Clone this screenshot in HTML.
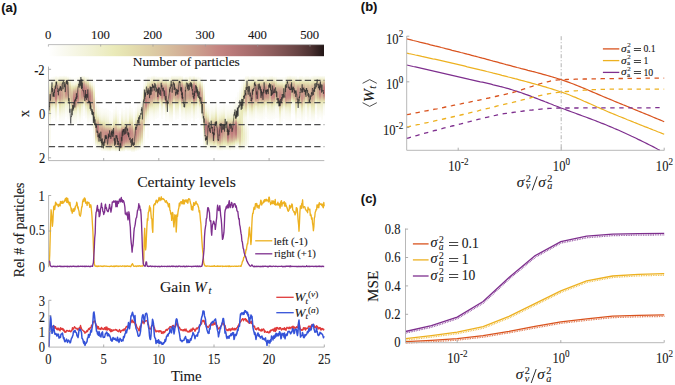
<!DOCTYPE html>
<html><head><meta charset="utf-8"><style>
html,body{margin:0;padding:0;background:#fff;width:675px;height:385px;overflow:hidden}
svg{display:block}
text{stroke:#161616;stroke-width:0.1px;paint-order:stroke}
</style></head><body>
<svg width="675" height="385" viewBox="0 0 675 385">
<defs><linearGradient id="h0" x1="0" y1="0" x2="0" y2="1"><stop offset="0" stop-color="#fdfdf9"/><stop offset="0.071" stop-color="#f7f7e7"/><stop offset="0.143" stop-color="#eeeec8"/><stop offset="0.214" stop-color="#e1d8ab"/><stop offset="0.286" stop-color="#d7bd9d"/><stop offset="0.357" stop-color="#d5b89a"/><stop offset="0.429" stop-color="#ddcea5"/><stop offset="0.5" stop-color="#eaeab9"/><stop offset="0.571" stop-color="#f4f4de"/><stop offset="0.643" stop-color="#fafaf1"/><stop offset="0.714" stop-color="#fbfbf3"/><stop offset="0.786" stop-color="#fafaf0"/><stop offset="0.857" stop-color="#fafaf1"/><stop offset="0.929" stop-color="#fbfbf3"/><stop offset="1" stop-color="#fdfdfa"/></linearGradient><linearGradient id="h1" x1="0" y1="0" x2="0" y2="1"><stop offset="0" stop-color="#fdfdfa"/><stop offset="0.071" stop-color="#f9f9ec"/><stop offset="0.143" stop-color="#f4f4de"/><stop offset="0.214" stop-color="#e9e9b8"/><stop offset="0.286" stop-color="#dac6a1"/><stop offset="0.357" stop-color="#d1ae95"/><stop offset="0.429" stop-color="#cfa992"/><stop offset="0.5" stop-color="#d0ac94"/><stop offset="0.571" stop-color="#d6ba9b"/><stop offset="0.643" stop-color="#e2daac"/><stop offset="0.714" stop-color="#f1f1d3"/><stop offset="0.786" stop-color="#f9f9ec"/><stop offset="0.857" stop-color="#fbfbf4"/><stop offset="0.929" stop-color="#fcfcf8"/><stop offset="1" stop-color="#fdfdfb"/></linearGradient><linearGradient id="h2" x1="0" y1="0" x2="0" y2="1"><stop offset="0" stop-color="#fdfdfa"/><stop offset="0.071" stop-color="#f7f7e9"/><stop offset="0.143" stop-color="#f0f0d1"/><stop offset="0.214" stop-color="#e3dcad"/><stop offset="0.286" stop-color="#d5b99b"/><stop offset="0.357" stop-color="#cfa792"/><stop offset="0.429" stop-color="#cea490"/><stop offset="0.5" stop-color="#d0a992"/><stop offset="0.571" stop-color="#d7bd9d"/><stop offset="0.643" stop-color="#e5e0af"/><stop offset="0.714" stop-color="#f2f2d6"/><stop offset="0.786" stop-color="#f8f8ea"/><stop offset="0.857" stop-color="#fafaf2"/><stop offset="0.929" stop-color="#fcfcf7"/><stop offset="1" stop-color="#fdfdfa"/></linearGradient><linearGradient id="h3" x1="0" y1="0" x2="0" y2="1"><stop offset="0" stop-color="#fdfdfa"/><stop offset="0.071" stop-color="#f4f4dd"/><stop offset="0.143" stop-color="#e2daac"/><stop offset="0.214" stop-color="#cea590"/><stop offset="0.286" stop-color="#c27f7f"/><stop offset="0.357" stop-color="#ba7a7a"/><stop offset="0.429" stop-color="#b67777"/><stop offset="0.5" stop-color="#bf7d7d"/><stop offset="0.571" stop-color="#d1ac94"/><stop offset="0.643" stop-color="#e3ddad"/><stop offset="0.714" stop-color="#eeeec9"/><stop offset="0.786" stop-color="#f4f4dd"/><stop offset="0.857" stop-color="#f8f8eb"/><stop offset="0.929" stop-color="#fbfbf5"/><stop offset="1" stop-color="#fdfdfa"/></linearGradient><linearGradient id="h4" x1="0" y1="0" x2="0" y2="1"><stop offset="0" stop-color="#fdfdf9"/><stop offset="0.071" stop-color="#f5f5e1"/><stop offset="0.143" stop-color="#e8e7b3"/><stop offset="0.214" stop-color="#d8bf9e"/><stop offset="0.286" stop-color="#cda18f"/><stop offset="0.357" stop-color="#ca988a"/><stop offset="0.429" stop-color="#ca988a"/><stop offset="0.5" stop-color="#cda18f"/><stop offset="0.571" stop-color="#d7be9d"/><stop offset="0.643" stop-color="#e7e6b3"/><stop offset="0.714" stop-color="#f4f4de"/><stop offset="0.786" stop-color="#f9f9ef"/><stop offset="0.857" stop-color="#fbfbf5"/><stop offset="0.929" stop-color="#fcfcf8"/><stop offset="1" stop-color="#fdfdfb"/></linearGradient><linearGradient id="h5" x1="0" y1="0" x2="0" y2="1"><stop offset="0" stop-color="#fdfdfa"/><stop offset="0.071" stop-color="#f2f2d8"/><stop offset="0.143" stop-color="#e2d9ab"/><stop offset="0.214" stop-color="#d3b398"/><stop offset="0.286" stop-color="#cda08e"/><stop offset="0.357" stop-color="#ca988a"/><stop offset="0.429" stop-color="#c89388"/><stop offset="0.5" stop-color="#cda28f"/><stop offset="0.571" stop-color="#dac6a1"/><stop offset="0.643" stop-color="#e6e2b1"/><stop offset="0.714" stop-color="#ededc4"/><stop offset="0.786" stop-color="#f2f2d8"/><stop offset="0.857" stop-color="#f8f8e9"/><stop offset="0.929" stop-color="#fbfbf5"/><stop offset="1" stop-color="#fdfdfa"/></linearGradient><linearGradient id="h6" x1="0" y1="0" x2="0" y2="1"><stop offset="0" stop-color="#fdfdfa"/><stop offset="0.071" stop-color="#f2f2d8"/><stop offset="0.143" stop-color="#e3dbac"/><stop offset="0.214" stop-color="#d6bb9b"/><stop offset="0.286" stop-color="#d0ac94"/><stop offset="0.357" stop-color="#cea591"/><stop offset="0.429" stop-color="#cda28f"/><stop offset="0.5" stop-color="#d2b096"/><stop offset="0.571" stop-color="#ded0a7"/><stop offset="0.643" stop-color="#e9e9b7"/><stop offset="0.714" stop-color="#efefcd"/><stop offset="0.786" stop-color="#f4f4de"/><stop offset="0.857" stop-color="#f8f8eb"/><stop offset="0.929" stop-color="#fbfbf5"/><stop offset="1" stop-color="#fdfdfa"/></linearGradient><linearGradient id="h7" x1="0" y1="0" x2="0" y2="1"><stop offset="0" stop-color="#fdfdfb"/><stop offset="0.071" stop-color="#f3f3d9"/><stop offset="0.143" stop-color="#e4deae"/><stop offset="0.214" stop-color="#dac6a1"/><stop offset="0.286" stop-color="#d6bc9c"/><stop offset="0.357" stop-color="#d5b89a"/><stop offset="0.429" stop-color="#d4b699"/><stop offset="0.5" stop-color="#d8bf9e"/><stop offset="0.571" stop-color="#e1d7aa"/><stop offset="0.643" stop-color="#ebebbd"/><stop offset="0.714" stop-color="#f1f1d2"/><stop offset="0.786" stop-color="#f5f5e0"/><stop offset="0.857" stop-color="#f9f9ed"/><stop offset="0.929" stop-color="#fbfbf5"/><stop offset="1" stop-color="#fdfdfa"/></linearGradient><linearGradient id="h8" x1="0" y1="0" x2="0" y2="1"><stop offset="0" stop-color="#fdfdfa"/><stop offset="0.071" stop-color="#f2f2d7"/><stop offset="0.143" stop-color="#dfd2a8"/><stop offset="0.214" stop-color="#d0a992"/><stop offset="0.286" stop-color="#c99589"/><stop offset="0.357" stop-color="#c78f86"/><stop offset="0.429" stop-color="#c78f86"/><stop offset="0.5" stop-color="#cea390"/><stop offset="0.571" stop-color="#decea6"/><stop offset="0.643" stop-color="#ececc3"/><stop offset="0.714" stop-color="#f3f3db"/><stop offset="0.786" stop-color="#f7f7e7"/><stop offset="0.857" stop-color="#fafaf0"/><stop offset="0.929" stop-color="#fcfcf6"/><stop offset="1" stop-color="#fdfdfa"/></linearGradient><linearGradient id="h9" x1="0" y1="0" x2="0" y2="1"><stop offset="0" stop-color="#fdfdf9"/><stop offset="0.071" stop-color="#f2f2d7"/><stop offset="0.143" stop-color="#e2d9ab"/><stop offset="0.214" stop-color="#d3b498"/><stop offset="0.286" stop-color="#cea490"/><stop offset="0.357" stop-color="#cca08e"/><stop offset="0.429" stop-color="#cda18f"/><stop offset="0.5" stop-color="#d4b799"/><stop offset="0.571" stop-color="#e3ddad"/><stop offset="0.643" stop-color="#efefcd"/><stop offset="0.714" stop-color="#f4f4de"/><stop offset="0.786" stop-color="#f7f7e7"/><stop offset="0.857" stop-color="#fafaf0"/><stop offset="0.929" stop-color="#fcfcf6"/><stop offset="1" stop-color="#fdfdfb"/></linearGradient><linearGradient id="h10" x1="0" y1="0" x2="0" y2="1"><stop offset="0" stop-color="#fdfdfa"/><stop offset="0.071" stop-color="#f8f8ea"/><stop offset="0.143" stop-color="#eeeeca"/><stop offset="0.214" stop-color="#e1d8ab"/><stop offset="0.286" stop-color="#dac5a1"/><stop offset="0.357" stop-color="#d7bf9d"/><stop offset="0.429" stop-color="#d7bd9d"/><stop offset="0.5" stop-color="#dac6a1"/><stop offset="0.571" stop-color="#e5e0af"/><stop offset="0.643" stop-color="#f1f1d2"/><stop offset="0.714" stop-color="#f7f7e6"/><stop offset="0.786" stop-color="#f9f9ee"/><stop offset="0.857" stop-color="#fbfbf3"/><stop offset="0.929" stop-color="#fcfcf7"/><stop offset="1" stop-color="#fdfdfa"/></linearGradient><linearGradient id="h11" x1="0" y1="0" x2="0" y2="1"><stop offset="0" stop-color="#fdfdfa"/><stop offset="0.071" stop-color="#fafaf0"/><stop offset="0.143" stop-color="#f3f3da"/><stop offset="0.214" stop-color="#e7e5b2"/><stop offset="0.286" stop-color="#ddcca5"/><stop offset="0.357" stop-color="#d7bd9d"/><stop offset="0.429" stop-color="#d2b197"/><stop offset="0.5" stop-color="#d3b297"/><stop offset="0.571" stop-color="#dccba4"/><stop offset="0.643" stop-color="#eaeab9"/><stop offset="0.714" stop-color="#f2f2d6"/><stop offset="0.786" stop-color="#f6f6e6"/><stop offset="0.857" stop-color="#fafaf0"/><stop offset="0.929" stop-color="#fcfcf7"/><stop offset="1" stop-color="#fdfdfa"/></linearGradient><linearGradient id="h12" x1="0" y1="0" x2="0" y2="1"><stop offset="0" stop-color="#fdfdfa"/><stop offset="0.071" stop-color="#fafaf1"/><stop offset="0.143" stop-color="#f4f4de"/><stop offset="0.214" stop-color="#e4dfaf"/><stop offset="0.286" stop-color="#d2b196"/><stop offset="0.357" stop-color="#c89388"/><stop offset="0.429" stop-color="#c38280"/><stop offset="0.5" stop-color="#c27f7f"/><stop offset="0.571" stop-color="#cc9f8e"/><stop offset="0.643" stop-color="#e0d4a9"/><stop offset="0.714" stop-color="#efefcc"/><stop offset="0.786" stop-color="#f6f6e3"/><stop offset="0.857" stop-color="#f9f9ef"/><stop offset="0.929" stop-color="#fcfcf6"/><stop offset="1" stop-color="#fdfdfa"/></linearGradient><linearGradient id="h13" x1="0" y1="0" x2="0" y2="1"><stop offset="0" stop-color="#fdfdfa"/><stop offset="0.071" stop-color="#fafaf0"/><stop offset="0.143" stop-color="#f3f3d9"/><stop offset="0.214" stop-color="#e2d9ab"/><stop offset="0.286" stop-color="#d0ab94"/><stop offset="0.357" stop-color="#c89288"/><stop offset="0.429" stop-color="#c58883"/><stop offset="0.5" stop-color="#c48682"/><stop offset="0.571" stop-color="#cea490"/><stop offset="0.643" stop-color="#e1d6aa"/><stop offset="0.714" stop-color="#efefcd"/><stop offset="0.786" stop-color="#f6f6e3"/><stop offset="0.857" stop-color="#f9f9ef"/><stop offset="0.929" stop-color="#fcfcf6"/><stop offset="1" stop-color="#fdfdfb"/></linearGradient><linearGradient id="h14" x1="0" y1="0" x2="0" y2="1"><stop offset="0" stop-color="#fdfdfa"/><stop offset="0.071" stop-color="#f9f9ee"/><stop offset="0.143" stop-color="#f2f2d8"/><stop offset="0.214" stop-color="#e2d8ab"/><stop offset="0.286" stop-color="#cea691"/><stop offset="0.357" stop-color="#c58983"/><stop offset="0.429" stop-color="#c27f7f"/><stop offset="0.5" stop-color="#c17e7e"/><stop offset="0.571" stop-color="#cc9e8d"/><stop offset="0.643" stop-color="#e0d4a9"/><stop offset="0.714" stop-color="#f0f0ce"/><stop offset="0.786" stop-color="#f6f6e4"/><stop offset="0.857" stop-color="#f9f9ef"/><stop offset="0.929" stop-color="#fcfcf6"/><stop offset="1" stop-color="#fdfdfa"/></linearGradient><linearGradient id="h15" x1="0" y1="0" x2="0" y2="1"><stop offset="0" stop-color="#fdfdfa"/><stop offset="0.071" stop-color="#f5f5e0"/><stop offset="0.143" stop-color="#eaeaba"/><stop offset="0.214" stop-color="#dbc9a3"/><stop offset="0.286" stop-color="#d3b297"/><stop offset="0.357" stop-color="#d1ac94"/><stop offset="0.429" stop-color="#d0a993"/><stop offset="0.5" stop-color="#d2b197"/><stop offset="0.571" stop-color="#ddcca4"/><stop offset="0.643" stop-color="#e7e5b2"/><stop offset="0.714" stop-color="#ededc4"/><stop offset="0.786" stop-color="#f2f2d7"/><stop offset="0.857" stop-color="#f7f7e8"/><stop offset="0.929" stop-color="#fbfbf4"/><stop offset="1" stop-color="#fdfdfa"/></linearGradient><linearGradient id="h16" x1="0" y1="0" x2="0" y2="1"><stop offset="0" stop-color="#fdfdfa"/><stop offset="0.071" stop-color="#f1f1d4"/><stop offset="0.143" stop-color="#ded0a6"/><stop offset="0.214" stop-color="#cea591"/><stop offset="0.286" stop-color="#c78f86"/><stop offset="0.357" stop-color="#c68b84"/><stop offset="0.429" stop-color="#c78e86"/><stop offset="0.5" stop-color="#cc9f8d"/><stop offset="0.571" stop-color="#d9c4a0"/><stop offset="0.643" stop-color="#e9e9b8"/><stop offset="0.714" stop-color="#f3f3d9"/><stop offset="0.786" stop-color="#f7f7e7"/><stop offset="0.857" stop-color="#fafaf0"/><stop offset="0.929" stop-color="#fcfcf7"/><stop offset="1" stop-color="#fdfdfb"/></linearGradient><linearGradient id="h17" x1="0" y1="0" x2="0" y2="1"><stop offset="0" stop-color="#fdfdf9"/><stop offset="0.071" stop-color="#f0f0d1"/><stop offset="0.143" stop-color="#dcc9a3"/><stop offset="0.214" stop-color="#ca988a"/><stop offset="0.286" stop-color="#bf7d7d"/><stop offset="0.357" stop-color="#bb7a7a"/><stop offset="0.429" stop-color="#bd7b7b"/><stop offset="0.5" stop-color="#c58782"/><stop offset="0.571" stop-color="#d2af95"/><stop offset="0.643" stop-color="#e5e0af"/><stop offset="0.714" stop-color="#f4f4dc"/><stop offset="0.786" stop-color="#fafaf0"/><stop offset="0.857" stop-color="#fbfbf5"/><stop offset="0.929" stop-color="#fcfcf8"/><stop offset="1" stop-color="#fdfdfa"/></linearGradient><linearGradient id="h18" x1="0" y1="0" x2="0" y2="1"><stop offset="0" stop-color="#fdfdfa"/><stop offset="0.071" stop-color="#f4f4dc"/><stop offset="0.143" stop-color="#e3dbad"/><stop offset="0.214" stop-color="#d0ac94"/><stop offset="0.286" stop-color="#c68b84"/><stop offset="0.357" stop-color="#bd7c7c"/><stop offset="0.429" stop-color="#b37575"/><stop offset="0.5" stop-color="#bb7a7a"/><stop offset="0.571" stop-color="#cfa792"/><stop offset="0.643" stop-color="#e2d9ac"/><stop offset="0.714" stop-color="#ededc7"/><stop offset="0.786" stop-color="#f4f4dd"/><stop offset="0.857" stop-color="#f8f8ec"/><stop offset="0.929" stop-color="#fbfbf5"/><stop offset="1" stop-color="#fdfdfa"/></linearGradient><linearGradient id="h19" x1="0" y1="0" x2="0" y2="1"><stop offset="0" stop-color="#fdfdfa"/><stop offset="0.071" stop-color="#f6f6e3"/><stop offset="0.143" stop-color="#e6e4b1"/><stop offset="0.214" stop-color="#d4b498"/><stop offset="0.286" stop-color="#c9978a"/><stop offset="0.357" stop-color="#c68b84"/><stop offset="0.429" stop-color="#c38381"/><stop offset="0.5" stop-color="#c99489"/><stop offset="0.571" stop-color="#d8c19f"/><stop offset="0.643" stop-color="#e6e3b1"/><stop offset="0.714" stop-color="#ededc6"/><stop offset="0.786" stop-color="#f3f3d9"/><stop offset="0.857" stop-color="#f8f8e9"/><stop offset="0.929" stop-color="#fbfbf4"/><stop offset="1" stop-color="#fdfdfa"/></linearGradient><linearGradient id="h20" x1="0" y1="0" x2="0" y2="1"><stop offset="0" stop-color="#fdfdfa"/><stop offset="0.071" stop-color="#f9f9ef"/><stop offset="0.143" stop-color="#f1f1d2"/><stop offset="0.214" stop-color="#ded0a7"/><stop offset="0.286" stop-color="#cea590"/><stop offset="0.357" stop-color="#c68b84"/><stop offset="0.429" stop-color="#bd7c7c"/><stop offset="0.5" stop-color="#bb7a7a"/><stop offset="0.571" stop-color="#cda08e"/><stop offset="0.643" stop-color="#e0d5a9"/><stop offset="0.714" stop-color="#ececc3"/><stop offset="0.786" stop-color="#f3f3db"/><stop offset="0.857" stop-color="#f8f8eb"/><stop offset="0.929" stop-color="#fbfbf5"/><stop offset="1" stop-color="#fdfdfa"/></linearGradient><linearGradient id="h21" x1="0" y1="0" x2="0" y2="1"><stop offset="0" stop-color="#fdfdfa"/><stop offset="0.071" stop-color="#fbfbf3"/><stop offset="0.143" stop-color="#f4f4dd"/><stop offset="0.214" stop-color="#e3dbac"/><stop offset="0.286" stop-color="#d3b397"/><stop offset="0.357" stop-color="#cda28f"/><stop offset="0.429" stop-color="#cb9c8c"/><stop offset="0.5" stop-color="#cea591"/><stop offset="0.571" stop-color="#ddcda5"/><stop offset="0.643" stop-color="#eeeec8"/><stop offset="0.714" stop-color="#f5f5e0"/><stop offset="0.786" stop-color="#f8f8ea"/><stop offset="0.857" stop-color="#fafaf2"/><stop offset="0.929" stop-color="#fcfcf7"/><stop offset="1" stop-color="#fdfdfa"/></linearGradient><linearGradient id="h22" x1="0" y1="0" x2="0" y2="1"><stop offset="0" stop-color="#fdfdfb"/><stop offset="0.071" stop-color="#fbfbf5"/><stop offset="0.143" stop-color="#f4f4dc"/><stop offset="0.214" stop-color="#e9e9b8"/><stop offset="0.286" stop-color="#e1d6aa"/><stop offset="0.357" stop-color="#d6ba9b"/><stop offset="0.429" stop-color="#d1ac94"/><stop offset="0.5" stop-color="#d7bd9d"/><stop offset="0.571" stop-color="#dfd3a8"/><stop offset="0.643" stop-color="#e8e8b4"/><stop offset="0.714" stop-color="#f0f0d1"/><stop offset="0.786" stop-color="#f6f6e5"/><stop offset="0.857" stop-color="#fafaf1"/><stop offset="0.929" stop-color="#fcfcf7"/><stop offset="1" stop-color="#fdfdfa"/></linearGradient><linearGradient id="h23" x1="0" y1="0" x2="0" y2="1"><stop offset="0" stop-color="#fdfdfb"/><stop offset="0.071" stop-color="#fcfcf6"/><stop offset="0.143" stop-color="#f9f9ef"/><stop offset="0.214" stop-color="#f5f5e2"/><stop offset="0.286" stop-color="#f0f0d0"/><stop offset="0.357" stop-color="#eaeabb"/><stop offset="0.429" stop-color="#e2daac"/><stop offset="0.5" stop-color="#d6bc9c"/><stop offset="0.571" stop-color="#d0a993"/><stop offset="0.643" stop-color="#d3b297"/><stop offset="0.714" stop-color="#d9c29f"/><stop offset="0.786" stop-color="#e1d8ab"/><stop offset="0.857" stop-color="#efefcc"/><stop offset="0.929" stop-color="#f9f9ee"/><stop offset="1" stop-color="#fdfdfa"/></linearGradient><linearGradient id="h24" x1="0" y1="0" x2="0" y2="1"><stop offset="0" stop-color="#fdfdfb"/><stop offset="0.071" stop-color="#fcfcf7"/><stop offset="0.143" stop-color="#fafaf1"/><stop offset="0.214" stop-color="#f7f7e7"/><stop offset="0.286" stop-color="#f1f1d3"/><stop offset="0.357" stop-color="#e4deae"/><stop offset="0.429" stop-color="#d1ac94"/><stop offset="0.5" stop-color="#c48582"/><stop offset="0.571" stop-color="#c38280"/><stop offset="0.643" stop-color="#c78f86"/><stop offset="0.714" stop-color="#cea590"/><stop offset="0.786" stop-color="#dccba4"/><stop offset="0.857" stop-color="#ededc7"/><stop offset="0.929" stop-color="#f8f8ea"/><stop offset="1" stop-color="#fdfdf9"/></linearGradient><linearGradient id="h25" x1="0" y1="0" x2="0" y2="1"><stop offset="0" stop-color="#fdfdfa"/><stop offset="0.071" stop-color="#fcfcf6"/><stop offset="0.143" stop-color="#f9f9ef"/><stop offset="0.214" stop-color="#f6f6e3"/><stop offset="0.286" stop-color="#f0f0d1"/><stop offset="0.357" stop-color="#e6e4b1"/><stop offset="0.429" stop-color="#d8c09e"/><stop offset="0.5" stop-color="#cfa691"/><stop offset="0.571" stop-color="#cda390"/><stop offset="0.643" stop-color="#d0ab93"/><stop offset="0.714" stop-color="#d6ba9b"/><stop offset="0.786" stop-color="#e1d6aa"/><stop offset="0.857" stop-color="#efefcb"/><stop offset="0.929" stop-color="#f7f7e8"/><stop offset="1" stop-color="#fdfdf9"/></linearGradient><linearGradient id="h26" x1="0" y1="0" x2="0" y2="1"><stop offset="0" stop-color="#fdfdfa"/><stop offset="0.071" stop-color="#fcfcf6"/><stop offset="0.143" stop-color="#fafaf0"/><stop offset="0.214" stop-color="#f6f6e5"/><stop offset="0.286" stop-color="#f1f1d5"/><stop offset="0.357" stop-color="#e7e5b2"/><stop offset="0.429" stop-color="#d7be9d"/><stop offset="0.5" stop-color="#cb9c8c"/><stop offset="0.571" stop-color="#c89287"/><stop offset="0.643" stop-color="#c99689"/><stop offset="0.714" stop-color="#cca08e"/><stop offset="0.786" stop-color="#d5b89a"/><stop offset="0.857" stop-color="#e5e0af"/><stop offset="0.929" stop-color="#f4f4de"/><stop offset="1" stop-color="#fdfdfa"/></linearGradient><linearGradient id="h27" x1="0" y1="0" x2="0" y2="1"><stop offset="0" stop-color="#fdfdfa"/><stop offset="0.071" stop-color="#fbfbf5"/><stop offset="0.143" stop-color="#f8f8ec"/><stop offset="0.214" stop-color="#f4f4de"/><stop offset="0.286" stop-color="#efefcd"/><stop offset="0.357" stop-color="#e7e6b2"/><stop offset="0.429" stop-color="#dac4a0"/><stop offset="0.5" stop-color="#cca08e"/><stop offset="0.571" stop-color="#c89187"/><stop offset="0.643" stop-color="#c99689"/><stop offset="0.714" stop-color="#cc9f8d"/><stop offset="0.786" stop-color="#d3b398"/><stop offset="0.857" stop-color="#e1d8ab"/><stop offset="0.929" stop-color="#f2f2d6"/><stop offset="1" stop-color="#fdfdf9"/></linearGradient><linearGradient id="h28" x1="0" y1="0" x2="0" y2="1"><stop offset="0" stop-color="#fdfdfa"/><stop offset="0.071" stop-color="#fcfcf6"/><stop offset="0.143" stop-color="#f9f9ef"/><stop offset="0.214" stop-color="#f6f6e4"/><stop offset="0.286" stop-color="#f2f2d8"/><stop offset="0.357" stop-color="#ededc4"/><stop offset="0.429" stop-color="#e0d5a9"/><stop offset="0.5" stop-color="#d0a993"/><stop offset="0.571" stop-color="#c68c85"/><stop offset="0.643" stop-color="#c58883"/><stop offset="0.714" stop-color="#c78e86"/><stop offset="0.786" stop-color="#cc9f8e"/><stop offset="0.857" stop-color="#dac6a2"/><stop offset="0.929" stop-color="#efefcc"/><stop offset="1" stop-color="#fdfdf9"/></linearGradient><linearGradient id="h29" x1="0" y1="0" x2="0" y2="1"><stop offset="0" stop-color="#fdfdfa"/><stop offset="0.071" stop-color="#fcfcf6"/><stop offset="0.143" stop-color="#fafaef"/><stop offset="0.214" stop-color="#f6f6e6"/><stop offset="0.286" stop-color="#f3f3d9"/><stop offset="0.357" stop-color="#ebebbf"/><stop offset="0.429" stop-color="#dccca4"/><stop offset="0.5" stop-color="#cc9f8e"/><stop offset="0.571" stop-color="#c48782"/><stop offset="0.643" stop-color="#c48582"/><stop offset="0.714" stop-color="#c68a84"/><stop offset="0.786" stop-color="#cb9d8d"/><stop offset="0.857" stop-color="#dac5a1"/><stop offset="0.929" stop-color="#f0f0d0"/><stop offset="1" stop-color="#fdfdfa"/></linearGradient><linearGradient id="h30" x1="0" y1="0" x2="0" y2="1"><stop offset="0" stop-color="#fdfdfb"/><stop offset="0.071" stop-color="#fcfcf8"/><stop offset="0.143" stop-color="#fbfbf5"/><stop offset="0.214" stop-color="#fafaf0"/><stop offset="0.286" stop-color="#f5f5e2"/><stop offset="0.357" stop-color="#eaeabc"/><stop offset="0.429" stop-color="#dac4a0"/><stop offset="0.5" stop-color="#cc9d8d"/><stop offset="0.571" stop-color="#c58983"/><stop offset="0.643" stop-color="#c48582"/><stop offset="0.714" stop-color="#c58783"/><stop offset="0.786" stop-color="#ca988a"/><stop offset="0.857" stop-color="#d6bc9c"/><stop offset="0.929" stop-color="#ededc7"/><stop offset="1" stop-color="#fdfdf9"/></linearGradient><linearGradient id="h31" x1="0" y1="0" x2="0" y2="1"><stop offset="0" stop-color="#fdfdfa"/><stop offset="0.071" stop-color="#fcfcf8"/><stop offset="0.143" stop-color="#fbfbf4"/><stop offset="0.214" stop-color="#f9f9ee"/><stop offset="0.286" stop-color="#f6f6e3"/><stop offset="0.357" stop-color="#ececc2"/><stop offset="0.429" stop-color="#dbc7a2"/><stop offset="0.5" stop-color="#cb9b8c"/><stop offset="0.571" stop-color="#c48581"/><stop offset="0.643" stop-color="#c38280"/><stop offset="0.714" stop-color="#c58883"/><stop offset="0.786" stop-color="#cca08e"/><stop offset="0.857" stop-color="#dccba4"/><stop offset="0.929" stop-color="#f1f1d3"/><stop offset="1" stop-color="#fdfdf9"/></linearGradient><linearGradient id="h32" x1="0" y1="0" x2="0" y2="1"><stop offset="0" stop-color="#fdfdfb"/><stop offset="0.071" stop-color="#fcfcf6"/><stop offset="0.143" stop-color="#f9f9ed"/><stop offset="0.214" stop-color="#f5f5df"/><stop offset="0.286" stop-color="#efefce"/><stop offset="0.357" stop-color="#e9e9b6"/><stop offset="0.429" stop-color="#ddcca5"/><stop offset="0.5" stop-color="#cda38f"/><stop offset="0.571" stop-color="#c68b84"/><stop offset="0.643" stop-color="#c78e86"/><stop offset="0.714" stop-color="#ca998b"/><stop offset="0.786" stop-color="#d0a993"/><stop offset="0.857" stop-color="#ddcca5"/><stop offset="0.929" stop-color="#f0f0d0"/><stop offset="1" stop-color="#fdfdf9"/></linearGradient><linearGradient id="h33" x1="0" y1="0" x2="0" y2="1"><stop offset="0" stop-color="#fdfdfb"/><stop offset="0.071" stop-color="#fcfcf6"/><stop offset="0.143" stop-color="#f9f9ec"/><stop offset="0.214" stop-color="#f4f4de"/><stop offset="0.286" stop-color="#efefcc"/><stop offset="0.357" stop-color="#e9e9b8"/><stop offset="0.429" stop-color="#dfd3a8"/><stop offset="0.5" stop-color="#d0aa93"/><stop offset="0.571" stop-color="#c68b84"/><stop offset="0.643" stop-color="#c58783"/><stop offset="0.714" stop-color="#c78e85"/><stop offset="0.786" stop-color="#ca988a"/><stop offset="0.857" stop-color="#d5b79a"/><stop offset="0.929" stop-color="#ebebbe"/><stop offset="1" stop-color="#fdfdf9"/></linearGradient><linearGradient id="h34" x1="0" y1="0" x2="0" y2="1"><stop offset="0" stop-color="#fdfdfb"/><stop offset="0.071" stop-color="#fcfcf6"/><stop offset="0.143" stop-color="#f9f9ef"/><stop offset="0.214" stop-color="#f6f6e5"/><stop offset="0.286" stop-color="#f3f3d9"/><stop offset="0.357" stop-color="#ededc6"/><stop offset="0.429" stop-color="#e1d6aa"/><stop offset="0.5" stop-color="#cfa791"/><stop offset="0.571" stop-color="#c48481"/><stop offset="0.643" stop-color="#c2807f"/><stop offset="0.714" stop-color="#c48582"/><stop offset="0.786" stop-color="#c99589"/><stop offset="0.857" stop-color="#d7bd9d"/><stop offset="0.929" stop-color="#efefcd"/><stop offset="1" stop-color="#fdfdfa"/></linearGradient><linearGradient id="h35" x1="0" y1="0" x2="0" y2="1"><stop offset="0" stop-color="#fdfdfa"/><stop offset="0.071" stop-color="#fdfdf9"/><stop offset="0.143" stop-color="#fcfcf6"/><stop offset="0.214" stop-color="#fafaf1"/><stop offset="0.286" stop-color="#f5f5e0"/><stop offset="0.357" stop-color="#e6e3b1"/><stop offset="0.429" stop-color="#d1ac94"/><stop offset="0.5" stop-color="#bb7a7a"/><stop offset="0.571" stop-color="#a96e6e"/><stop offset="0.643" stop-color="#a56c6c"/><stop offset="0.714" stop-color="#a66d6d"/><stop offset="0.786" stop-color="#b67777"/><stop offset="0.857" stop-color="#cea490"/><stop offset="0.929" stop-color="#efefcb"/><stop offset="1" stop-color="#fdfdfa"/></linearGradient><linearGradient id="h36" x1="0" y1="0" x2="0" y2="1"><stop offset="0" stop-color="#fdfdfa"/><stop offset="0.071" stop-color="#fbfbf5"/><stop offset="0.143" stop-color="#f8f8ec"/><stop offset="0.214" stop-color="#f4f4dd"/><stop offset="0.286" stop-color="#efefcc"/><stop offset="0.357" stop-color="#eaeab9"/><stop offset="0.429" stop-color="#ddcda5"/><stop offset="0.5" stop-color="#c68b84"/><stop offset="0.571" stop-color="#9e6767"/><stop offset="0.643" stop-color="#936060"/><stop offset="0.714" stop-color="#9a6565"/><stop offset="0.786" stop-color="#a76d6d"/><stop offset="0.857" stop-color="#c78f86"/><stop offset="0.929" stop-color="#e8e7b3"/><stop offset="1" stop-color="#fdfdf9"/></linearGradient><linearGradient id="h37" x1="0" y1="0" x2="0" y2="1"><stop offset="0" stop-color="#fdfdfa"/><stop offset="0.071" stop-color="#fcfcf7"/><stop offset="0.143" stop-color="#fafaf0"/><stop offset="0.214" stop-color="#f7f7e6"/><stop offset="0.286" stop-color="#f2f2d7"/><stop offset="0.357" stop-color="#e8e8b4"/><stop offset="0.429" stop-color="#d6bb9b"/><stop offset="0.5" stop-color="#c48481"/><stop offset="0.571" stop-color="#b47676"/><stop offset="0.643" stop-color="#b77878"/><stop offset="0.714" stop-color="#bf7d7d"/><stop offset="0.786" stop-color="#c89187"/><stop offset="0.857" stop-color="#d7be9d"/><stop offset="0.929" stop-color="#efefce"/><stop offset="1" stop-color="#fdfdfa"/></linearGradient><linearGradient id="h38" x1="0" y1="0" x2="0" y2="1"><stop offset="0" stop-color="#fdfdfa"/><stop offset="0.071" stop-color="#fcfcf6"/><stop offset="0.143" stop-color="#f9f9ee"/><stop offset="0.214" stop-color="#f6f6e4"/><stop offset="0.286" stop-color="#f2f2d8"/><stop offset="0.357" stop-color="#eeeec8"/><stop offset="0.429" stop-color="#e2d8ab"/><stop offset="0.5" stop-color="#cda28f"/><stop offset="0.571" stop-color="#bc7b7b"/><stop offset="0.643" stop-color="#b87878"/><stop offset="0.714" stop-color="#be7c7c"/><stop offset="0.786" stop-color="#c79087"/><stop offset="0.857" stop-color="#d9c4a0"/><stop offset="0.929" stop-color="#f0f0ce"/><stop offset="1" stop-color="#fdfdf9"/></linearGradient><linearGradient id="h39" x1="0" y1="0" x2="0" y2="1"><stop offset="0" stop-color="#fdfdfb"/><stop offset="0.071" stop-color="#fcfcf8"/><stop offset="0.143" stop-color="#fbfbf4"/><stop offset="0.214" stop-color="#f9f9ee"/><stop offset="0.286" stop-color="#f5f5e1"/><stop offset="0.357" stop-color="#ebebbd"/><stop offset="0.429" stop-color="#d9c3a0"/><stop offset="0.5" stop-color="#ca988a"/><stop offset="0.571" stop-color="#c48481"/><stop offset="0.643" stop-color="#c48381"/><stop offset="0.714" stop-color="#c68b84"/><stop offset="0.786" stop-color="#cda38f"/><stop offset="0.857" stop-color="#ddcda5"/><stop offset="0.929" stop-color="#f0f0d1"/><stop offset="1" stop-color="#fdfdfa"/></linearGradient><linearGradient id="h40" x1="0" y1="0" x2="0" y2="1"><stop offset="0" stop-color="#fdfdfa"/><stop offset="0.071" stop-color="#fcfcf6"/><stop offset="0.143" stop-color="#f9f9ed"/><stop offset="0.214" stop-color="#f4f4de"/><stop offset="0.286" stop-color="#eeeecb"/><stop offset="0.357" stop-color="#e6e3b1"/><stop offset="0.429" stop-color="#d8c19f"/><stop offset="0.5" stop-color="#c9978a"/><stop offset="0.571" stop-color="#c38280"/><stop offset="0.643" stop-color="#c48682"/><stop offset="0.714" stop-color="#c79087"/><stop offset="0.786" stop-color="#cda38f"/><stop offset="0.857" stop-color="#dbc7a2"/><stop offset="0.929" stop-color="#eeeec8"/><stop offset="1" stop-color="#fdfdf9"/></linearGradient><linearGradient id="h41" x1="0" y1="0" x2="0" y2="1"><stop offset="0" stop-color="#fdfdfa"/><stop offset="0.071" stop-color="#fbfbf5"/><stop offset="0.143" stop-color="#f8f8ea"/><stop offset="0.214" stop-color="#f2f2d7"/><stop offset="0.286" stop-color="#eaeabc"/><stop offset="0.357" stop-color="#e0d5a9"/><stop offset="0.429" stop-color="#d4b598"/><stop offset="0.5" stop-color="#ca988a"/><stop offset="0.571" stop-color="#c68d85"/><stop offset="0.643" stop-color="#c89287"/><stop offset="0.714" stop-color="#cb9d8d"/><stop offset="0.786" stop-color="#d3b297"/><stop offset="0.857" stop-color="#ded0a7"/><stop offset="0.929" stop-color="#f1f1d3"/><stop offset="1" stop-color="#fdfdfa"/></linearGradient><linearGradient id="h42" x1="0" y1="0" x2="0" y2="1"><stop offset="0" stop-color="#fdfdfb"/><stop offset="0.071" stop-color="#fcfcf7"/><stop offset="0.143" stop-color="#fafaf2"/><stop offset="0.214" stop-color="#f8f8e9"/><stop offset="0.286" stop-color="#f2f2d8"/><stop offset="0.357" stop-color="#e9e9b6"/><stop offset="0.429" stop-color="#ddcda5"/><stop offset="0.5" stop-color="#d3b397"/><stop offset="0.571" stop-color="#cea390"/><stop offset="0.643" stop-color="#cc9e8d"/><stop offset="0.714" stop-color="#cda38f"/><stop offset="0.786" stop-color="#d4b498"/><stop offset="0.857" stop-color="#dfd1a7"/><stop offset="0.929" stop-color="#f2f2d6"/><stop offset="1" stop-color="#fdfdfa"/></linearGradient><linearGradient id="h43" x1="0" y1="0" x2="0" y2="1"><stop offset="0" stop-color="#fdfdfa"/><stop offset="0.071" stop-color="#fcfcf6"/><stop offset="0.143" stop-color="#f9f9ed"/><stop offset="0.214" stop-color="#f4f4dd"/><stop offset="0.286" stop-color="#ededc6"/><stop offset="0.357" stop-color="#e4deae"/><stop offset="0.429" stop-color="#d6bc9c"/><stop offset="0.5" stop-color="#c89388"/><stop offset="0.571" stop-color="#c38280"/><stop offset="0.643" stop-color="#c68d85"/><stop offset="0.714" stop-color="#cc9f8e"/><stop offset="0.786" stop-color="#d4b699"/><stop offset="0.857" stop-color="#e1d8ab"/><stop offset="0.929" stop-color="#f2f2d5"/><stop offset="1" stop-color="#fdfdfa"/></linearGradient><linearGradient id="h44" x1="0" y1="0" x2="0" y2="1"><stop offset="0" stop-color="#fdfdfa"/><stop offset="0.071" stop-color="#fbfbf5"/><stop offset="0.143" stop-color="#f8f8ea"/><stop offset="0.214" stop-color="#f2f2d7"/><stop offset="0.286" stop-color="#eaeabc"/><stop offset="0.357" stop-color="#e3dbad"/><stop offset="0.429" stop-color="#d9c29f"/><stop offset="0.5" stop-color="#cda28f"/><stop offset="0.571" stop-color="#c99589"/><stop offset="0.643" stop-color="#cda08e"/><stop offset="0.714" stop-color="#d2af96"/><stop offset="0.786" stop-color="#d8c19f"/><stop offset="0.857" stop-color="#e5e0af"/><stop offset="0.929" stop-color="#f3f3da"/><stop offset="1" stop-color="#fdfdfa"/></linearGradient><linearGradient id="h45" x1="0" y1="0" x2="0" y2="1"><stop offset="0" stop-color="#fdfdfb"/><stop offset="0.071" stop-color="#fcfcf7"/><stop offset="0.143" stop-color="#fafaf0"/><stop offset="0.214" stop-color="#f6f6e4"/><stop offset="0.286" stop-color="#f0f0d1"/><stop offset="0.357" stop-color="#e9e9b6"/><stop offset="0.429" stop-color="#ddcda5"/><stop offset="0.5" stop-color="#d0ab93"/><stop offset="0.571" stop-color="#cda18f"/><stop offset="0.643" stop-color="#d1ae95"/><stop offset="0.714" stop-color="#d7bc9c"/><stop offset="0.786" stop-color="#decfa6"/><stop offset="0.857" stop-color="#ebebbc"/><stop offset="0.929" stop-color="#f6f6e5"/><stop offset="1" stop-color="#fdfdfa"/></linearGradient><linearGradient id="h46" x1="0" y1="0" x2="0" y2="1"><stop offset="0" stop-color="#fdfdfb"/><stop offset="0.071" stop-color="#fcfcf7"/><stop offset="0.143" stop-color="#fafaef"/><stop offset="0.214" stop-color="#f6f6e4"/><stop offset="0.286" stop-color="#f1f1d5"/><stop offset="0.357" stop-color="#ebebc0"/><stop offset="0.429" stop-color="#e5e1b0"/><stop offset="0.5" stop-color="#dcc9a3"/><stop offset="0.571" stop-color="#d2af95"/><stop offset="0.643" stop-color="#d3b498"/><stop offset="0.714" stop-color="#dac5a1"/><stop offset="0.786" stop-color="#e1d7aa"/><stop offset="0.857" stop-color="#eeeecb"/><stop offset="0.929" stop-color="#f9f9ef"/><stop offset="1" stop-color="#fdfdfa"/></linearGradient><linearGradient id="h47" x1="0" y1="0" x2="0" y2="1"><stop offset="0" stop-color="#fdfdfa"/><stop offset="0.071" stop-color="#fafaf2"/><stop offset="0.143" stop-color="#f4f4de"/><stop offset="0.214" stop-color="#eaeaba"/><stop offset="0.286" stop-color="#decfa6"/><stop offset="0.357" stop-color="#d4b799"/><stop offset="0.429" stop-color="#d2b096"/><stop offset="0.5" stop-color="#d5b99b"/><stop offset="0.571" stop-color="#dbc9a3"/><stop offset="0.643" stop-color="#e4ddae"/><stop offset="0.714" stop-color="#ececc3"/><stop offset="0.786" stop-color="#f4f4df"/><stop offset="0.857" stop-color="#f9f9ee"/><stop offset="0.929" stop-color="#fbfbf4"/><stop offset="1" stop-color="#fdfdfa"/></linearGradient><linearGradient id="h48" x1="0" y1="0" x2="0" y2="1"><stop offset="0" stop-color="#fdfdfb"/><stop offset="0.071" stop-color="#f9f9ef"/><stop offset="0.143" stop-color="#f5f5e1"/><stop offset="0.214" stop-color="#ececc0"/><stop offset="0.286" stop-color="#dbc9a3"/><stop offset="0.357" stop-color="#cea390"/><stop offset="0.429" stop-color="#c58983"/><stop offset="0.5" stop-color="#be7c7c"/><stop offset="0.571" stop-color="#c58a84"/><stop offset="0.643" stop-color="#d5b89a"/><stop offset="0.714" stop-color="#e4deae"/><stop offset="0.786" stop-color="#efefcc"/><stop offset="0.857" stop-color="#f7f7e6"/><stop offset="0.929" stop-color="#fbfbf4"/><stop offset="1" stop-color="#fdfdfa"/></linearGradient><linearGradient id="h49" x1="0" y1="0" x2="0" y2="1"><stop offset="0" stop-color="#fdfdfa"/><stop offset="0.071" stop-color="#f4f4df"/><stop offset="0.143" stop-color="#e7e5b2"/><stop offset="0.214" stop-color="#d4b699"/><stop offset="0.286" stop-color="#cb9c8c"/><stop offset="0.357" stop-color="#c99589"/><stop offset="0.429" stop-color="#cda18e"/><stop offset="0.5" stop-color="#ddcea5"/><stop offset="0.571" stop-color="#eeeeca"/><stop offset="0.643" stop-color="#f7f7e7"/><stop offset="0.714" stop-color="#fbfbf5"/><stop offset="0.786" stop-color="#fdfdf9"/><stop offset="0.857" stop-color="#fdfdfa"/><stop offset="0.929" stop-color="#fdfdfa"/><stop offset="1" stop-color="#fdfdfb"/></linearGradient><linearGradient id="h50" x1="0" y1="0" x2="0" y2="1"><stop offset="0" stop-color="#fdfdfa"/><stop offset="0.071" stop-color="#f6f6e5"/><stop offset="0.143" stop-color="#ececc3"/><stop offset="0.214" stop-color="#ddcea5"/><stop offset="0.286" stop-color="#d2af95"/><stop offset="0.357" stop-color="#cca08e"/><stop offset="0.429" stop-color="#ca998b"/><stop offset="0.5" stop-color="#ca998b"/><stop offset="0.571" stop-color="#d2b096"/><stop offset="0.643" stop-color="#e2d8ab"/><stop offset="0.714" stop-color="#efefcd"/><stop offset="0.786" stop-color="#f6f6e4"/><stop offset="0.857" stop-color="#fafaf0"/><stop offset="0.929" stop-color="#fcfcf7"/><stop offset="1" stop-color="#fdfdfa"/></linearGradient><linearGradient id="h51" x1="0" y1="0" x2="0" y2="1"><stop offset="0" stop-color="#fdfdfa"/><stop offset="0.071" stop-color="#f4f4dd"/><stop offset="0.143" stop-color="#e8e7b3"/><stop offset="0.214" stop-color="#dbc7a2"/><stop offset="0.286" stop-color="#d2af95"/><stop offset="0.357" stop-color="#cda18f"/><stop offset="0.429" stop-color="#ca988a"/><stop offset="0.5" stop-color="#ca998b"/><stop offset="0.571" stop-color="#d3b297"/><stop offset="0.643" stop-color="#e1d7aa"/><stop offset="0.714" stop-color="#ededc6"/><stop offset="0.786" stop-color="#f5f5df"/><stop offset="0.857" stop-color="#f9f9ee"/><stop offset="0.929" stop-color="#fcfcf6"/><stop offset="1" stop-color="#fdfdfa"/></linearGradient><linearGradient id="h52" x1="0" y1="0" x2="0" y2="1"><stop offset="0" stop-color="#fdfdfa"/><stop offset="0.071" stop-color="#f3f3da"/><stop offset="0.143" stop-color="#e4ddae"/><stop offset="0.214" stop-color="#d3b398"/><stop offset="0.286" stop-color="#ca9a8b"/><stop offset="0.357" stop-color="#c99589"/><stop offset="0.429" stop-color="#ca978a"/><stop offset="0.5" stop-color="#d0aa93"/><stop offset="0.571" stop-color="#ddcea6"/><stop offset="0.643" stop-color="#e9e9b6"/><stop offset="0.714" stop-color="#efefcb"/><stop offset="0.786" stop-color="#f3f3db"/><stop offset="0.857" stop-color="#f8f8ea"/><stop offset="0.929" stop-color="#fbfbf4"/><stop offset="1" stop-color="#fdfdfa"/></linearGradient><linearGradient id="h53" x1="0" y1="0" x2="0" y2="1"><stop offset="0" stop-color="#fdfdfb"/><stop offset="0.071" stop-color="#f6f6e4"/><stop offset="0.143" stop-color="#ebebbd"/><stop offset="0.214" stop-color="#dfd2a8"/><stop offset="0.286" stop-color="#d8c19f"/><stop offset="0.357" stop-color="#d5b99a"/><stop offset="0.429" stop-color="#d3b297"/><stop offset="0.5" stop-color="#d5b79a"/><stop offset="0.571" stop-color="#decfa6"/><stop offset="0.643" stop-color="#e8e8b4"/><stop offset="0.714" stop-color="#efefcb"/><stop offset="0.786" stop-color="#f4f4dd"/><stop offset="0.857" stop-color="#f8f8eb"/><stop offset="0.929" stop-color="#fbfbf5"/><stop offset="1" stop-color="#fdfdfa"/></linearGradient><linearGradient id="h54" x1="0" y1="0" x2="0" y2="1"><stop offset="0" stop-color="#fdfdf9"/><stop offset="0.071" stop-color="#f4f4dc"/><stop offset="0.143" stop-color="#e2daac"/><stop offset="0.214" stop-color="#d0a993"/><stop offset="0.286" stop-color="#c58983"/><stop offset="0.357" stop-color="#bd7c7c"/><stop offset="0.429" stop-color="#b57676"/><stop offset="0.5" stop-color="#c07d7d"/><stop offset="0.571" stop-color="#d2b196"/><stop offset="0.643" stop-color="#e4dfaf"/><stop offset="0.714" stop-color="#eeeeca"/><stop offset="0.786" stop-color="#f4f4de"/><stop offset="0.857" stop-color="#f9f9ec"/><stop offset="0.929" stop-color="#fbfbf5"/><stop offset="1" stop-color="#fdfdfa"/></linearGradient><linearGradient id="h55" x1="0" y1="0" x2="0" y2="1"><stop offset="0" stop-color="#fdfdf9"/><stop offset="0.071" stop-color="#f4f4dd"/><stop offset="0.143" stop-color="#e5e1b0"/><stop offset="0.214" stop-color="#d7be9d"/><stop offset="0.286" stop-color="#d0aa93"/><stop offset="0.357" stop-color="#cea590"/><stop offset="0.429" stop-color="#cea591"/><stop offset="0.5" stop-color="#d2af95"/><stop offset="0.571" stop-color="#dcc9a3"/><stop offset="0.643" stop-color="#eaeabc"/><stop offset="0.714" stop-color="#f6f6e3"/><stop offset="0.786" stop-color="#fafaf1"/><stop offset="0.857" stop-color="#fcfcf6"/><stop offset="0.929" stop-color="#fdfdf9"/><stop offset="1" stop-color="#fdfdfb"/></linearGradient><linearGradient id="h56" x1="0" y1="0" x2="0" y2="1"><stop offset="0" stop-color="#fdfdf9"/><stop offset="0.071" stop-color="#f2f2d6"/><stop offset="0.143" stop-color="#dfd2a8"/><stop offset="0.214" stop-color="#cda28f"/><stop offset="0.286" stop-color="#c48782"/><stop offset="0.357" stop-color="#c17e7e"/><stop offset="0.429" stop-color="#bf7d7d"/><stop offset="0.5" stop-color="#c68d85"/><stop offset="0.571" stop-color="#d7be9d"/><stop offset="0.643" stop-color="#e9e9b7"/><stop offset="0.714" stop-color="#f2f2d8"/><stop offset="0.786" stop-color="#f7f7e6"/><stop offset="0.857" stop-color="#fafaf0"/><stop offset="0.929" stop-color="#fcfcf6"/><stop offset="1" stop-color="#fdfdfa"/></linearGradient><linearGradient id="h57" x1="0" y1="0" x2="0" y2="1"><stop offset="0" stop-color="#fdfdfa"/><stop offset="0.071" stop-color="#f7f7e7"/><stop offset="0.143" stop-color="#eaeab9"/><stop offset="0.214" stop-color="#d8bf9e"/><stop offset="0.286" stop-color="#cb9c8c"/><stop offset="0.357" stop-color="#c78f86"/><stop offset="0.429" stop-color="#c78f86"/><stop offset="0.5" stop-color="#c99689"/><stop offset="0.571" stop-color="#d3b398"/><stop offset="0.643" stop-color="#e5e0af"/><stop offset="0.714" stop-color="#f4f4dc"/><stop offset="0.786" stop-color="#fafaf0"/><stop offset="0.857" stop-color="#fbfbf5"/><stop offset="0.929" stop-color="#fcfcf8"/><stop offset="1" stop-color="#fdfdfa"/></linearGradient><linearGradient id="h58" x1="0" y1="0" x2="0" y2="1"><stop offset="0" stop-color="#fdfdfa"/><stop offset="0.071" stop-color="#f3f3da"/><stop offset="0.143" stop-color="#e2d9ab"/><stop offset="0.214" stop-color="#d0a993"/><stop offset="0.286" stop-color="#c58782"/><stop offset="0.357" stop-color="#ba7979"/><stop offset="0.429" stop-color="#ae7171"/><stop offset="0.5" stop-color="#b17474"/><stop offset="0.571" stop-color="#ca998b"/><stop offset="0.643" stop-color="#dfd3a8"/><stop offset="0.714" stop-color="#eeeec8"/><stop offset="0.786" stop-color="#f5f5e1"/><stop offset="0.857" stop-color="#f9f9ef"/><stop offset="0.929" stop-color="#fcfcf6"/><stop offset="1" stop-color="#fdfdfb"/></linearGradient><linearGradient id="h59" x1="0" y1="0" x2="0" y2="1"><stop offset="0" stop-color="#fdfdfa"/><stop offset="0.071" stop-color="#f6f6e4"/><stop offset="0.143" stop-color="#eaeabc"/><stop offset="0.214" stop-color="#ddcca4"/><stop offset="0.286" stop-color="#d4b699"/><stop offset="0.357" stop-color="#d1ae95"/><stop offset="0.429" stop-color="#d1ad95"/><stop offset="0.5" stop-color="#d3b498"/><stop offset="0.571" stop-color="#dccba4"/><stop offset="0.643" stop-color="#eaeabb"/><stop offset="0.714" stop-color="#f5f5e1"/><stop offset="0.786" stop-color="#fafaef"/><stop offset="0.857" stop-color="#fbfbf5"/><stop offset="0.929" stop-color="#fcfcf8"/><stop offset="1" stop-color="#fdfdfa"/></linearGradient><linearGradient id="h60" x1="0" y1="0" x2="0" y2="1"><stop offset="0" stop-color="#fdfdfa"/><stop offset="0.071" stop-color="#f6f6e3"/><stop offset="0.143" stop-color="#e8e8b4"/><stop offset="0.214" stop-color="#d6bb9c"/><stop offset="0.286" stop-color="#cb9b8c"/><stop offset="0.357" stop-color="#c68d85"/><stop offset="0.429" stop-color="#c48581"/><stop offset="0.5" stop-color="#c68d85"/><stop offset="0.571" stop-color="#d4b598"/><stop offset="0.643" stop-color="#e4dfae"/><stop offset="0.714" stop-color="#eeeec8"/><stop offset="0.786" stop-color="#f3f3dc"/><stop offset="0.857" stop-color="#f8f8eb"/><stop offset="0.929" stop-color="#fbfbf5"/><stop offset="1" stop-color="#fdfdfa"/></linearGradient><linearGradient id="h61" x1="0" y1="0" x2="0" y2="1"><stop offset="0" stop-color="#fdfdfa"/><stop offset="0.071" stop-color="#f2f2d5"/><stop offset="0.143" stop-color="#e2d8ab"/><stop offset="0.214" stop-color="#d4b498"/><stop offset="0.286" stop-color="#cda28f"/><stop offset="0.357" stop-color="#cc9e8d"/><stop offset="0.429" stop-color="#cb9c8c"/><stop offset="0.5" stop-color="#cea691"/><stop offset="0.571" stop-color="#d9c3a0"/><stop offset="0.643" stop-color="#e5e1b0"/><stop offset="0.714" stop-color="#ececc3"/><stop offset="0.786" stop-color="#f2f2d8"/><stop offset="0.857" stop-color="#f8f8ea"/><stop offset="0.929" stop-color="#fbfbf5"/><stop offset="1" stop-color="#fdfdfa"/></linearGradient><linearGradient id="h62" x1="0" y1="0" x2="0" y2="1"><stop offset="0" stop-color="#fdfdfa"/><stop offset="0.071" stop-color="#f4f4dc"/><stop offset="0.143" stop-color="#e3dbad"/><stop offset="0.214" stop-color="#d5b79a"/><stop offset="0.286" stop-color="#cc9f8e"/><stop offset="0.357" stop-color="#ca9a8b"/><stop offset="0.429" stop-color="#cc9d8d"/><stop offset="0.5" stop-color="#cfa892"/><stop offset="0.571" stop-color="#d8c09e"/><stop offset="0.643" stop-color="#e6e2b0"/><stop offset="0.714" stop-color="#f2f2d8"/><stop offset="0.786" stop-color="#f9f9ed"/><stop offset="0.857" stop-color="#fbfbf4"/><stop offset="0.929" stop-color="#fcfcf8"/><stop offset="1" stop-color="#fdfdfa"/></linearGradient><linearGradient id="h63" x1="0" y1="0" x2="0" y2="1"><stop offset="0" stop-color="#fdfdfa"/><stop offset="0.071" stop-color="#f3f3d9"/><stop offset="0.143" stop-color="#e3dbad"/><stop offset="0.214" stop-color="#d6bc9c"/><stop offset="0.286" stop-color="#d0ab94"/><stop offset="0.357" stop-color="#cea590"/><stop offset="0.429" stop-color="#cda38f"/><stop offset="0.5" stop-color="#d1ae95"/><stop offset="0.571" stop-color="#dccca4"/><stop offset="0.643" stop-color="#e8e7b3"/><stop offset="0.714" stop-color="#efefcb"/><stop offset="0.786" stop-color="#f4f4dd"/><stop offset="0.857" stop-color="#f8f8ec"/><stop offset="0.929" stop-color="#fbfbf5"/><stop offset="1" stop-color="#fdfdfa"/></linearGradient><linearGradient id="h64" x1="0" y1="0" x2="0" y2="1"><stop offset="0" stop-color="#fdfdfa"/><stop offset="0.071" stop-color="#f3f3dc"/><stop offset="0.143" stop-color="#e3dbac"/><stop offset="0.214" stop-color="#d3b397"/><stop offset="0.286" stop-color="#cb9a8b"/><stop offset="0.357" stop-color="#c79187"/><stop offset="0.429" stop-color="#c68d85"/><stop offset="0.5" stop-color="#cb9d8d"/><stop offset="0.571" stop-color="#d9c39f"/><stop offset="0.643" stop-color="#e6e3b1"/><stop offset="0.714" stop-color="#eeeec8"/><stop offset="0.786" stop-color="#f3f3dc"/><stop offset="0.857" stop-color="#f8f8eb"/><stop offset="0.929" stop-color="#fbfbf5"/><stop offset="1" stop-color="#fdfdfa"/></linearGradient><linearGradient id="h65" x1="0" y1="0" x2="0" y2="1"><stop offset="0" stop-color="#fdfdfa"/><stop offset="0.071" stop-color="#f3f3d9"/><stop offset="0.143" stop-color="#e0d5a9"/><stop offset="0.214" stop-color="#d2b096"/><stop offset="0.286" stop-color="#cb9b8c"/><stop offset="0.357" stop-color="#ca978a"/><stop offset="0.429" stop-color="#cb9a8b"/><stop offset="0.5" stop-color="#cea691"/><stop offset="0.571" stop-color="#d9c19f"/><stop offset="0.643" stop-color="#e8e7b3"/><stop offset="0.714" stop-color="#f4f4de"/><stop offset="0.786" stop-color="#fafaf0"/><stop offset="0.857" stop-color="#fcfcf6"/><stop offset="0.929" stop-color="#fdfdf9"/><stop offset="1" stop-color="#fdfdfb"/></linearGradient><linearGradient id="h66" x1="0" y1="0" x2="0" y2="1"><stop offset="0" stop-color="#fdfdfa"/><stop offset="0.071" stop-color="#f1f1d4"/><stop offset="0.143" stop-color="#ddcda5"/><stop offset="0.214" stop-color="#ca9a8b"/><stop offset="0.286" stop-color="#c07e7e"/><stop offset="0.357" stop-color="#b87979"/><stop offset="0.429" stop-color="#b47676"/><stop offset="0.5" stop-color="#c17e7e"/><stop offset="0.571" stop-color="#d3b297"/><stop offset="0.643" stop-color="#e5e2b0"/><stop offset="0.714" stop-color="#f0f0cf"/><stop offset="0.786" stop-color="#f5f5e1"/><stop offset="0.857" stop-color="#f9f9ee"/><stop offset="0.929" stop-color="#fcfcf6"/><stop offset="1" stop-color="#fdfdfa"/></linearGradient><linearGradient id="h67" x1="0" y1="0" x2="0" y2="1"><stop offset="0" stop-color="#fdfdfa"/><stop offset="0.071" stop-color="#f6f6e4"/><stop offset="0.143" stop-color="#e8e8b4"/><stop offset="0.214" stop-color="#d7bc9c"/><stop offset="0.286" stop-color="#cc9f8e"/><stop offset="0.357" stop-color="#c99489"/><stop offset="0.429" stop-color="#c79086"/><stop offset="0.5" stop-color="#cc9d8d"/><stop offset="0.571" stop-color="#dbc7a2"/><stop offset="0.643" stop-color="#ebebbd"/><stop offset="0.714" stop-color="#f2f2d8"/><stop offset="0.786" stop-color="#f6f6e5"/><stop offset="0.857" stop-color="#f9f9ef"/><stop offset="0.929" stop-color="#fcfcf6"/><stop offset="1" stop-color="#fdfdfa"/></linearGradient><linearGradient id="h68" x1="0" y1="0" x2="0" y2="1"><stop offset="0" stop-color="#fdfdf9"/><stop offset="0.071" stop-color="#f3f3d9"/><stop offset="0.143" stop-color="#e4deae"/><stop offset="0.214" stop-color="#d6bb9c"/><stop offset="0.286" stop-color="#d0a992"/><stop offset="0.357" stop-color="#cda28f"/><stop offset="0.429" stop-color="#cb9d8d"/><stop offset="0.5" stop-color="#cfa791"/><stop offset="0.571" stop-color="#dbc7a2"/><stop offset="0.643" stop-color="#e8e6b3"/><stop offset="0.714" stop-color="#efefcc"/><stop offset="0.786" stop-color="#f4f4dd"/><stop offset="0.857" stop-color="#f8f8ec"/><stop offset="0.929" stop-color="#fbfbf5"/><stop offset="1" stop-color="#fdfdfa"/></linearGradient><linearGradient id="h69" x1="0" y1="0" x2="0" y2="1"><stop offset="0" stop-color="#fdfdfa"/><stop offset="0.071" stop-color="#f6f6e3"/><stop offset="0.143" stop-color="#e9e9b7"/><stop offset="0.214" stop-color="#dbc8a2"/><stop offset="0.286" stop-color="#d3b498"/><stop offset="0.357" stop-color="#d0ab94"/><stop offset="0.429" stop-color="#cea490"/><stop offset="0.5" stop-color="#d1ae95"/><stop offset="0.571" stop-color="#ddcea5"/><stop offset="0.643" stop-color="#e8e8b3"/><stop offset="0.714" stop-color="#eeeec9"/><stop offset="0.786" stop-color="#f3f3db"/><stop offset="0.857" stop-color="#f8f8eb"/><stop offset="0.929" stop-color="#fbfbf5"/><stop offset="1" stop-color="#fdfdfa"/></linearGradient><linearGradient id="h70" x1="0" y1="0" x2="0" y2="1"><stop offset="0" stop-color="#fdfdfa"/><stop offset="0.071" stop-color="#f0f0d1"/><stop offset="0.143" stop-color="#dfd2a8"/><stop offset="0.214" stop-color="#d3b197"/><stop offset="0.286" stop-color="#cea490"/><stop offset="0.357" stop-color="#cc9e8d"/><stop offset="0.429" stop-color="#cb9b8c"/><stop offset="0.5" stop-color="#d0ab93"/><stop offset="0.571" stop-color="#ddcea5"/><stop offset="0.643" stop-color="#e9e9b8"/><stop offset="0.714" stop-color="#f0f0cf"/><stop offset="0.786" stop-color="#f4f4df"/><stop offset="0.857" stop-color="#f9f9ed"/><stop offset="0.929" stop-color="#fcfcf6"/><stop offset="1" stop-color="#fdfdfa"/></linearGradient><linearGradient id="h71" x1="0" y1="0" x2="0" y2="1"><stop offset="0" stop-color="#fdfdfa"/><stop offset="0.071" stop-color="#f5f5e1"/><stop offset="0.143" stop-color="#e6e4b1"/><stop offset="0.214" stop-color="#d6bb9c"/><stop offset="0.286" stop-color="#cda28f"/><stop offset="0.357" stop-color="#ca998b"/><stop offset="0.429" stop-color="#c99489"/><stop offset="0.5" stop-color="#cda18e"/><stop offset="0.571" stop-color="#dac6a1"/><stop offset="0.643" stop-color="#e9e9b5"/><stop offset="0.714" stop-color="#f0f0d2"/><stop offset="0.786" stop-color="#f5f5e1"/><stop offset="0.857" stop-color="#f9f9ed"/><stop offset="0.929" stop-color="#fbfbf5"/><stop offset="1" stop-color="#fdfdfa"/></linearGradient><linearGradient id="h72" x1="0" y1="0" x2="0" y2="1"><stop offset="0" stop-color="#fdfdfa"/><stop offset="0.071" stop-color="#efefcc"/><stop offset="0.143" stop-color="#d6bc9c"/><stop offset="0.214" stop-color="#c17e7e"/><stop offset="0.286" stop-color="#aa6f6f"/><stop offset="0.357" stop-color="#a26a6a"/><stop offset="0.429" stop-color="#a06868"/><stop offset="0.5" stop-color="#b87878"/><stop offset="0.571" stop-color="#d3b498"/><stop offset="0.643" stop-color="#e6e2b0"/><stop offset="0.714" stop-color="#eeeec9"/><stop offset="0.786" stop-color="#f3f3dc"/><stop offset="0.857" stop-color="#f8f8eb"/><stop offset="0.929" stop-color="#fbfbf5"/><stop offset="1" stop-color="#fdfdfa"/></linearGradient><linearGradient id="h73" x1="0" y1="0" x2="0" y2="1"><stop offset="0" stop-color="#fdfdf9"/><stop offset="0.071" stop-color="#f4f4dd"/><stop offset="0.143" stop-color="#e4deae"/><stop offset="0.214" stop-color="#d2af95"/><stop offset="0.286" stop-color="#c79087"/><stop offset="0.357" stop-color="#c48682"/><stop offset="0.429" stop-color="#c38381"/><stop offset="0.5" stop-color="#c78f86"/><stop offset="0.571" stop-color="#d5b89a"/><stop offset="0.643" stop-color="#e7e6b2"/><stop offset="0.714" stop-color="#f2f2d7"/><stop offset="0.786" stop-color="#f7f7e6"/><stop offset="0.857" stop-color="#fafaef"/><stop offset="0.929" stop-color="#fcfcf6"/><stop offset="1" stop-color="#fdfdfa"/></linearGradient><linearGradient id="h74" x1="0" y1="0" x2="0" y2="1"><stop offset="0" stop-color="#fdfdfa"/><stop offset="0.071" stop-color="#f7f7e7"/><stop offset="0.143" stop-color="#efefcd"/><stop offset="0.214" stop-color="#e7e4b2"/><stop offset="0.286" stop-color="#e1d7aa"/><stop offset="0.357" stop-color="#dfd3a8"/><stop offset="0.429" stop-color="#dfd2a8"/><stop offset="0.5" stop-color="#e1d7aa"/><stop offset="0.571" stop-color="#e6e3b1"/><stop offset="0.643" stop-color="#efefcb"/><stop offset="0.714" stop-color="#f6f6e4"/><stop offset="0.786" stop-color="#fafaef"/><stop offset="0.857" stop-color="#fbfbf4"/><stop offset="0.929" stop-color="#fcfcf8"/><stop offset="1" stop-color="#fdfdfa"/></linearGradient><linearGradient id="h75" x1="0" y1="0" x2="0" y2="1"><stop offset="0" stop-color="#fdfdfa"/><stop offset="0.071" stop-color="#f7f7e7"/><stop offset="0.143" stop-color="#ececc0"/><stop offset="0.214" stop-color="#dbc7a2"/><stop offset="0.286" stop-color="#cfa691"/><stop offset="0.357" stop-color="#ca998b"/><stop offset="0.429" stop-color="#c99689"/><stop offset="0.5" stop-color="#cc9f8d"/><stop offset="0.571" stop-color="#d7be9d"/><stop offset="0.643" stop-color="#e8e7b3"/><stop offset="0.714" stop-color="#f4f4dd"/><stop offset="0.786" stop-color="#f8f8ec"/><stop offset="0.857" stop-color="#fbfbf3"/><stop offset="0.929" stop-color="#fcfcf7"/><stop offset="1" stop-color="#fdfdfa"/></linearGradient><linearGradient id="h76" x1="0" y1="0" x2="0" y2="1"><stop offset="0" stop-color="#fdfdfa"/><stop offset="0.071" stop-color="#f9f9ee"/><stop offset="0.143" stop-color="#f0f0cf"/><stop offset="0.214" stop-color="#e0d6aa"/><stop offset="0.286" stop-color="#d6ba9b"/><stop offset="0.357" stop-color="#d0aa93"/><stop offset="0.429" stop-color="#cca08e"/><stop offset="0.5" stop-color="#d0a993"/><stop offset="0.571" stop-color="#ddcda5"/><stop offset="0.643" stop-color="#eaeabb"/><stop offset="0.714" stop-color="#f1f1d5"/><stop offset="0.786" stop-color="#f6f6e4"/><stop offset="0.857" stop-color="#fafaef"/><stop offset="0.929" stop-color="#fcfcf7"/><stop offset="1" stop-color="#fdfdfb"/></linearGradient><linearGradient id="h77" x1="0" y1="0" x2="0" y2="1"><stop offset="0" stop-color="#fdfdfa"/><stop offset="0.071" stop-color="#f9f9ee"/><stop offset="0.143" stop-color="#f3f3db"/><stop offset="0.214" stop-color="#ececc3"/><stop offset="0.286" stop-color="#e2d9ab"/><stop offset="0.357" stop-color="#d9c29f"/><stop offset="0.429" stop-color="#d7bd9c"/><stop offset="0.5" stop-color="#dac4a0"/><stop offset="0.571" stop-color="#e0d5a9"/><stop offset="0.643" stop-color="#e8e7b3"/><stop offset="0.714" stop-color="#efefcb"/><stop offset="0.786" stop-color="#f4f4de"/><stop offset="0.857" stop-color="#f7f7e8"/><stop offset="0.929" stop-color="#fafaf1"/><stop offset="1" stop-color="#fdfdfa"/></linearGradient><linearGradient id="h78" x1="0" y1="0" x2="0" y2="1"><stop offset="0" stop-color="#fdfdfa"/><stop offset="0.071" stop-color="#fbfbf5"/><stop offset="0.143" stop-color="#f8f8ea"/><stop offset="0.214" stop-color="#f1f1d5"/><stop offset="0.286" stop-color="#e8e8b4"/><stop offset="0.357" stop-color="#dccaa4"/><stop offset="0.429" stop-color="#cb9b8c"/><stop offset="0.5" stop-color="#b87878"/><stop offset="0.571" stop-color="#b87878"/><stop offset="0.643" stop-color="#c58883"/><stop offset="0.714" stop-color="#cea490"/><stop offset="0.786" stop-color="#dcc9a3"/><stop offset="0.857" stop-color="#ededc5"/><stop offset="0.929" stop-color="#f8f8e9"/><stop offset="1" stop-color="#fdfdf9"/></linearGradient><linearGradient id="h79" x1="0" y1="0" x2="0" y2="1"><stop offset="0" stop-color="#fdfdfb"/><stop offset="0.071" stop-color="#fcfcf6"/><stop offset="0.143" stop-color="#f9f9ee"/><stop offset="0.214" stop-color="#f4f4de"/><stop offset="0.286" stop-color="#ececc3"/><stop offset="0.357" stop-color="#dfd1a7"/><stop offset="0.429" stop-color="#cda08e"/><stop offset="0.5" stop-color="#c27f7f"/><stop offset="0.571" stop-color="#c38381"/><stop offset="0.643" stop-color="#c99689"/><stop offset="0.714" stop-color="#d1ae95"/><stop offset="0.786" stop-color="#dfd2a8"/><stop offset="0.857" stop-color="#efefcc"/><stop offset="0.929" stop-color="#f8f8eb"/><stop offset="1" stop-color="#fdfdfa"/></linearGradient><linearGradient id="h80" x1="0" y1="0" x2="0" y2="1"><stop offset="0" stop-color="#fdfdfa"/><stop offset="0.071" stop-color="#fcfcf7"/><stop offset="0.143" stop-color="#fafaf2"/><stop offset="0.214" stop-color="#f8f8eb"/><stop offset="0.286" stop-color="#f5f5e0"/><stop offset="0.357" stop-color="#ededc6"/><stop offset="0.429" stop-color="#decfa6"/><stop offset="0.5" stop-color="#d0aa93"/><stop offset="0.571" stop-color="#cc9e8d"/><stop offset="0.643" stop-color="#cda28f"/><stop offset="0.714" stop-color="#d1ae95"/><stop offset="0.786" stop-color="#dccba4"/><stop offset="0.857" stop-color="#ededc5"/><stop offset="0.929" stop-color="#f8f8ea"/><stop offset="1" stop-color="#fdfdfb"/></linearGradient><linearGradient id="h81" x1="0" y1="0" x2="0" y2="1"><stop offset="0" stop-color="#fdfdfb"/><stop offset="0.071" stop-color="#fcfcf7"/><stop offset="0.143" stop-color="#f9f9ef"/><stop offset="0.214" stop-color="#f5f5e1"/><stop offset="0.286" stop-color="#efefcd"/><stop offset="0.357" stop-color="#e7e5b2"/><stop offset="0.429" stop-color="#d8c19f"/><stop offset="0.5" stop-color="#c99689"/><stop offset="0.571" stop-color="#c48782"/><stop offset="0.643" stop-color="#c99488"/><stop offset="0.714" stop-color="#cfa992"/><stop offset="0.786" stop-color="#dbc8a2"/><stop offset="0.857" stop-color="#ebebbf"/><stop offset="0.929" stop-color="#f7f7e7"/><stop offset="1" stop-color="#fdfdfa"/></linearGradient><linearGradient id="h82" x1="0" y1="0" x2="0" y2="1"><stop offset="0" stop-color="#fdfdfa"/><stop offset="0.071" stop-color="#fcfcf6"/><stop offset="0.143" stop-color="#f9f9ed"/><stop offset="0.214" stop-color="#f4f4de"/><stop offset="0.286" stop-color="#eeeec9"/><stop offset="0.357" stop-color="#e4dfaf"/><stop offset="0.429" stop-color="#d2af95"/><stop offset="0.5" stop-color="#b87979"/><stop offset="0.571" stop-color="#ab6f6f"/><stop offset="0.643" stop-color="#b47676"/><stop offset="0.714" stop-color="#c38381"/><stop offset="0.786" stop-color="#d2b096"/><stop offset="0.857" stop-color="#e8e7b3"/><stop offset="0.929" stop-color="#f6f6e5"/><stop offset="1" stop-color="#fdfdfa"/></linearGradient><linearGradient id="h83" x1="0" y1="0" x2="0" y2="1"><stop offset="0" stop-color="#fdfdfa"/><stop offset="0.071" stop-color="#fcfcf5"/><stop offset="0.143" stop-color="#f8f8eb"/><stop offset="0.214" stop-color="#f2f2d8"/><stop offset="0.286" stop-color="#ebebbd"/><stop offset="0.357" stop-color="#e3dbad"/><stop offset="0.429" stop-color="#d9c4a0"/><stop offset="0.5" stop-color="#cda28f"/><stop offset="0.571" stop-color="#c89388"/><stop offset="0.643" stop-color="#cca08e"/><stop offset="0.714" stop-color="#d3b397"/><stop offset="0.786" stop-color="#dccba4"/><stop offset="0.857" stop-color="#eaeabb"/><stop offset="0.929" stop-color="#f7f7e6"/><stop offset="1" stop-color="#fdfdfa"/></linearGradient><linearGradient id="h84" x1="0" y1="0" x2="0" y2="1"><stop offset="0" stop-color="#fdfdfb"/><stop offset="0.071" stop-color="#fcfcf6"/><stop offset="0.143" stop-color="#f9f9ee"/><stop offset="0.214" stop-color="#f5f5e2"/><stop offset="0.286" stop-color="#f0f0cf"/><stop offset="0.357" stop-color="#e5e1b0"/><stop offset="0.429" stop-color="#d3b397"/><stop offset="0.5" stop-color="#c48582"/><stop offset="0.571" stop-color="#bd7c7c"/><stop offset="0.643" stop-color="#c2807f"/><stop offset="0.714" stop-color="#c79087"/><stop offset="0.786" stop-color="#d4b498"/><stop offset="0.857" stop-color="#e6e4b1"/><stop offset="0.929" stop-color="#f5f5e0"/><stop offset="1" stop-color="#fdfdf9"/></linearGradient><linearGradient id="h85" x1="0" y1="0" x2="0" y2="1"><stop offset="0" stop-color="#fdfdfa"/><stop offset="0.071" stop-color="#fcfcf6"/><stop offset="0.143" stop-color="#f9f9ee"/><stop offset="0.214" stop-color="#f5f5e0"/><stop offset="0.286" stop-color="#eeeec9"/><stop offset="0.357" stop-color="#e2daac"/><stop offset="0.429" stop-color="#cfa892"/><stop offset="0.5" stop-color="#ba7a7a"/><stop offset="0.571" stop-color="#b17474"/><stop offset="0.643" stop-color="#bd7b7b"/><stop offset="0.714" stop-color="#c68b84"/><stop offset="0.786" stop-color="#d0a993"/><stop offset="0.857" stop-color="#e0d5a9"/><stop offset="0.929" stop-color="#f2f2d5"/><stop offset="1" stop-color="#fdfdf9"/></linearGradient><linearGradient id="h86" x1="0" y1="0" x2="0" y2="1"><stop offset="0" stop-color="#fdfdfa"/><stop offset="0.071" stop-color="#fcfcf6"/><stop offset="0.143" stop-color="#f9f9ec"/><stop offset="0.214" stop-color="#f3f3db"/><stop offset="0.286" stop-color="#ececc2"/><stop offset="0.357" stop-color="#e2d8ab"/><stop offset="0.429" stop-color="#d3b197"/><stop offset="0.5" stop-color="#c58a84"/><stop offset="0.571" stop-color="#c38280"/><stop offset="0.643" stop-color="#c89488"/><stop offset="0.714" stop-color="#cfa892"/><stop offset="0.786" stop-color="#d9c29f"/><stop offset="0.857" stop-color="#e7e5b2"/><stop offset="0.929" stop-color="#f4f4df"/><stop offset="1" stop-color="#fdfdfa"/></linearGradient><linearGradient id="h87" x1="0" y1="0" x2="0" y2="1"><stop offset="0" stop-color="#fdfdfa"/><stop offset="0.071" stop-color="#fcfcf6"/><stop offset="0.143" stop-color="#f9f9ee"/><stop offset="0.214" stop-color="#f4f4df"/><stop offset="0.286" stop-color="#eeeec7"/><stop offset="0.357" stop-color="#e4deae"/><stop offset="0.429" stop-color="#d7bd9d"/><stop offset="0.5" stop-color="#cb9c8c"/><stop offset="0.571" stop-color="#c89388"/><stop offset="0.643" stop-color="#cda28f"/><stop offset="0.714" stop-color="#d5b79a"/><stop offset="0.786" stop-color="#decfa6"/><stop offset="0.857" stop-color="#e9e9b8"/><stop offset="0.929" stop-color="#f4f4de"/><stop offset="1" stop-color="#fdfdf9"/></linearGradient><linearGradient id="h88" x1="0" y1="0" x2="0" y2="1"><stop offset="0" stop-color="#fdfdfa"/><stop offset="0.071" stop-color="#fcfcf7"/><stop offset="0.143" stop-color="#fbfbf2"/><stop offset="0.214" stop-color="#f8f8ec"/><stop offset="0.286" stop-color="#f5f5e2"/><stop offset="0.357" stop-color="#efefcc"/><stop offset="0.429" stop-color="#e3dbad"/><stop offset="0.5" stop-color="#d7be9d"/><stop offset="0.571" stop-color="#d3b397"/><stop offset="0.643" stop-color="#d4b598"/><stop offset="0.714" stop-color="#d7bc9c"/><stop offset="0.786" stop-color="#ddcea5"/><stop offset="0.857" stop-color="#eaeab9"/><stop offset="0.929" stop-color="#f5f5e2"/><stop offset="1" stop-color="#fdfdf9"/></linearGradient><linearGradient id="h89" x1="0" y1="0" x2="0" y2="1"><stop offset="0" stop-color="#fdfdfb"/><stop offset="0.071" stop-color="#fcfcf7"/><stop offset="0.143" stop-color="#f9f9ef"/><stop offset="0.214" stop-color="#f5f5e2"/><stop offset="0.286" stop-color="#efefce"/><stop offset="0.357" stop-color="#e4ddae"/><stop offset="0.429" stop-color="#cda28f"/><stop offset="0.5" stop-color="#a96f6f"/><stop offset="0.571" stop-color="#9b6666"/><stop offset="0.643" stop-color="#a66d6d"/><stop offset="0.714" stop-color="#b67777"/><stop offset="0.786" stop-color="#cc9e8d"/><stop offset="0.857" stop-color="#e3dcad"/><stop offset="0.929" stop-color="#f5f5e1"/><stop offset="1" stop-color="#fdfdfa"/></linearGradient><linearGradient id="h90" x1="0" y1="0" x2="0" y2="1"><stop offset="0" stop-color="#fdfdfa"/><stop offset="0.071" stop-color="#fcfcf7"/><stop offset="0.143" stop-color="#fafaf1"/><stop offset="0.214" stop-color="#f7f7e6"/><stop offset="0.286" stop-color="#f1f1d4"/><stop offset="0.357" stop-color="#e6e2b1"/><stop offset="0.429" stop-color="#d4b598"/><stop offset="0.5" stop-color="#c68b84"/><stop offset="0.571" stop-color="#c38381"/><stop offset="0.643" stop-color="#c79087"/><stop offset="0.714" stop-color="#cda08e"/><stop offset="0.786" stop-color="#d6bc9c"/><stop offset="0.857" stop-color="#e7e5b2"/><stop offset="0.929" stop-color="#f5f5e1"/><stop offset="1" stop-color="#fdfdfa"/></linearGradient><linearGradient id="h91" x1="0" y1="0" x2="0" y2="1"><stop offset="0" stop-color="#fdfdfb"/><stop offset="0.071" stop-color="#fcfcf7"/><stop offset="0.143" stop-color="#f9f9ef"/><stop offset="0.214" stop-color="#f5f5e2"/><stop offset="0.286" stop-color="#f0f0cf"/><stop offset="0.357" stop-color="#e6e3b1"/><stop offset="0.429" stop-color="#d3b398"/><stop offset="0.5" stop-color="#c17e7e"/><stop offset="0.571" stop-color="#b87878"/><stop offset="0.643" stop-color="#c17e7e"/><stop offset="0.714" stop-color="#c78f86"/><stop offset="0.786" stop-color="#d4b598"/><stop offset="0.857" stop-color="#e8e8b4"/><stop offset="0.929" stop-color="#f7f7e6"/><stop offset="1" stop-color="#fdfdfa"/></linearGradient><linearGradient id="h92" x1="0" y1="0" x2="0" y2="1"><stop offset="0" stop-color="#fdfdfb"/><stop offset="0.071" stop-color="#fcfcf7"/><stop offset="0.143" stop-color="#fafaf1"/><stop offset="0.214" stop-color="#f6f6e4"/><stop offset="0.286" stop-color="#f0f0d1"/><stop offset="0.357" stop-color="#e7e5b2"/><stop offset="0.429" stop-color="#d5b79a"/><stop offset="0.5" stop-color="#c38280"/><stop offset="0.571" stop-color="#bc7b7b"/><stop offset="0.643" stop-color="#c58783"/><stop offset="0.714" stop-color="#cb9b8c"/><stop offset="0.786" stop-color="#d6bb9c"/><stop offset="0.857" stop-color="#e9e9b6"/><stop offset="0.929" stop-color="#f7f7e7"/><stop offset="1" stop-color="#fdfdfa"/></linearGradient><linearGradient id="h93" x1="0" y1="0" x2="0" y2="1"><stop offset="0" stop-color="#fdfdfb"/><stop offset="0.071" stop-color="#fcfcf7"/><stop offset="0.143" stop-color="#fafaf0"/><stop offset="0.214" stop-color="#f6f6e3"/><stop offset="0.286" stop-color="#efefce"/><stop offset="0.357" stop-color="#e8e8b3"/><stop offset="0.429" stop-color="#dccba4"/><stop offset="0.5" stop-color="#c48582"/><stop offset="0.571" stop-color="#a36a6a"/><stop offset="0.643" stop-color="#ad7171"/><stop offset="0.714" stop-color="#be7c7c"/><stop offset="0.786" stop-color="#d0aa93"/><stop offset="0.857" stop-color="#eaeabc"/><stop offset="0.929" stop-color="#f9f9ef"/><stop offset="1" stop-color="#fdfdfa"/></linearGradient><linearGradient id="h94" x1="0" y1="0" x2="0" y2="1"><stop offset="0" stop-color="#fdfdfb"/><stop offset="0.071" stop-color="#fcfcf7"/><stop offset="0.143" stop-color="#fafaf1"/><stop offset="0.214" stop-color="#f8f8ea"/><stop offset="0.286" stop-color="#f6f6e3"/><stop offset="0.357" stop-color="#f4f4de"/><stop offset="0.429" stop-color="#f3f3d9"/><stop offset="0.5" stop-color="#e9e9b6"/><stop offset="0.571" stop-color="#d9c29f"/><stop offset="0.643" stop-color="#d3b498"/><stop offset="0.714" stop-color="#d4b699"/><stop offset="0.786" stop-color="#d9c3a0"/><stop offset="0.857" stop-color="#e9e9b8"/><stop offset="0.929" stop-color="#f8f8eb"/><stop offset="1" stop-color="#fdfdfa"/></linearGradient><linearGradient id="h95" x1="0" y1="0" x2="0" y2="1"><stop offset="0" stop-color="#fdfdfb"/><stop offset="0.071" stop-color="#fbfbf4"/><stop offset="0.143" stop-color="#f8f8ea"/><stop offset="0.214" stop-color="#f4f4dc"/><stop offset="0.286" stop-color="#f0f0ce"/><stop offset="0.357" stop-color="#ededc5"/><stop offset="0.429" stop-color="#ebebbf"/><stop offset="0.5" stop-color="#eaeab9"/><stop offset="0.571" stop-color="#e6e2b0"/><stop offset="0.643" stop-color="#d9c4a0"/><stop offset="0.714" stop-color="#d5b99a"/><stop offset="0.786" stop-color="#d9c29f"/><stop offset="0.857" stop-color="#ded0a7"/><stop offset="0.929" stop-color="#eeeec8"/><stop offset="1" stop-color="#fdfdf9"/></linearGradient><linearGradient id="h96" x1="0" y1="0" x2="0" y2="1"><stop offset="0" stop-color="#fdfdfb"/><stop offset="0.071" stop-color="#fbfbf3"/><stop offset="0.143" stop-color="#f6f6e4"/><stop offset="0.214" stop-color="#efefcd"/><stop offset="0.286" stop-color="#e9e9b7"/><stop offset="0.357" stop-color="#e7e4b2"/><stop offset="0.429" stop-color="#e8e8b4"/><stop offset="0.5" stop-color="#ebebbe"/><stop offset="0.571" stop-color="#ececc2"/><stop offset="0.643" stop-color="#e8e8b4"/><stop offset="0.714" stop-color="#e5e2b0"/><stop offset="0.786" stop-color="#e8e8b4"/><stop offset="0.857" stop-color="#ebebbd"/><stop offset="0.929" stop-color="#f3f3d9"/><stop offset="1" stop-color="#fdfdfa"/></linearGradient><linearGradient id="h97" x1="0" y1="0" x2="0" y2="1"><stop offset="0" stop-color="#fdfdfa"/><stop offset="0.071" stop-color="#f7f7e9"/><stop offset="0.143" stop-color="#eeeeca"/><stop offset="0.214" stop-color="#e4ddae"/><stop offset="0.286" stop-color="#decfa6"/><stop offset="0.357" stop-color="#e0d4a9"/><stop offset="0.429" stop-color="#e9e9b8"/><stop offset="0.5" stop-color="#f3f3db"/><stop offset="0.571" stop-color="#f9f9ed"/><stop offset="0.643" stop-color="#f7f7e7"/><stop offset="0.714" stop-color="#f0f0d1"/><stop offset="0.786" stop-color="#eeeeca"/><stop offset="0.857" stop-color="#efefcc"/><stop offset="0.929" stop-color="#f4f4de"/><stop offset="1" stop-color="#fdfdfa"/></linearGradient><linearGradient id="h98" x1="0" y1="0" x2="0" y2="1"><stop offset="0" stop-color="#fdfdfb"/><stop offset="0.071" stop-color="#f2f2d6"/><stop offset="0.143" stop-color="#e4ddae"/><stop offset="0.214" stop-color="#d4b599"/><stop offset="0.286" stop-color="#cc9e8d"/><stop offset="0.357" stop-color="#cda38f"/><stop offset="0.429" stop-color="#ded0a6"/><stop offset="0.5" stop-color="#f0f0cf"/><stop offset="0.571" stop-color="#f9f9ee"/><stop offset="0.643" stop-color="#fbfbf5"/><stop offset="0.714" stop-color="#f7f7e6"/><stop offset="0.786" stop-color="#f4f4de"/><stop offset="0.857" stop-color="#f4f4de"/><stop offset="0.929" stop-color="#f7f7e8"/><stop offset="1" stop-color="#fdfdfa"/></linearGradient><linearGradient id="h99" x1="0" y1="0" x2="0" y2="1"><stop offset="0" stop-color="#fdfdf9"/><stop offset="0.071" stop-color="#eeeecb"/><stop offset="0.143" stop-color="#ddcda5"/><stop offset="0.214" stop-color="#d1ad94"/><stop offset="0.286" stop-color="#d2af96"/><stop offset="0.357" stop-color="#ddcca4"/><stop offset="0.429" stop-color="#efefcb"/><stop offset="0.5" stop-color="#f9f9ed"/><stop offset="0.571" stop-color="#fcfcf8"/><stop offset="0.643" stop-color="#fdfdfb"/><stop offset="0.714" stop-color="#fcfcf6"/><stop offset="0.786" stop-color="#fafaf1"/><stop offset="0.857" stop-color="#fafaf1"/><stop offset="0.929" stop-color="#fbfbf3"/><stop offset="1" stop-color="#fdfdfa"/></linearGradient><linearGradient id="h100" x1="0" y1="0" x2="0" y2="1"><stop offset="0" stop-color="#fdfdfa"/><stop offset="0.071" stop-color="#f6f6e4"/><stop offset="0.143" stop-color="#ededc5"/><stop offset="0.214" stop-color="#e0d4a9"/><stop offset="0.286" stop-color="#d5b89a"/><stop offset="0.357" stop-color="#cfa892"/><stop offset="0.429" stop-color="#cca08e"/><stop offset="0.5" stop-color="#cea490"/><stop offset="0.571" stop-color="#d7be9d"/><stop offset="0.643" stop-color="#e4dfaf"/><stop offset="0.714" stop-color="#efefcb"/><stop offset="0.786" stop-color="#f5f5e0"/><stop offset="0.857" stop-color="#f9f9ee"/><stop offset="0.929" stop-color="#fcfcf6"/><stop offset="1" stop-color="#fdfdfa"/></linearGradient><linearGradient id="h101" x1="0" y1="0" x2="0" y2="1"><stop offset="0" stop-color="#fdfdfa"/><stop offset="0.071" stop-color="#f5f5e2"/><stop offset="0.143" stop-color="#ececc2"/><stop offset="0.214" stop-color="#e0d5a9"/><stop offset="0.286" stop-color="#d4b699"/><stop offset="0.357" stop-color="#cb9b8c"/><stop offset="0.429" stop-color="#c48682"/><stop offset="0.5" stop-color="#c48481"/><stop offset="0.571" stop-color="#cc9f8d"/><stop offset="0.643" stop-color="#dac6a1"/><stop offset="0.714" stop-color="#e7e6b3"/><stop offset="0.786" stop-color="#f1f1d4"/><stop offset="0.857" stop-color="#f8f8e9"/><stop offset="0.929" stop-color="#fbfbf5"/><stop offset="1" stop-color="#fdfdfb"/></linearGradient><linearGradient id="h102" x1="0" y1="0" x2="0" y2="1"><stop offset="0" stop-color="#fdfdfa"/><stop offset="0.071" stop-color="#f4f4de"/><stop offset="0.143" stop-color="#e8e8b4"/><stop offset="0.214" stop-color="#dbc7a2"/><stop offset="0.286" stop-color="#d3b297"/><stop offset="0.357" stop-color="#d0aa93"/><stop offset="0.429" stop-color="#cfa892"/><stop offset="0.5" stop-color="#d2af95"/><stop offset="0.571" stop-color="#dac6a2"/><stop offset="0.643" stop-color="#e7e6b2"/><stop offset="0.714" stop-color="#f0f0d2"/><stop offset="0.786" stop-color="#f6f6e3"/><stop offset="0.857" stop-color="#f9f9ee"/><stop offset="0.929" stop-color="#fcfcf6"/><stop offset="1" stop-color="#fdfdfa"/></linearGradient><linearGradient id="h103" x1="0" y1="0" x2="0" y2="1"><stop offset="0" stop-color="#fdfdf9"/><stop offset="0.071" stop-color="#f4f4de"/><stop offset="0.143" stop-color="#e5e0af"/><stop offset="0.214" stop-color="#d0aa93"/><stop offset="0.286" stop-color="#c2807f"/><stop offset="0.357" stop-color="#b87878"/><stop offset="0.429" stop-color="#b47676"/><stop offset="0.5" stop-color="#bc7b7b"/><stop offset="0.571" stop-color="#cea390"/><stop offset="0.643" stop-color="#e3dbac"/><stop offset="0.714" stop-color="#f1f1d4"/><stop offset="0.786" stop-color="#f7f7e7"/><stop offset="0.857" stop-color="#fafaf1"/><stop offset="0.929" stop-color="#fcfcf7"/><stop offset="1" stop-color="#fdfdfa"/></linearGradient><linearGradient id="h104" x1="0" y1="0" x2="0" y2="1"><stop offset="0" stop-color="#fdfdf9"/><stop offset="0.071" stop-color="#f4f4de"/><stop offset="0.143" stop-color="#e6e2b0"/><stop offset="0.214" stop-color="#d5b99a"/><stop offset="0.286" stop-color="#cb9c8c"/><stop offset="0.357" stop-color="#c68d85"/><stop offset="0.429" stop-color="#c38280"/><stop offset="0.5" stop-color="#c58983"/><stop offset="0.571" stop-color="#d2b096"/><stop offset="0.643" stop-color="#e3dcad"/><stop offset="0.714" stop-color="#eeeec9"/><stop offset="0.786" stop-color="#f4f4de"/><stop offset="0.857" stop-color="#f9f9ec"/><stop offset="0.929" stop-color="#fcfcf5"/><stop offset="1" stop-color="#fdfdfa"/></linearGradient><linearGradient id="h105" x1="0" y1="0" x2="0" y2="1"><stop offset="0" stop-color="#fdfdfa"/><stop offset="0.071" stop-color="#f5f5e0"/><stop offset="0.143" stop-color="#e6e4b1"/><stop offset="0.214" stop-color="#d7bc9c"/><stop offset="0.286" stop-color="#cea591"/><stop offset="0.357" stop-color="#cc9f8e"/><stop offset="0.429" stop-color="#cb9d8d"/><stop offset="0.5" stop-color="#d0aa93"/><stop offset="0.571" stop-color="#ddcda5"/><stop offset="0.643" stop-color="#ebebbd"/><stop offset="0.714" stop-color="#f1f1d5"/><stop offset="0.786" stop-color="#f5f5e2"/><stop offset="0.857" stop-color="#f9f9ee"/><stop offset="0.929" stop-color="#fcfcf6"/><stop offset="1" stop-color="#fdfdfb"/></linearGradient><linearGradient id="h106" x1="0" y1="0" x2="0" y2="1"><stop offset="0" stop-color="#fdfdfa"/><stop offset="0.071" stop-color="#f4f4df"/><stop offset="0.143" stop-color="#e4deae"/><stop offset="0.214" stop-color="#d2af96"/><stop offset="0.286" stop-color="#c89288"/><stop offset="0.357" stop-color="#c58883"/><stop offset="0.429" stop-color="#c38381"/><stop offset="0.5" stop-color="#c89488"/><stop offset="0.571" stop-color="#d8c19f"/><stop offset="0.643" stop-color="#e9e9b5"/><stop offset="0.714" stop-color="#f0f0d2"/><stop offset="0.786" stop-color="#f5f5e1"/><stop offset="0.857" stop-color="#f9f9ed"/><stop offset="0.929" stop-color="#fbfbf5"/><stop offset="1" stop-color="#fdfdfa"/></linearGradient><linearGradient id="h107" x1="0" y1="0" x2="0" y2="1"><stop offset="0" stop-color="#fdfdfa"/><stop offset="0.071" stop-color="#f4f4dd"/><stop offset="0.143" stop-color="#e4deae"/><stop offset="0.214" stop-color="#d4b599"/><stop offset="0.286" stop-color="#cb9b8c"/><stop offset="0.357" stop-color="#c89187"/><stop offset="0.429" stop-color="#c68c85"/><stop offset="0.5" stop-color="#c99488"/><stop offset="0.571" stop-color="#d4b799"/><stop offset="0.643" stop-color="#e6e2b0"/><stop offset="0.714" stop-color="#f2f2d6"/><stop offset="0.786" stop-color="#f7f7e8"/><stop offset="0.857" stop-color="#fafaf1"/><stop offset="0.929" stop-color="#fcfcf7"/><stop offset="1" stop-color="#fdfdfb"/></linearGradient><linearGradient id="h108" x1="0" y1="0" x2="0" y2="1"><stop offset="0" stop-color="#fdfdf9"/><stop offset="0.071" stop-color="#f3f3d9"/><stop offset="0.143" stop-color="#e2d9ac"/><stop offset="0.214" stop-color="#d1ac94"/><stop offset="0.286" stop-color="#c78f86"/><stop offset="0.357" stop-color="#c58783"/><stop offset="0.429" stop-color="#c58883"/><stop offset="0.5" stop-color="#c89488"/><stop offset="0.571" stop-color="#d4b699"/><stop offset="0.643" stop-color="#e6e3b1"/><stop offset="0.714" stop-color="#f4f4de"/><stop offset="0.786" stop-color="#fafaf0"/><stop offset="0.857" stop-color="#fcfcf6"/><stop offset="0.929" stop-color="#fcfcf8"/><stop offset="1" stop-color="#fdfdfa"/></linearGradient><linearGradient id="h109" x1="0" y1="0" x2="0" y2="1"><stop offset="0" stop-color="#fdfdfa"/><stop offset="0.071" stop-color="#f5f5df"/><stop offset="0.143" stop-color="#e6e3b1"/><stop offset="0.214" stop-color="#d7bc9c"/><stop offset="0.286" stop-color="#cea591"/><stop offset="0.357" stop-color="#cb9b8c"/><stop offset="0.429" stop-color="#c99488"/><stop offset="0.5" stop-color="#cc9e8d"/><stop offset="0.571" stop-color="#d9c3a0"/><stop offset="0.643" stop-color="#e8e7b3"/><stop offset="0.714" stop-color="#f0f0d1"/><stop offset="0.786" stop-color="#f5f5e1"/><stop offset="0.857" stop-color="#f9f9ed"/><stop offset="0.929" stop-color="#fcfcf6"/><stop offset="1" stop-color="#fdfdfa"/></linearGradient><linearGradient id="h110" x1="0" y1="0" x2="0" y2="1"><stop offset="0" stop-color="#fdfdfa"/><stop offset="0.071" stop-color="#f3f3db"/><stop offset="0.143" stop-color="#e5e1b0"/><stop offset="0.214" stop-color="#dac5a1"/><stop offset="0.286" stop-color="#d5b89a"/><stop offset="0.357" stop-color="#d3b498"/><stop offset="0.429" stop-color="#d3b297"/><stop offset="0.5" stop-color="#d6bc9c"/><stop offset="0.571" stop-color="#e1d7aa"/><stop offset="0.643" stop-color="#ededc5"/><stop offset="0.714" stop-color="#f3f3dc"/><stop offset="0.786" stop-color="#f7f7e7"/><stop offset="0.857" stop-color="#fafaf0"/><stop offset="0.929" stop-color="#fcfcf7"/><stop offset="1" stop-color="#fdfdfb"/></linearGradient><linearGradient id="h111" x1="0" y1="0" x2="0" y2="1"><stop offset="0" stop-color="#fdfdfa"/><stop offset="0.071" stop-color="#f1f1d4"/><stop offset="0.143" stop-color="#e0d5aa"/><stop offset="0.214" stop-color="#d3b397"/><stop offset="0.286" stop-color="#cc9e8d"/><stop offset="0.357" stop-color="#c79087"/><stop offset="0.429" stop-color="#c48481"/><stop offset="0.5" stop-color="#c68c85"/><stop offset="0.571" stop-color="#d3b297"/><stop offset="0.643" stop-color="#e3ddad"/><stop offset="0.714" stop-color="#efefcd"/><stop offset="0.786" stop-color="#f5f5e2"/><stop offset="0.857" stop-color="#f9f9ef"/><stop offset="0.929" stop-color="#fcfcf7"/><stop offset="1" stop-color="#fdfdfa"/></linearGradient><linearGradient id="h112" x1="0" y1="0" x2="0" y2="1"><stop offset="0" stop-color="#fdfdf9"/><stop offset="0.071" stop-color="#f2f2d7"/><stop offset="0.143" stop-color="#e0d5a9"/><stop offset="0.214" stop-color="#cda38f"/><stop offset="0.286" stop-color="#c48582"/><stop offset="0.357" stop-color="#c07e7e"/><stop offset="0.429" stop-color="#be7c7c"/><stop offset="0.5" stop-color="#c68c85"/><stop offset="0.571" stop-color="#d6bc9c"/><stop offset="0.643" stop-color="#e9e9b5"/><stop offset="0.714" stop-color="#f2f2d7"/><stop offset="0.786" stop-color="#f6f6e5"/><stop offset="0.857" stop-color="#f9f9ef"/><stop offset="0.929" stop-color="#fcfcf6"/><stop offset="1" stop-color="#fdfdfa"/></linearGradient><linearGradient id="h113" x1="0" y1="0" x2="0" y2="1"><stop offset="0" stop-color="#fdfdfa"/><stop offset="0.071" stop-color="#f5f5e2"/><stop offset="0.143" stop-color="#eaeab9"/><stop offset="0.214" stop-color="#ddcea5"/><stop offset="0.286" stop-color="#d6bb9b"/><stop offset="0.357" stop-color="#d4b598"/><stop offset="0.429" stop-color="#d4b598"/><stop offset="0.5" stop-color="#d7bc9c"/><stop offset="0.571" stop-color="#dfd2a8"/><stop offset="0.643" stop-color="#ececc2"/><stop offset="0.714" stop-color="#f6f6e3"/><stop offset="0.786" stop-color="#fafaf0"/><stop offset="0.857" stop-color="#fbfbf5"/><stop offset="0.929" stop-color="#fcfcf8"/><stop offset="1" stop-color="#fdfdfb"/></linearGradient><linearGradient id="h114" x1="0" y1="0" x2="0" y2="1"><stop offset="0" stop-color="#fdfdfa"/><stop offset="0.071" stop-color="#f9f9ec"/><stop offset="0.143" stop-color="#efefce"/><stop offset="0.214" stop-color="#ded1a7"/><stop offset="0.286" stop-color="#d1ac94"/><stop offset="0.357" stop-color="#cc9d8d"/><stop offset="0.429" stop-color="#cb9b8c"/><stop offset="0.5" stop-color="#cda28f"/><stop offset="0.571" stop-color="#d8bf9e"/><stop offset="0.643" stop-color="#e9e9b6"/><stop offset="0.714" stop-color="#f5f5e1"/><stop offset="0.786" stop-color="#f9f9ee"/><stop offset="0.857" stop-color="#fbfbf4"/><stop offset="0.929" stop-color="#fcfcf8"/><stop offset="1" stop-color="#fdfdfb"/></linearGradient><linearGradient id="h115" x1="0" y1="0" x2="0" y2="1"><stop offset="0" stop-color="#fdfdfb"/><stop offset="0.071" stop-color="#f8f8ea"/><stop offset="0.143" stop-color="#ececc0"/><stop offset="0.214" stop-color="#d8c19e"/><stop offset="0.286" stop-color="#cb9b8c"/><stop offset="0.357" stop-color="#c58883"/><stop offset="0.429" stop-color="#bc7b7b"/><stop offset="0.5" stop-color="#be7c7c"/><stop offset="0.571" stop-color="#cfa791"/><stop offset="0.643" stop-color="#e1d7aa"/><stop offset="0.714" stop-color="#ececc1"/><stop offset="0.786" stop-color="#f3f3da"/><stop offset="0.857" stop-color="#f8f8eb"/><stop offset="0.929" stop-color="#fcfcf5"/><stop offset="1" stop-color="#fdfdfb"/></linearGradient><linearGradient id="h116" x1="0" y1="0" x2="0" y2="1"><stop offset="0" stop-color="#fdfdfa"/><stop offset="0.071" stop-color="#f8f8e9"/><stop offset="0.143" stop-color="#eeeec7"/><stop offset="0.214" stop-color="#ddcca5"/><stop offset="0.286" stop-color="#cfa892"/><stop offset="0.357" stop-color="#ca998b"/><stop offset="0.429" stop-color="#c9978a"/><stop offset="0.5" stop-color="#cb9c8c"/><stop offset="0.571" stop-color="#d4b699"/><stop offset="0.643" stop-color="#e4dfaf"/><stop offset="0.714" stop-color="#f3f3da"/><stop offset="0.786" stop-color="#f9f9ee"/><stop offset="0.857" stop-color="#fbfbf4"/><stop offset="0.929" stop-color="#fcfcf8"/><stop offset="1" stop-color="#fdfdfa"/></linearGradient><linearGradient id="h117" x1="0" y1="0" x2="0" y2="1"><stop offset="0" stop-color="#fdfdfa"/><stop offset="0.071" stop-color="#f9f9ed"/><stop offset="0.143" stop-color="#f2f2d8"/><stop offset="0.214" stop-color="#e6e3b1"/><stop offset="0.286" stop-color="#dbc8a2"/><stop offset="0.357" stop-color="#d6bb9b"/><stop offset="0.429" stop-color="#d5b99a"/><stop offset="0.5" stop-color="#d6bc9c"/><stop offset="0.571" stop-color="#dccba4"/><stop offset="0.643" stop-color="#e8e8b4"/><stop offset="0.714" stop-color="#f4f4dd"/><stop offset="0.786" stop-color="#f9f9ee"/><stop offset="0.857" stop-color="#fbfbf4"/><stop offset="0.929" stop-color="#fcfcf8"/><stop offset="1" stop-color="#fdfdfb"/></linearGradient><linearGradient id="h118" x1="0" y1="0" x2="0" y2="1"><stop offset="0" stop-color="#fdfdf9"/><stop offset="0.071" stop-color="#f5f5e2"/><stop offset="0.143" stop-color="#e9e9b7"/><stop offset="0.214" stop-color="#d9c3a0"/><stop offset="0.286" stop-color="#cea390"/><stop offset="0.357" stop-color="#c89388"/><stop offset="0.429" stop-color="#c58883"/><stop offset="0.5" stop-color="#c68a84"/><stop offset="0.571" stop-color="#d0aa93"/><stop offset="0.643" stop-color="#e1d8ab"/><stop offset="0.714" stop-color="#efefcc"/><stop offset="0.786" stop-color="#f6f6e3"/><stop offset="0.857" stop-color="#f9f9ef"/><stop offset="0.929" stop-color="#fcfcf7"/><stop offset="1" stop-color="#fdfdfb"/></linearGradient><linearGradient id="h119" x1="0" y1="0" x2="0" y2="1"><stop offset="0" stop-color="#fdfdf9"/><stop offset="0.071" stop-color="#f2f2d5"/><stop offset="0.143" stop-color="#e0d5a9"/><stop offset="0.214" stop-color="#cfa992"/><stop offset="0.286" stop-color="#c78f86"/><stop offset="0.357" stop-color="#c48782"/><stop offset="0.429" stop-color="#c38381"/><stop offset="0.5" stop-color="#c79086"/><stop offset="0.571" stop-color="#d5b89a"/><stop offset="0.643" stop-color="#e6e2b0"/><stop offset="0.714" stop-color="#f0f0cf"/><stop offset="0.786" stop-color="#f5f5e1"/><stop offset="0.857" stop-color="#f9f9ee"/><stop offset="0.929" stop-color="#fcfcf6"/><stop offset="1" stop-color="#fdfdfa"/></linearGradient><linearGradient id="h120" x1="0" y1="0" x2="0" y2="1"><stop offset="0" stop-color="#fdfdfa"/><stop offset="0.071" stop-color="#f1f1d4"/><stop offset="0.143" stop-color="#dccca4"/><stop offset="0.214" stop-color="#cc9d8d"/><stop offset="0.286" stop-color="#c48782"/><stop offset="0.357" stop-color="#c2807f"/><stop offset="0.429" stop-color="#c17e7e"/><stop offset="0.5" stop-color="#c99489"/><stop offset="0.571" stop-color="#d9c29f"/><stop offset="0.643" stop-color="#e6e4b1"/><stop offset="0.714" stop-color="#ededc7"/><stop offset="0.786" stop-color="#f3f3da"/><stop offset="0.857" stop-color="#f8f8ea"/><stop offset="0.929" stop-color="#fbfbf5"/><stop offset="1" stop-color="#fdfdfa"/></linearGradient><linearGradient id="h121" x1="0" y1="0" x2="0" y2="1"><stop offset="0" stop-color="#fdfdf9"/><stop offset="0.071" stop-color="#f4f4df"/><stop offset="0.143" stop-color="#e7e5b2"/><stop offset="0.214" stop-color="#dbc8a2"/><stop offset="0.286" stop-color="#d4b699"/><stop offset="0.357" stop-color="#d3b397"/><stop offset="0.429" stop-color="#d4b598"/><stop offset="0.5" stop-color="#d7bd9d"/><stop offset="0.571" stop-color="#dfd2a8"/><stop offset="0.643" stop-color="#ececc0"/><stop offset="0.714" stop-color="#f6f6e2"/><stop offset="0.786" stop-color="#fafaf0"/><stop offset="0.857" stop-color="#fbfbf5"/><stop offset="0.929" stop-color="#fcfcf8"/><stop offset="1" stop-color="#fdfdfb"/></linearGradient><linearGradient id="h122" x1="0" y1="0" x2="0" y2="1"><stop offset="0" stop-color="#fdfdfa"/><stop offset="0.071" stop-color="#f4f4dd"/><stop offset="0.143" stop-color="#e5dfaf"/><stop offset="0.214" stop-color="#d6ba9b"/><stop offset="0.286" stop-color="#cda28f"/><stop offset="0.357" stop-color="#cb9b8c"/><stop offset="0.429" stop-color="#cb9d8d"/><stop offset="0.5" stop-color="#cfa892"/><stop offset="0.571" stop-color="#dac5a1"/><stop offset="0.643" stop-color="#e9e9b7"/><stop offset="0.714" stop-color="#f5f5e0"/><stop offset="0.786" stop-color="#f9f9ef"/><stop offset="0.857" stop-color="#fbfbf5"/><stop offset="0.929" stop-color="#fcfcf8"/><stop offset="1" stop-color="#fdfdfb"/></linearGradient><linearGradient id="h123" x1="0" y1="0" x2="0" y2="1"><stop offset="0" stop-color="#fdfdfb"/><stop offset="0.071" stop-color="#f5f5e1"/><stop offset="0.143" stop-color="#e9e9b5"/><stop offset="0.214" stop-color="#dccba4"/><stop offset="0.286" stop-color="#d5b89a"/><stop offset="0.357" stop-color="#d1ae95"/><stop offset="0.429" stop-color="#cfa791"/><stop offset="0.5" stop-color="#d1ae95"/><stop offset="0.571" stop-color="#dbc8a2"/><stop offset="0.643" stop-color="#e5e0af"/><stop offset="0.714" stop-color="#ececc0"/><stop offset="0.786" stop-color="#f2f2d7"/><stop offset="0.857" stop-color="#f8f8e9"/><stop offset="0.929" stop-color="#fbfbf5"/><stop offset="1" stop-color="#fdfdfb"/></linearGradient><linearGradient id="h124" x1="0" y1="0" x2="0" y2="1"><stop offset="0" stop-color="#fdfdf9"/><stop offset="0.071" stop-color="#f6f6e4"/><stop offset="0.143" stop-color="#e9e9b6"/><stop offset="0.214" stop-color="#d7be9d"/><stop offset="0.286" stop-color="#cb9c8c"/><stop offset="0.357" stop-color="#c79087"/><stop offset="0.429" stop-color="#c78e86"/><stop offset="0.5" stop-color="#cb9a8b"/><stop offset="0.571" stop-color="#d8bf9e"/><stop offset="0.643" stop-color="#e9e9b8"/><stop offset="0.714" stop-color="#f5f5df"/><stop offset="0.786" stop-color="#f9f9ec"/><stop offset="0.857" stop-color="#fbfbf3"/><stop offset="0.929" stop-color="#fcfcf7"/><stop offset="1" stop-color="#fdfdfa"/></linearGradient><linearGradient id="h125" x1="0" y1="0" x2="0" y2="1"><stop offset="0" stop-color="#fdfdfa"/><stop offset="0.071" stop-color="#f4f4dd"/><stop offset="0.143" stop-color="#e8e8b4"/><stop offset="0.214" stop-color="#dccaa3"/><stop offset="0.286" stop-color="#d3b297"/><stop offset="0.357" stop-color="#cfa791"/><stop offset="0.429" stop-color="#cfa691"/><stop offset="0.5" stop-color="#d2b096"/><stop offset="0.571" stop-color="#dac6a1"/><stop offset="0.643" stop-color="#e7e4b2"/><stop offset="0.714" stop-color="#f1f1d5"/><stop offset="0.786" stop-color="#f7f7e9"/><stop offset="0.857" stop-color="#fafaf2"/><stop offset="0.929" stop-color="#fcfcf7"/><stop offset="1" stop-color="#fdfdfb"/></linearGradient><linearGradient id="h126" x1="0" y1="0" x2="0" y2="1"><stop offset="0" stop-color="#fdfdfa"/><stop offset="0.071" stop-color="#f4f4de"/><stop offset="0.143" stop-color="#e6e3b1"/><stop offset="0.214" stop-color="#d8bf9e"/><stop offset="0.286" stop-color="#cfa792"/><stop offset="0.357" stop-color="#cb9c8c"/><stop offset="0.429" stop-color="#c89287"/><stop offset="0.5" stop-color="#c89488"/><stop offset="0.571" stop-color="#d2b196"/><stop offset="0.643" stop-color="#e1d7aa"/><stop offset="0.714" stop-color="#ececc3"/><stop offset="0.786" stop-color="#f3f3db"/><stop offset="0.857" stop-color="#f8f8eb"/><stop offset="0.929" stop-color="#fbfbf5"/><stop offset="1" stop-color="#fdfdfa"/></linearGradient><linearGradient id="h127" x1="0" y1="0" x2="0" y2="1"><stop offset="0" stop-color="#fdfdf9"/><stop offset="0.071" stop-color="#f4f4df"/><stop offset="0.143" stop-color="#e7e4b2"/><stop offset="0.214" stop-color="#d6bc9c"/><stop offset="0.286" stop-color="#cea490"/><stop offset="0.357" stop-color="#cb9d8c"/><stop offset="0.429" stop-color="#cb9b8c"/><stop offset="0.5" stop-color="#cfa892"/><stop offset="0.571" stop-color="#dccba4"/><stop offset="0.643" stop-color="#ebebbe"/><stop offset="0.714" stop-color="#f3f3d9"/><stop offset="0.786" stop-color="#f6f6e6"/><stop offset="0.857" stop-color="#f9f9ef"/><stop offset="0.929" stop-color="#fcfcf6"/><stop offset="1" stop-color="#fdfdfa"/></linearGradient><linearGradient id="h128" x1="0" y1="0" x2="0" y2="1"><stop offset="0" stop-color="#fdfdfa"/><stop offset="0.071" stop-color="#f6f6e3"/><stop offset="0.143" stop-color="#ebebbd"/><stop offset="0.214" stop-color="#e0d4a9"/><stop offset="0.286" stop-color="#d9c3a0"/><stop offset="0.357" stop-color="#d7be9d"/><stop offset="0.429" stop-color="#d8bf9e"/><stop offset="0.5" stop-color="#dac5a1"/><stop offset="0.571" stop-color="#e0d6aa"/><stop offset="0.643" stop-color="#ebebbe"/><stop offset="0.714" stop-color="#f5f5df"/><stop offset="0.786" stop-color="#f9f9ef"/><stop offset="0.857" stop-color="#fbfbf5"/><stop offset="0.929" stop-color="#fcfcf8"/><stop offset="1" stop-color="#fdfdfa"/></linearGradient><linearGradient id="h129" x1="0" y1="0" x2="0" y2="1"><stop offset="0" stop-color="#fdfdfb"/><stop offset="0.071" stop-color="#f5f5e0"/><stop offset="0.143" stop-color="#e8e8b4"/><stop offset="0.214" stop-color="#dbc8a2"/><stop offset="0.286" stop-color="#d4b599"/><stop offset="0.357" stop-color="#d1af95"/><stop offset="0.429" stop-color="#d1ad94"/><stop offset="0.5" stop-color="#d4b799"/><stop offset="0.571" stop-color="#dfd2a8"/><stop offset="0.643" stop-color="#ebebbd"/><stop offset="0.714" stop-color="#f1f1d5"/><stop offset="0.786" stop-color="#f6f6e3"/><stop offset="0.857" stop-color="#f9f9ee"/><stop offset="0.929" stop-color="#fcfcf6"/><stop offset="1" stop-color="#fdfdfa"/></linearGradient><linearGradient id="h130" x1="0" y1="0" x2="0" y2="1"><stop offset="0" stop-color="#fdfdfa"/><stop offset="0.071" stop-color="#f5f5e1"/><stop offset="0.143" stop-color="#eaeaba"/><stop offset="0.214" stop-color="#decfa6"/><stop offset="0.286" stop-color="#d7bc9c"/><stop offset="0.357" stop-color="#d4b599"/><stop offset="0.429" stop-color="#d4b498"/><stop offset="0.5" stop-color="#d6bc9c"/><stop offset="0.571" stop-color="#dfd2a8"/><stop offset="0.643" stop-color="#ececc0"/><stop offset="0.714" stop-color="#f5f5e0"/><stop offset="0.786" stop-color="#f9f9ed"/><stop offset="0.857" stop-color="#fbfbf3"/><stop offset="0.929" stop-color="#fcfcf8"/><stop offset="1" stop-color="#fdfdfa"/></linearGradient><linearGradient id="h131" x1="0" y1="0" x2="0" y2="1"><stop offset="0" stop-color="#fdfdfa"/><stop offset="0.071" stop-color="#f4f4df"/><stop offset="0.143" stop-color="#e7e6b3"/><stop offset="0.214" stop-color="#d8c19f"/><stop offset="0.286" stop-color="#cfa892"/><stop offset="0.357" stop-color="#cca08e"/><stop offset="0.429" stop-color="#cb9d8d"/><stop offset="0.5" stop-color="#cfa892"/><stop offset="0.571" stop-color="#dac6a1"/><stop offset="0.643" stop-color="#e7e5b2"/><stop offset="0.714" stop-color="#eeeecb"/><stop offset="0.786" stop-color="#f4f4dc"/><stop offset="0.857" stop-color="#f8f8eb"/><stop offset="0.929" stop-color="#fbfbf5"/><stop offset="1" stop-color="#fdfdfa"/></linearGradient><linearGradient id="h132" x1="0" y1="0" x2="0" y2="1"><stop offset="0" stop-color="#fdfdfa"/><stop offset="0.071" stop-color="#f3f3d9"/><stop offset="0.143" stop-color="#e6e2b0"/><stop offset="0.214" stop-color="#d9c4a0"/><stop offset="0.286" stop-color="#d2b196"/><stop offset="0.357" stop-color="#d1ac94"/><stop offset="0.429" stop-color="#d1ac94"/><stop offset="0.5" stop-color="#d4b699"/><stop offset="0.571" stop-color="#ddcea5"/><stop offset="0.643" stop-color="#e7e4b2"/><stop offset="0.714" stop-color="#ededc5"/><stop offset="0.786" stop-color="#f3f3d9"/><stop offset="0.857" stop-color="#f8f8e9"/><stop offset="0.929" stop-color="#fbfbf4"/><stop offset="1" stop-color="#fdfdfa"/></linearGradient><linearGradient id="h133" x1="0" y1="0" x2="0" y2="1"><stop offset="0" stop-color="#fdfdfa"/><stop offset="0.071" stop-color="#f5f5e1"/><stop offset="0.143" stop-color="#e9e9b6"/><stop offset="0.214" stop-color="#e0d4a9"/><stop offset="0.286" stop-color="#dbc7a2"/><stop offset="0.357" stop-color="#dac4a0"/><stop offset="0.429" stop-color="#dbc7a2"/><stop offset="0.5" stop-color="#ddcea6"/><stop offset="0.571" stop-color="#e3ddae"/><stop offset="0.643" stop-color="#ededc4"/><stop offset="0.714" stop-color="#f5f5e1"/><stop offset="0.786" stop-color="#fafaef"/><stop offset="0.857" stop-color="#fbfbf5"/><stop offset="0.929" stop-color="#fcfcf8"/><stop offset="1" stop-color="#fdfdfb"/></linearGradient><linearGradient id="h134" x1="0" y1="0" x2="0" y2="1"><stop offset="0" stop-color="#fdfdfb"/><stop offset="0.071" stop-color="#f3f3db"/><stop offset="0.143" stop-color="#e3dcad"/><stop offset="0.214" stop-color="#d7bc9c"/><stop offset="0.286" stop-color="#d2b096"/><stop offset="0.357" stop-color="#d1ae95"/><stop offset="0.429" stop-color="#d3b297"/><stop offset="0.5" stop-color="#dac5a1"/><stop offset="0.571" stop-color="#e6e4b1"/><stop offset="0.643" stop-color="#efefcd"/><stop offset="0.714" stop-color="#f3f3d9"/><stop offset="0.786" stop-color="#f6f6e4"/><stop offset="0.857" stop-color="#f9f9ee"/><stop offset="0.929" stop-color="#fcfcf6"/><stop offset="1" stop-color="#fdfdfb"/></linearGradient><linearGradient id="h135" x1="0" y1="0" x2="0" y2="1"><stop offset="0" stop-color="#fdfdf9"/><stop offset="0.071" stop-color="#f1f1d2"/><stop offset="0.143" stop-color="#ddcda5"/><stop offset="0.214" stop-color="#cea490"/><stop offset="0.286" stop-color="#c89187"/><stop offset="0.357" stop-color="#c58984"/><stop offset="0.429" stop-color="#c58883"/><stop offset="0.5" stop-color="#cc9f8e"/><stop offset="0.571" stop-color="#dccba4"/><stop offset="0.643" stop-color="#eaeabb"/><stop offset="0.714" stop-color="#f1f1d3"/><stop offset="0.786" stop-color="#f5f5e1"/><stop offset="0.857" stop-color="#f9f9ed"/><stop offset="0.929" stop-color="#fbfbf5"/><stop offset="1" stop-color="#fdfdfa"/></linearGradient><linearGradient id="h136" x1="0" y1="0" x2="0" y2="1"><stop offset="0" stop-color="#fdfdf9"/><stop offset="0.071" stop-color="#f0f0d1"/><stop offset="0.143" stop-color="#e0d4a9"/><stop offset="0.214" stop-color="#d4b699"/><stop offset="0.286" stop-color="#d0ab93"/><stop offset="0.357" stop-color="#cfa892"/><stop offset="0.429" stop-color="#d0ab93"/><stop offset="0.5" stop-color="#d8bf9e"/><stop offset="0.571" stop-color="#e5e0af"/><stop offset="0.643" stop-color="#eeeec9"/><stop offset="0.714" stop-color="#f2f2d7"/><stop offset="0.786" stop-color="#f6f6e3"/><stop offset="0.857" stop-color="#f9f9ee"/><stop offset="0.929" stop-color="#fcfcf6"/><stop offset="1" stop-color="#fdfdfb"/></linearGradient><linearGradient id="h137" x1="0" y1="0" x2="0" y2="1"><stop offset="0" stop-color="#fdfdfa"/><stop offset="0.071" stop-color="#f2f2d6"/><stop offset="0.143" stop-color="#decfa6"/><stop offset="0.214" stop-color="#cc9f8e"/><stop offset="0.286" stop-color="#c38280"/><stop offset="0.357" stop-color="#c07d7d"/><stop offset="0.429" stop-color="#c17e7e"/><stop offset="0.5" stop-color="#c68d85"/><stop offset="0.571" stop-color="#d4b599"/><stop offset="0.643" stop-color="#e7e5b2"/><stop offset="0.714" stop-color="#f4f4de"/><stop offset="0.786" stop-color="#f9f9ef"/><stop offset="0.857" stop-color="#fbfbf5"/><stop offset="0.929" stop-color="#fcfcf8"/><stop offset="1" stop-color="#fdfdfa"/></linearGradient>
<linearGradient id="cb" x1="0" y1="0" x2="1" y2="0"><stop offset="0.000" stop-color="#ffffff"/><stop offset="0.048" stop-color="#fafaf2"/><stop offset="0.095" stop-color="#f6f6e5"/><stop offset="0.143" stop-color="#f2f2d8"/><stop offset="0.190" stop-color="#eeeec9"/><stop offset="0.238" stop-color="#eaeab9"/><stop offset="0.286" stop-color="#e5e1b0"/><stop offset="0.333" stop-color="#e1d6aa"/><stop offset="0.381" stop-color="#dccba4"/><stop offset="0.429" stop-color="#d8bf9e"/><stop offset="0.476" stop-color="#d3b297"/><stop offset="0.524" stop-color="#cea490"/><stop offset="0.571" stop-color="#c99589"/><stop offset="0.619" stop-color="#c48481"/><stop offset="0.667" stop-color="#b97979"/><stop offset="0.714" stop-color="#ac7070"/><stop offset="0.762" stop-color="#9e6767"/><stop offset="0.810" stop-color="#8e5d5d"/><stop offset="0.857" stop-color="#7c5151"/><stop offset="0.905" stop-color="#674343"/><stop offset="0.952" stop-color="#4d3232"/><stop offset="1.000" stop-color="#221616"/></linearGradient>
</defs>
<rect width="675" height="385" fill="#fff"/>
<g font-family="Liberation Sans, sans-serif" font-weight="bold" font-size="13" fill="#111">
<text x="1.2" y="12.4">(a)</text><text x="360.8" y="11.1">(b)</text><text x="360.8" y="203.1">(c)</text>
</g>
<rect x="48.4" y="44.6" width="275.6" height="11.6" fill="url(#cb)"/>
<path d="M48.4 44.6H324" stroke="#b8b8b8" stroke-width="0.9" fill="none"/>
<path d="M48.4 44.6v2M100.7 44.6v2M153 44.6v2M205.4 44.6v2M257.7 44.6v2M310 44.6v2" stroke="#999" stroke-width="0.7" fill="none"/>
<g font-family="Liberation Serif, serif" font-size="12.7" fill="#161616" text-anchor="middle">
<text x="48.1" y="38.5">0</text>
<text x="100.4" y="38.5">100</text>
<text x="152.7" y="38.5">200</text>
<text x="205.1" y="38.5">300</text>
<text x="257.4" y="38.5">400</text>
<text x="309.7" y="38.5">500</text>
</g>
<text font-family="Liberation Serif, serif" font-size="13.4" fill="#111" x="186.3" y="65.8" text-anchor="middle">Number of particles</text>
<rect x="49" y="77.8" width="2" height="68.6" fill="url(#h0)"/><rect x="51" y="76.9" width="2" height="42.1" fill="url(#h1)"/><rect x="53" y="76.4" width="2" height="41.6" fill="url(#h2)"/><rect x="55" y="75.9" width="2" height="45.9" fill="url(#h3)"/><rect x="57" y="76.4" width="2" height="39.3" fill="url(#h4)"/><rect x="59" y="75.9" width="2" height="45.9" fill="url(#h5)"/><rect x="61" y="75.9" width="2" height="44.9" fill="url(#h6)"/><rect x="63" y="75.5" width="2" height="44.9" fill="url(#h7)"/><rect x="65" y="75.9" width="2" height="41.2" fill="url(#h8)"/><rect x="67" y="76.4" width="2" height="43.1" fill="url(#h9)"/><rect x="69" y="76.9" width="2" height="44.5" fill="url(#h10)"/><rect x="71" y="77.4" width="2" height="49.2" fill="url(#h11)"/><rect x="73" y="77.8" width="2" height="47.3" fill="url(#h12)"/><rect x="75" y="77.4" width="2" height="47.3" fill="url(#h13)"/><rect x="77" y="76.9" width="2" height="43.5" fill="url(#h14)"/><rect x="79" y="75.9" width="2" height="46.8" fill="url(#h15)"/><rect x="81" y="75.5" width="2" height="44.5" fill="url(#h16)"/><rect x="83" y="75.9" width="2" height="40.2" fill="url(#h17)"/><rect x="85" y="76.4" width="2" height="42.1" fill="url(#h18)"/><rect x="87" y="76.4" width="2" height="46.4" fill="url(#h19)"/><rect x="89" y="77.4" width="2" height="44.9" fill="url(#h20)"/><rect x="91" y="77.8" width="2" height="50.6" fill="url(#h21)"/><rect x="93" y="79.7" width="2" height="64.3" fill="url(#h22)"/><rect x="95" y="96.8" width="2" height="52" fill="url(#h23)"/><rect x="97" y="102.9" width="2" height="46.8" fill="url(#h24)"/><rect x="99" y="106.7" width="2" height="43.5" fill="url(#h25)"/><rect x="101" y="107.6" width="2" height="43.5" fill="url(#h26)"/><rect x="103" y="108.6" width="2" height="42.6" fill="url(#h27)"/><rect x="105" y="108.1" width="2" height="43.1" fill="url(#h28)"/><rect x="107" y="109.5" width="2" height="42.1" fill="url(#h29)"/><rect x="109" y="110.9" width="2" height="40.7" fill="url(#h30)"/><rect x="111" y="112.4" width="2" height="38.8" fill="url(#h31)"/><rect x="113" y="109.1" width="2" height="42.1" fill="url(#h32)"/><rect x="115" y="106.2" width="2" height="45.4" fill="url(#h33)"/><rect x="117" y="110" width="2" height="41.6" fill="url(#h34)"/><rect x="119" y="113.8" width="2" height="38.3" fill="url(#h35)"/><rect x="121" y="108.1" width="2" height="43.5" fill="url(#h36)"/><rect x="123" y="110" width="2" height="41.6" fill="url(#h37)"/><rect x="125" y="107.2" width="2" height="43.5" fill="url(#h38)"/><rect x="127" y="108.6" width="2" height="42.6" fill="url(#h39)"/><rect x="129" y="105.7" width="2" height="45.4" fill="url(#h40)"/><rect x="131" y="108.1" width="2" height="44" fill="url(#h41)"/><rect x="133" y="111.4" width="2" height="40.7" fill="url(#h42)"/><rect x="135" y="107.2" width="2" height="44" fill="url(#h43)"/><rect x="137" y="102.9" width="2" height="47.8" fill="url(#h44)"/><rect x="139" y="100.1" width="2" height="50.1" fill="url(#h45)"/><rect x="141" y="92" width="2" height="57.2" fill="url(#h46)"/><rect x="143" y="81.1" width="2" height="65.3" fill="url(#h47)"/><rect x="145" y="77.4" width="2" height="49.7" fill="url(#h48)"/><rect x="147" y="76.4" width="2" height="62" fill="url(#h49)"/><rect x="149" y="76.4" width="2" height="44.5" fill="url(#h50)"/><rect x="151" y="75.9" width="2" height="44" fill="url(#h51)"/><rect x="153" y="75.5" width="2" height="45.4" fill="url(#h52)"/><rect x="155" y="75.9" width="2" height="43.1" fill="url(#h53)"/><rect x="157" y="76.4" width="2" height="41.6" fill="url(#h54)"/><rect x="159" y="76.4" width="2" height="39.3" fill="url(#h55)"/><rect x="161" y="76.4" width="2" height="42.6" fill="url(#h56)"/><rect x="163" y="76.4" width="2" height="38.8" fill="url(#h57)"/><rect x="165" y="76.4" width="2" height="44.9" fill="url(#h58)"/><rect x="167" y="76.4" width="2" height="44" fill="url(#h59)"/><rect x="169" y="76.4" width="2" height="45.4" fill="url(#h60)"/><rect x="171" y="75.5" width="2" height="46.8" fill="url(#h61)"/><rect x="173" y="75.5" width="2" height="39.3" fill="url(#h62)"/><rect x="175" y="75.5" width="2" height="44.5" fill="url(#h63)"/><rect x="177" y="75.5" width="2" height="43.5" fill="url(#h64)"/><rect x="179" y="75.5" width="2" height="41.2" fill="url(#h65)"/><rect x="181" y="75.9" width="2" height="44.9" fill="url(#h66)"/><rect x="183" y="76.9" width="2" height="42.6" fill="url(#h67)"/><rect x="185" y="76.4" width="2" height="45.9" fill="url(#h68)"/><rect x="187" y="76.4" width="2" height="44" fill="url(#h69)"/><rect x="189" y="75.9" width="2" height="45.4" fill="url(#h70)"/><rect x="191" y="75.9" width="2" height="42.6" fill="url(#h71)"/><rect x="193" y="75.9" width="2" height="46.8" fill="url(#h72)"/><rect x="195" y="76.4" width="2" height="42.6" fill="url(#h73)"/><rect x="197" y="76.4" width="2" height="41.6" fill="url(#h74)"/><rect x="199" y="76.9" width="2" height="43.1" fill="url(#h75)"/><rect x="201" y="77.8" width="2" height="50.1" fill="url(#h76)"/><rect x="203" y="84" width="2" height="64.3" fill="url(#h77)"/><rect x="205" y="100.5" width="2" height="49.2" fill="url(#h78)"/><rect x="207" y="102.9" width="2" height="47.3" fill="url(#h79)"/><rect x="209" y="104.3" width="2" height="45.9" fill="url(#h80)"/><rect x="211" y="103.4" width="2" height="46.8" fill="url(#h81)"/><rect x="213" y="104.8" width="2" height="45.4" fill="url(#h82)"/><rect x="215" y="101.5" width="2" height="48.7" fill="url(#h83)"/><rect x="217" y="107.2" width="2" height="43.5" fill="url(#h84)"/><rect x="219" y="105.3" width="2" height="45.4" fill="url(#h85)"/><rect x="221" y="104.8" width="2" height="45.9" fill="url(#h86)"/><rect x="223" y="102.9" width="2" height="47.3" fill="url(#h87)"/><rect x="225" y="104.8" width="2" height="45.4" fill="url(#h88)"/><rect x="227" y="105.3" width="2" height="44.9" fill="url(#h89)"/><rect x="229" y="104.3" width="2" height="46.4" fill="url(#h90)"/><rect x="231" y="104.3" width="2" height="45.9" fill="url(#h91)"/><rect x="233" y="101" width="2" height="49.2" fill="url(#h92)"/><rect x="235" y="97.2" width="2" height="52" fill="url(#h93)"/><rect x="237" y="92" width="2" height="57.2" fill="url(#h94)"/><rect x="239" y="86.3" width="2" height="63.9" fill="url(#h95)"/><rect x="241" y="81.1" width="2" height="69.1" fill="url(#h96)"/><rect x="243" y="77.8" width="2" height="71.9" fill="url(#h97)"/><rect x="245" y="75.9" width="2" height="72.9" fill="url(#h98)"/><rect x="247" y="75.9" width="2" height="71" fill="url(#h99)"/><rect x="249" y="76.4" width="2" height="45.4" fill="url(#h100)"/><rect x="251" y="75.9" width="2" height="45.9" fill="url(#h101)"/><rect x="253" y="75.9" width="2" height="45.9" fill="url(#h102)"/><rect x="255" y="76.4" width="2" height="42.1" fill="url(#h103)"/><rect x="257" y="76.4" width="2" height="43.1" fill="url(#h104)"/><rect x="259" y="75.9" width="2" height="44.9" fill="url(#h105)"/><rect x="261" y="76.4" width="2" height="44" fill="url(#h106)"/><rect x="263" y="75.9" width="2" height="43.5" fill="url(#h107)"/><rect x="265" y="76.4" width="2" height="40.7" fill="url(#h108)"/><rect x="267" y="76.4" width="2" height="42.6" fill="url(#h109)"/><rect x="269" y="75.9" width="2" height="44.5" fill="url(#h110)"/><rect x="271" y="75.9" width="2" height="44" fill="url(#h111)"/><rect x="273" y="76.4" width="2" height="42.6" fill="url(#h112)"/><rect x="275" y="76.4" width="2" height="41.6" fill="url(#h113)"/><rect x="277" y="76.9" width="2" height="41.6" fill="url(#h114)"/><rect x="279" y="76.9" width="2" height="48.3" fill="url(#h115)"/><rect x="281" y="76.9" width="2" height="44.9" fill="url(#h116)"/><rect x="283" y="76.9" width="2" height="42.1" fill="url(#h117)"/><rect x="285" y="76.4" width="2" height="44" fill="url(#h118)"/><rect x="287" y="75.9" width="2" height="44.5" fill="url(#h119)"/><rect x="289" y="75.5" width="2" height="45.4" fill="url(#h120)"/><rect x="291" y="75.9" width="2" height="37.8" fill="url(#h121)"/><rect x="293" y="75.9" width="2" height="38.8" fill="url(#h122)"/><rect x="295" y="75.9" width="2" height="45.9" fill="url(#h123)"/><rect x="297" y="76.9" width="2" height="41.6" fill="url(#h124)"/><rect x="299" y="75.9" width="2" height="43.5" fill="url(#h125)"/><rect x="301" y="75.9" width="2" height="46.4" fill="url(#h126)"/><rect x="303" y="76.4" width="2" height="43.5" fill="url(#h127)"/><rect x="305" y="75.9" width="2" height="40.7" fill="url(#h128)"/><rect x="307" y="75.9" width="2" height="45.4" fill="url(#h129)"/><rect x="309" y="76.4" width="2" height="43.1" fill="url(#h130)"/><rect x="311" y="75.9" width="2" height="45.9" fill="url(#h131)"/><rect x="313" y="75.5" width="2" height="45.9" fill="url(#h132)"/><rect x="315" y="75.5" width="2" height="39.3" fill="url(#h133)"/><rect x="317" y="75.5" width="2" height="44" fill="url(#h134)"/><rect x="319" y="75.9" width="2" height="41.6" fill="url(#h135)"/><rect x="321" y="75.9" width="2" height="44" fill="url(#h136)"/><rect x="323" y="75.9" width="2" height="39.7" fill="url(#h137)"/>
<path d="M48.8 80.4H324.3M48.8 102.5H324.3M48.8 124.6H324.3M48.8 146.7H324.3" stroke="#4d4d4d" stroke-width="1.25" stroke-dasharray="6.3 3.18" fill="none"/>
<polyline points="48.6,114.4 48.8,102.4 49,110.4 49.2,106.3 49.4,107 49.6,103.4 49.8,102.3 50,97.2 50.2,94.1 50.4,100.6 50.6,99 50.8,95.3 51,93.7 51.2,93.5 51.4,90.8 51.6,86.8 51.8,86.9 52,82.4 52.2,91.9 52.4,88 52.6,91.8 52.8,92.5 53,96.6 53.2,95 53.4,92.4 53.6,96 53.8,93.7 54,97 54.2,89.3 54.4,93.2 54.6,91.9 54.8,88.5 55,87.3 55.2,85.9 55.4,85.6 55.6,88.9 55.8,84.7 56,84.7 56.2,81.9 56.4,84.5 56.6,81.7 56.8,85.7 57,85.4 57.2,87.9 57.4,88 57.6,89.4 57.8,91.9 58,90.8 58.2,92.7 58.4,95.3 58.6,90.8 58.8,90 59,88.6 59.2,91.1 59.4,89.1 59.6,88.3 59.8,88.3 60,88.3 60.2,86.4 60.4,88.3 60.6,86.3 60.8,90.3 61,87.5 61.2,89.9 61.4,91 61.6,90.4 61.8,90 62,84.2 62.2,83.9 62.4,82.7 62.6,82.5 62.8,82.8 63,89.2 63.2,82 63.4,80.9 63.6,81.6 63.8,82.6 64,83.6 64.2,82.3 64.4,82.4 64.6,87.2 64.8,84.2 65,85.8 65.2,92.1 65.4,90.8 65.6,85.8 65.8,82.7 66,82.7 66.2,82.1 66.4,81.1 66.6,84.1 66.8,80.1 67,82.4 67.2,79.9 67.4,82 67.6,84.6 67.8,82.2 68,89.1 68.2,93.2 68.4,96.9 68.6,100.9 68.8,101.3 69,98.1 69.2,103.6 69.4,102.8 69.6,104.8 69.8,112.7 70,108.8 70.2,113.6 70.4,116.8 70.6,123.2 70.8,123.6 71,118.3 71.2,116.2 71.4,116.9 71.6,112.4 71.8,108.7 72,109.3 72.2,115.3 72.4,109 72.6,105.5 72.8,104.9 73,110.6 73.2,105.2 73.4,109.1 73.6,106.4 73.8,105 74,102.1 74.2,103.8 74.4,103.5 74.6,100.3 74.8,107.5 75,102.7 75.2,99.1 75.4,100.1 75.6,98.8 75.8,101.1 76,97.3 76.2,98.9 76.4,93.3 76.6,95.3 76.8,98.6 77,96.2 77.2,96.6 77.4,92.7 77.6,92.1 77.8,89.3 78,87.4 78.2,86.5 78.4,87.3 78.6,86.2 78.8,83.8 79,85.6 79.2,83.2 79.4,80 79.6,82.1 79.8,87.6 80,82.8 80.2,80.5 80.4,85.7 80.6,81.1 80.8,77 81,77.6 81.2,79.7 81.4,84.8 81.6,89 81.8,79.3 82,88 82.2,82.7 82.4,86.5 82.6,88.6 82.8,90.2 83,90.8 83.2,91.1 83.4,90.4 83.6,92.6 83.8,93.5 84,94.4 84.2,96.9 84.4,96.6 84.6,96.7 84.8,101 85,96.9 85.2,92.3 85.4,90 85.6,98.1 85.8,95.4 86,96.5 86.2,94 86.4,97.8 86.6,99.9 86.8,98.1 87,94 87.2,94.3 87.4,97.7 87.6,91.5 87.8,89.5 88,92.4 88.2,95.1 88.4,101.2 88.6,102.5 88.8,101.3 89,100.7 89.2,103.1 89.4,101.3 89.6,102.5 89.8,101.4 90,102.5 90.2,108.9 90.4,102.6 90.6,108.4 90.8,105.5 91,110.6 91.2,108.6 91.4,110.6 91.6,112 91.8,112.1 92,114.4 92.2,109.2 92.4,115.1 92.6,110.8 92.8,113.5 93,115.9 93.2,118.2 93.4,123 93.6,112.1 93.8,116.3 94,121.4 94.2,116.6 94.4,120.7 94.6,125.1 94.8,122.1 95,119.4 95.2,123.6 95.4,125.5 95.6,123.6 95.8,125.4 96,128 96.2,123.6 96.4,127.2 96.6,125.9 96.8,129 97,132.6 97.2,130.6 97.4,132.9 97.6,132 97.8,131.7 98,137.1 98.2,134.6 98.4,134.8 98.6,136.3 98.8,135.9 99,141.6 99.2,132.8 99.4,138 99.6,134.3 99.8,138 100,137.6 100.2,139.7 100.4,141.2 100.6,139.6 100.8,131.7 101,134.4 101.2,141.3 101.4,143.1 101.6,141.1 101.8,139.2 102,147.8 102.2,138.4 102.4,144.5 102.6,144.2 102.8,144.3 103,142.2 103.2,145.3 103.4,148.3 103.6,143.6 103.8,141.6 104,145.9 104.2,144.2 104.4,142.2 104.6,139.4 104.8,142.9 105,137.7 105.2,135.3 105.4,139.2 105.6,136.5 105.8,138.2 106,134.9 106.2,135.9 106.4,139 106.6,137.9 106.8,136.5 107,139.4 107.2,139.5 107.4,143.1 107.6,144.5 107.8,143.2 108,140.9 108.2,139.6 108.4,133.7 108.6,138.4 108.8,135.7 109,135 109.2,137.1 109.4,135.6 109.6,130.4 109.8,132.5 110,133.5 110.2,134.6 110.4,136.8 110.6,135.9 110.8,138.9 111,137.9 111.2,132.4 111.4,134.6 111.6,131.1 111.8,133.1 112,136.6 112.2,129.6 112.4,132.9 112.6,132.1 112.8,136.8 113,135.9 113.2,131.2 113.4,133.7 113.6,128 113.8,135.7 114,137.4 114.2,140.7 114.4,138.2 114.6,145.7 114.8,142.9 115,138.5 115.2,142.2 115.4,141.7 115.6,144.6 115.8,141.3 116,135 116.2,138.5 116.4,136.4 116.6,137.4 116.8,135.3 117,135.9 117.2,139.1 117.4,141.7 117.6,137.9 117.8,145 118,142.8 118.2,144.7 118.4,140.9 118.6,142.5 118.8,142.8 119,146.7 119.2,146.3 119.4,151 119.6,148.3 119.8,147.5 120,146.1 120.2,143.2 120.4,145.1 120.6,143.8 120.8,148.2 121,142.4 121.2,142.2 121.4,137.2 121.6,139.2 121.8,140.8 122,138.7 122.2,133.2 122.4,130.6 122.6,135.1 122.8,135.9 123,135.3 123.2,129 123.4,132.2 123.6,129.4 123.8,129.1 124,132.4 124.2,134.7 124.4,130.5 124.6,128.7 124.8,128.7 125,132.8 125.2,134.2 125.4,126.8 125.6,129.5 125.8,130.2 126,133.5 126.2,130.7 126.4,129.3 126.6,125.1 126.8,129.2 127,128.9 127.2,128.9 127.4,130.7 127.6,128.6 127.8,135.2 128,134.5 128.2,132.3 128.4,133.1 128.6,137 128.8,132.9 129,138 129.2,138.4 129.4,138.5 129.6,139.7 129.8,139.7 130,139.7 130.2,137.7 130.4,142.3 130.6,142.6 130.8,141.8 131,140.4 131.2,140 131.4,147 131.6,143.8 131.8,139 132,141 132.2,143.1 132.4,144.3 132.6,138.2 132.8,145.4 133,143.6 133.2,143.5 133.4,145.9 133.6,145.5 133.8,142.7 134,142.3 134.2,145 134.4,142.7 134.6,141.6 134.8,136.6 135,135.5 135.2,133.6 135.4,129.2 135.6,126.8 135.8,129.8 136,130 136.2,129.8 136.4,127.2 136.6,128.2 136.8,125.2 137,126.2 137.2,123.1 137.4,121.9 137.6,120.5 137.8,121.1 138,120.3 138.2,123.4 138.4,119.5 138.6,117.3 138.8,121.3 139,123.5 139.2,121.6 139.4,115.5 139.6,117.4 139.8,119.1 140,117.7 140.2,117.1 140.4,115.5 140.6,113.9 140.8,113 141,113.3 141.2,114.6 141.4,109.2 141.6,110.7 141.8,107.3 142,109.1 142.2,110.7 142.4,119.4 142.6,111.9 142.8,107.4 143,105.8 143.2,102.8 143.4,101.2 143.6,102.3 143.8,99.7 144,99.4 144.2,101.3 144.4,89.6 144.6,95.7 144.8,99.3 145,94.3 145.2,92.4 145.4,96.6 145.6,93.4 145.8,94.6 146,90.2 146.2,90.4 146.4,87.4 146.6,86.6 146.8,90 147,93 147.2,93 147.4,90.6 147.6,95 147.8,94.2 148,93.4 148.2,88.4 148.4,93.8 148.6,92.3 148.8,91.7 149,90.1 149.2,91 149.4,94 149.6,98.1 149.8,91.5 150,89.5 150.2,86.5 150.4,95.2 150.6,87 150.8,91 151,90.4 151.2,94.7 151.4,88.9 151.6,87 151.8,90.2 152,91.5 152.2,91 152.4,83.9 152.6,86.6 152.8,87.8 153,85.2 153.2,86.9 153.4,87.8 153.6,86.9 153.8,86 154,89.8 154.2,90.7 154.4,90.2 154.6,88.9 154.8,83.1 155,87.2 155.2,87.9 155.4,85.6 155.6,84.5 155.8,85.2 156,92.2 156.2,88.4 156.4,87.6 156.6,90.3 156.8,91.2 157,90.1 157.2,89.5 157.4,89.1 157.6,93.2 157.8,97 158,92.6 158.2,88.6 158.4,93.3 158.6,90 158.8,87.5 159,89.7 159.2,87.7 159.4,92 159.6,94.5 159.8,93.7 160,94.3 160.2,89.7 160.4,90.5 160.6,92.2 160.8,95.9 161,87.4 161.2,82.8 161.4,86.4 161.6,87.3 161.8,85.3 162,87.2 162.2,88.8 162.4,88.2 162.6,90.5 162.8,91.3 163,91 163.2,91 163.4,87.7 163.6,91.4 163.8,94.3 164,94.5 164.2,96.1 164.4,95.2 164.6,90.5 164.8,92.8 165,97.7 165.2,99.6 165.4,100.3 165.6,98.6 165.8,96 166,96.5 166.2,98.1 166.4,99.5 166.6,102.4 166.8,102.7 167,102.6 167.2,106.2 167.4,111.9 167.6,100.7 167.8,104.1 168,101.7 168.2,99.4 168.4,98.4 168.6,98.1 168.8,96.1 169,95.1 169.2,93.7 169.4,93.1 169.6,88.7 169.8,91.8 170,89.6 170.2,87.1 170.4,88.5 170.6,85 170.8,84.2 171,83.6 171.2,80.6 171.4,86.1 171.6,86.5 171.8,84.1 172,87.6 172.2,92.7 172.4,89.1 172.6,87.7 172.8,86.6 173,84 173.2,81.7 173.4,83.2 173.6,83.5 173.8,84.6 174,83.1 174.2,90 174.4,84.3 174.6,86.5 174.8,89.3 175,89.5 175.2,87.7 175.4,91.3 175.6,95.6 175.8,92.1 176,92.5 176.2,93.2 176.4,93.2 176.6,88.9 176.8,94.3 177,94.5 177.2,94.1 177.4,93.2 177.6,89.7 177.8,94.4 178,90.1 178.2,91.9 178.4,89.9 178.6,86.2 178.8,84.9 179,82.3 179.2,81.5 179.4,82.3 179.6,80.9 179.8,83 180,81.8 180.2,86.2 180.4,90.6 180.6,89.6 180.8,89.7 181,87.2 181.2,91.7 181.4,92.2 181.6,87.5 181.8,95 182,93.2 182.2,98.2 182.4,92.4 182.6,98.7 182.8,96.9 183,98.7 183.2,101.1 183.4,101.3 183.6,103.6 183.8,102.6 184,107.1 184.2,104.6 184.4,103.9 184.6,107.3 184.8,105.7 185,100.7 185.2,99 185.4,90.2 185.6,91.4 185.8,87 186,87.1 186.2,86.7 186.4,83.1 186.6,83 186.8,82.6 187,83.8 187.2,84.4 187.4,85.9 187.6,88.9 187.8,83.2 188,86.7 188.2,90.6 188.4,84.6 188.6,86.4 188.8,85.4 189,85.5 189.2,90.1 189.4,89.1 189.6,86.5 189.8,83.3 190,84.3 190.2,86.6 190.4,84.1 190.6,84.1 190.8,82.1 191,86.6 191.2,86.3 191.4,83 191.6,88.5 191.8,84.2 192,85.5 192.2,90.7 192.4,89.1 192.6,93.3 192.8,94.7 193,93 193.2,97.2 193.4,96.2 193.6,98.3 193.8,97.9 194,98.6 194.2,97.8 194.4,92.8 194.6,96 194.8,91.1 195,92 195.2,92.7 195.4,88.2 195.6,85.3 195.8,86.1 196,85.9 196.2,88.5 196.4,86.4 196.6,92.4 196.8,89 197,87.4 197.2,93.6 197.4,93 197.6,89.4 197.8,96.3 198,90.9 198.2,94.4 198.4,97.8 198.6,96 198.8,93.7 199,94.3 199.2,91.7 199.4,95.5 199.6,99 199.8,96.7 200,100.6 200.2,101.4 200.4,100.6 200.6,100.3 200.8,97.4 201,97.4 201.2,103.9 201.4,101.6 201.6,104.4 201.8,111.8 202,113.4 202.2,110.6 202.4,104.1 202.6,112.3 202.8,112 203,114.9 203.2,118.4 203.4,118.4 203.6,116.1 203.8,117.9 204,122.7 204.2,118.5 204.4,128.2 204.6,130.2 204.8,134.5 205,136.2 205.2,135.2 205.4,140.2 205.6,140.6 205.8,137.9 206,139.9 206.2,138.1 206.4,137.4 206.6,139.7 206.8,135.9 207,138.7 207.2,144.7 207.4,140.7 207.6,135.2 207.8,129.2 208,125.4 208.2,125.5 208.4,125.3 208.6,127.5 208.8,127.3 209,126.1 209.2,122.5 209.4,131.4 209.6,128 209.8,128.3 210,128.2 210.2,129.7 210.4,132.9 210.6,129.7 210.8,126.7 211,124.5 211.2,120.7 211.4,125.2 211.6,128 211.8,128.5 212,127.3 212.2,128 212.4,126.9 212.6,133.3 212.8,132.4 213,133.7 213.2,132.2 213.4,141 213.6,133.3 213.8,135.4 214,133.3 214.2,134.6 214.4,129.4 214.6,130.3 214.8,125.2 215,122.9 215.2,122.2 215.4,121.8 215.6,126 215.8,124.5 216,121.7 216.2,122.3 216.4,124.3 216.6,121.4 216.8,127.3 217,127.2 217.2,127.6 217.4,132.6 217.6,132.8 217.8,138.4 218,140.4 218.2,139.5 218.4,140 218.6,140.8 218.8,138.8 219,134.7 219.2,135.5 219.4,130.6 219.6,130.6 219.8,129.2 220,128.9 220.2,124.3 220.4,125.9 220.6,125.6 220.8,125.9 221,123.1 221.2,127.3 221.4,128.4 221.6,132.5 221.8,127 222,124 222.2,126.4 222.4,128.5 222.6,129.6 222.8,128.9 223,126.2 223.2,125 223.4,127.7 223.6,129.5 223.8,128.3 224,124.3 224.2,125.9 224.4,125.1 224.6,131.6 224.8,127.1 225,123.5 225.2,118.9 225.4,123.8 225.6,124.2 225.8,125.5 226,128.2 226.2,123.2 226.4,122.4 226.6,124.5 226.8,121.3 227,128.8 227.2,132 227.4,130.8 227.6,128.6 227.8,131.9 228,135.4 228.2,129.8 228.4,132.1 228.6,133 228.8,134.6 229,130.8 229.2,131.8 229.4,128.7 229.6,124.4 229.8,126 230,125.4 230.2,123.6 230.4,125.2 230.6,127.8 230.8,128.7 231,127 231.2,124.7 231.4,125.8 231.6,128 231.8,128.2 232,131.8 232.2,131.2 232.4,128.5 232.6,129.4 232.8,128 233,126.1 233.2,122 233.4,120.9 233.6,119.1 233.8,117.5 234,114.5 234.2,115.6 234.4,112.1 234.6,112.3 234.8,115.2 235,109.5 235.2,114.8 235.4,115.2 235.6,118.5 235.8,114.9 236,118.5 236.2,114.3 236.4,110.7 236.6,117.2 236.8,111.2 237,116.9 237.2,111.6 237.4,107.6 237.6,115.1 237.8,108.1 238,116.2 238.2,107.7 238.4,106.6 238.6,108.1 238.8,108.2 239,105 239.2,107.3 239.4,106.5 239.6,106.6 239.8,100.4 240,100.8 240.2,104.4 240.4,105.6 240.6,104.2 240.8,102 241,103.7 241.2,109.8 241.4,103.8 241.6,106.3 241.8,98.9 242,108.8 242.2,106.2 242.4,99 242.6,104.7 242.8,105.7 243,103.8 243.2,101.5 243.4,101 243.6,96 243.8,97.2 244,96.1 244.2,94.9 244.4,94.9 244.6,98.7 244.8,93.8 245,90.1 245.2,92.4 245.4,94.3 245.6,93 245.8,95.5 246,89.2 246.2,87.2 246.4,88.7 246.6,90 246.8,85.4 247,80.7 247.2,88.2 247.4,88.3 247.6,87.3 247.8,91.3 248,90.6 248.2,94.7 248.4,86.3 248.6,86.4 248.8,90.7 249,91.6 249.2,91.7 249.4,86.3 249.6,91.4 249.8,94.6 250,96.4 250.2,92.6 250.4,92.9 250.6,96.2 250.8,95.7 251,100.8 251.2,99.9 251.4,101.3 251.6,97.7 251.8,98 252,99.4 252.2,94.2 252.4,89.4 252.6,94.7 252.8,90.5 253,90.8 253.2,89.7 253.4,91.1 253.6,88.2 253.8,89 254,89.3 254.2,89 254.4,83 254.6,85.4 254.8,81.8 255,83.7 255.2,83.9 255.4,85.8 255.6,84.6 255.8,84.9 256,90.2 256.2,92.3 256.4,94.6 256.6,94.4 256.8,91.5 257,95.5 257.2,98.9 257.4,95.9 257.6,94.2 257.8,90.2 258,89.7 258.2,84.2 258.4,88.7 258.6,88.4 258.8,89.5 259,89.3 259.2,83.6 259.4,83.8 259.6,87 259.8,88.2 260,85.8 260.2,90.5 260.4,87.3 260.6,91.9 260.8,94.6 261,97.9 261.2,89.3 261.4,93.1 261.6,91 261.8,95.6 262,93 262.2,93.1 262.4,92.2 262.6,93.9 262.8,97.2 263,99.9 263.2,93.8 263.4,91.9 263.6,89.4 263.8,93.3 264,82.4 264.2,82.4 264.4,85.4 264.6,86.8 264.8,88.8 265,90.3 265.2,91 265.4,91.4 265.6,91.4 265.8,90.4 266,93.7 266.2,89.9 266.4,94.4 266.6,94 266.8,90 267,91.2 267.2,89.3 267.4,92.1 267.6,91.9 267.8,89.5 268,90.9 268.2,94.1 268.4,91.6 268.6,88.2 268.8,84.8 269,85.4 269.2,87.4 269.4,85 269.6,83.2 269.8,87.6 270,84.3 270.2,86.3 270.4,88.1 270.6,90.3 270.8,84.4 271,90.5 271.2,96 271.4,89.9 271.6,95.3 271.8,94.1 272,93 272.2,94.6 272.4,91.3 272.6,85.6 272.8,89.6 273,93.6 273.2,91.7 273.4,91.8 273.6,92.8 273.8,90.8 274,91.2 274.2,88.7 274.4,89.2 274.6,93 274.8,92.4 275,92 275.2,91.1 275.4,89.5 275.6,87.4 275.8,90.1 276,93.2 276.2,90.9 276.4,96.4 276.6,96.9 276.8,91.8 277,99.9 277.2,100 277.4,98.1 277.6,98.6 277.8,100.1 278,103.1 278.2,100.8 278.4,98.2 278.6,101 278.8,102.8 279,106.3 279.2,100.5 279.4,102.4 279.6,105.8 279.8,103.2 280,106.1 280.2,100.5 280.4,99.1 280.6,100.6 280.8,102.8 281,103.1 281.2,101.5 281.4,102.9 281.6,97.3 281.8,100.2 282,100.5 282.2,94 282.4,95.7 282.6,97 282.8,98.5 283,97.4 283.2,94 283.4,97.5 283.6,93.1 283.8,88.3 284,94.3 284.2,95 284.4,95.4 284.6,95.8 284.8,97.6 285,90.7 285.2,87.6 285.4,85.2 285.6,92.1 285.8,86.8 286,85.1 286.2,84 286.4,87.6 286.6,86.7 286.8,87.3 287,82.5 287.2,81.4 287.4,83.2 287.6,81.6 287.8,83.8 288,83.8 288.2,84.1 288.4,87.6 288.6,87.1 288.8,86.8 289,88.7 289.2,87.4 289.4,86.9 289.6,87.4 289.8,89.8 290,88.7 290.2,89.7 290.4,90.1 290.6,89 290.8,89.4 291,87.4 291.2,84.3 291.4,89.9 291.6,82.4 291.8,87 292,92.6 292.2,91.7 292.4,87.8 292.6,92.2 292.8,89.8 293,86.6 293.2,88.1 293.4,87.4 293.6,89.7 293.8,90.1 294,88.2 294.2,91.4 294.4,93.6 294.6,89.9 294.8,90.7 295,91.6 295.2,92.7 295.4,90.9 295.6,93.9 295.8,97 296,90.4 296.2,92.4 296.4,92.3 296.6,94.6 296.8,94.3 297,96.7 297.2,99.5 297.4,98.7 297.6,102.2 297.8,101.6 298,104.4 298.2,107.9 298.4,103.3 298.6,103.6 298.8,98.8 299,101.5 299.2,96.8 299.4,98.2 299.6,95.9 299.8,96.3 300,92.1 300.2,92.8 300.4,88.2 300.6,89 300.8,89.4 301,90.3 301.2,89.8 301.4,89.4 301.6,90.6 301.8,92.6 302,87 302.2,84.3 302.4,90 302.6,92.4 302.8,87.7 303,90 303.2,90.1 303.4,89.5 303.6,88 303.8,87.7 304,90.5 304.2,91.8 304.4,89.4 304.6,89.4 304.8,91.7 305,90.5 305.2,92.7 305.4,94.7 305.6,90 305.8,94.2 306,96.8 306.2,88.3 306.4,90.7 306.6,88 306.8,89.1 307,92.5 307.2,92.7 307.4,90.8 307.6,90 307.8,95.7 308,94.7 308.2,94.7 308.4,93 308.6,93.7 308.8,97.2 309,94.3 309.2,102.5 309.4,99.4 309.6,101.2 309.8,102.1 310,100.2 310.2,96.4 310.4,99.5 310.6,96.1 310.8,95.3 311,96.9 311.2,95 311.4,92.7 311.6,92.5 311.8,94.1 312,92.3 312.2,95.7 312.4,88 312.6,88.7 312.8,88.5 313,89.2 313.2,94.2 313.4,95.1 313.6,91.9 313.8,89.9 314,91.4 314.2,87.3 314.4,87.3 314.6,91.8 314.8,83.6 315,85.3 315.2,86.3 315.4,88 315.6,88.7 315.8,87.2 316,83 316.2,87.2 316.4,85.8 316.6,83 316.8,82.1 317,82 317.2,79.5 317.4,83.3 317.6,84.3 317.8,85.3 318,84.2 318.2,85.8 318.4,88.2 318.6,86.8 318.8,84.8 319,83.6 319.2,86.1 319.4,89.5 319.6,85.6 319.8,90.3 320,88.1 320.2,86.6 320.4,81.5 320.6,85.4 320.8,87.7 321,84.4 321.2,85.4 321.4,88.7 321.6,92.6 321.8,87.6 322,84.7 322.2,88.9 322.4,90.6 322.6,91.5 322.8,90.3 323,90.6 323.2,90 323.4,93.8 323.6,92.1" fill="none" stroke="#2e2e2e" stroke-width="0.6" stroke-linejoin="round"/>
<path d="M48.5 66.6V160.6H324.3" stroke="#b8b8b8" stroke-width="1" fill="none"/>
<path d="M48.5 69.3h2.6M48.5 113.5h2.6M48.5 157.8h2.6M103.7 160.6v-2.6M158.8 160.6v-2.6M214 160.6v-2.6M269.1 160.6v-2.6" stroke="#999" stroke-width="0.8" fill="none"/>
<text transform="translate(44.6 75.1) scale(0.860 1)" font-family="Liberation Serif, serif" font-size="14.6" text-anchor="end" fill="#161616">-2</text><text transform="translate(45.4 119.2) scale(0.860 1)" font-family="Liberation Serif, serif" font-size="14.6" text-anchor="end" fill="#161616">0</text><text transform="translate(45.2 163.1) scale(0.860 1)" font-family="Liberation Serif, serif" font-size="14.6" text-anchor="end" fill="#161616">2</text>
<text font-family="Liberation Serif, serif" font-size="14" fill="#161616" transform="translate(28.6 113.5) rotate(-90)" text-anchor="middle">x</text>
<text transform="translate(186.5 186.9) scale(1.045 1)" font-family="Liberation Serif, serif" font-size="15" text-anchor="middle" fill="#161616">Certainty levels</text>
<polyline points="48.8,266.1 49.2,264.6 49.7,255.3 50.2,237.1 50.6,222.9 51.1,209.8 51.5,213.8 52,218.5 52.4,226.3 52.9,221.2 53.3,212.4 53.8,206.4 54.2,206 54.7,209.5 55.1,206.2 55.6,202.1 56,205 56.5,203.3 56.9,204.5 57.4,204.9 57.8,204.8 58.3,206.6 58.7,205.3 59.2,204.1 59.6,205.5 60.1,205.9 60.5,201.4 61,203.4 61.4,202 61.9,203.2 62.3,201.2 62.8,203.3 63.2,203 63.7,202.4 64.1,201 64.6,201.5 65,199.6 65.5,198.5 65.9,200.6 66.4,197.8 66.8,202.4 67.3,202.3 67.7,198.3 68.2,202.9 68.6,201.3 69.1,204.2 69.5,205.1 70,202.5 70.4,206.4 70.9,207.6 71.3,211 71.8,208.6 72.2,213.2 72.7,211.4 73.1,211.4 73.6,209 74,211.3 74.5,208.2 74.9,210 75.4,206.3 75.8,205.9 76.3,205.2 76.7,202.1 77.2,203.7 77.6,207.9 78.1,206.8 78.5,209.6 79,211.1 79.4,214.7 79.9,215.6 80.3,216.2 80.8,214.2 81.2,211.2 81.7,206.8 82.1,207 82.6,201.7 83,200.5 83.5,199.1 83.9,201.6 84.4,198 84.8,198.1 85.3,199.2 85.7,203.2 86.2,202 86.6,202.6 87.1,205.4 87.5,201.9 88,202.9 88.4,203 88.9,202.5 89.3,204.1 89.8,207.4 90.2,205.1 90.7,204.8 91.1,206.2 91.6,211.6 92,216.3 92.5,225.2 92.9,231.8 93.4,245.2 93.8,258.9 94.3,263.4 94.7,265.2 95.2,266.1 95.6,266.2 96.1,266.5 96.5,266.3 97,265.9 97.4,266.5 97.9,266.3 98.3,266 98.8,266.4 99.2,266.2 99.7,266.1 100.1,266.1 100.6,266 101,266.2 101.5,266.4 101.9,266.1 102.4,266.3 102.8,266.5 103.3,266 103.7,266.2 104.2,266.1 104.6,266 105.1,266 105.5,266.2 106,266.3 106.4,266.1 106.9,266.2 107.3,266.3 107.8,266.3 108.2,266.3 108.7,266.3 109.1,266.3 109.6,266.5 110,266.3 110.5,266.2 110.9,266.3 111.4,266 111.8,266.1 112.3,266.3 112.7,266.3 113.2,266.5 113.6,266.2 114.1,266 114.5,266.5 115,266.4 115.4,266 115.9,266.4 116.3,266.2 116.8,265.9 117.2,266.1 117.7,266.1 118.1,266.5 118.6,266.1 119,266.2 119.5,266.2 119.9,266.1 120.4,266 120.8,266.2 121.3,266.4 121.7,266.3 122.2,266 122.6,266 123.1,266.2 123.5,266.1 124,266.1 124.4,265.9 124.9,266.5 125.3,266.4 125.8,266 126.2,266.4 126.7,266.4 127.1,265.8 127.6,266.1 128,266.1 128.5,266.3 128.9,266.2 129.4,266.2 129.8,266.2 130.3,266.5 130.7,266.6 131.2,265.8 131.6,264.8 132.1,264.4 132.5,263.7 133,264.7 133.4,265.8 133.9,266.3 134.3,266.4 134.8,266.2 135.2,266 135.7,266.2 136.1,266.2 136.6,266.5 137,266.1 137.5,265.9 137.9,265.9 138.4,266.3 138.8,266 139.3,265.7 139.7,266 140.2,266.1 140.6,266.3 141.1,265.9 141.5,266.1 142,266.2 142.4,265.9 142.9,266 143.3,265 143.8,258.2 144.2,238.6 144.7,228.3 145.1,240.8 145.6,249.9 146,246.8 146.5,235.3 146.9,226.6 147.4,218.6 147.8,220.5 148.3,212.4 148.7,211.8 149.2,208.8 149.6,205.8 150.1,210.8 150.5,207.9 151,214.5 151.4,218.5 151.9,219 152.3,228.1 152.8,232.3 153.2,217.6 153.7,205 154.1,205.1 154.6,203.7 155,204.7 155.5,203.1 155.9,201.1 156.4,200.1 156.8,200.9 157.3,202.9 157.7,201 158.2,201.2 158.6,199.5 159.1,197.4 159.5,198.4 160,200.7 160.4,199.8 160.9,198.1 161.3,196.8 161.8,199.8 162.2,199 162.7,198.7 163.1,198.5 163.6,199.4 164,199.2 164.5,200.3 164.9,200.9 165.4,202.2 165.8,202 166.3,200.6 166.7,201.7 167.2,203.3 167.6,202.7 168.1,205 168.5,206.9 169,204.4 169.4,203.6 169.9,210.3 170.3,210.6 170.8,214.1 171.2,212.9 171.7,220.4 172.1,216.6 172.6,212.5 173,214.1 173.5,222.5 173.9,226.9 174.4,221.4 174.8,214.8 175.3,215.5 175.7,215.5 176.2,232 176.6,225.3 177.1,214.4 177.5,216.3 178,212.2 178.4,209.6 178.9,207.6 179.3,203.2 179.8,205.9 180.2,202.8 180.7,202 181.1,201.6 181.6,203 182,203.9 182.5,201.4 182.9,199.7 183.4,203.9 183.8,200.2 184.3,203.9 184.7,201.5 185.2,200.2 185.6,200 186.1,201.5 186.5,202 187,199.8 187.4,201.5 187.9,203.2 188.3,199.7 188.8,198.6 189.2,199.2 189.7,199.1 190.1,201.5 190.6,203.4 191,204.5 191.5,209.7 191.9,206.4 192.4,207.1 192.8,210.2 193.3,206 193.7,202.6 194.2,202.8 194.6,205.4 195.1,203.7 195.5,203.3 196,201.4 196.4,203.8 196.9,203.4 197.3,204.1 197.8,204.8 198.2,206.6 198.7,207.7 199.1,212 199.6,210.6 200,214.9 200.5,220.6 200.9,223.8 201.4,232.5 201.8,239.1 202.3,246.1 202.7,250.9 203.2,254.8 203.6,262 204.1,264.1 204.5,264.9 205,266 205.4,266 205.9,265.9 206.3,266.2 206.8,266.2 207.2,266.1 207.7,266 208.1,266.1 208.6,266.1 209,266.1 209.5,266.2 209.9,266.1 210.4,266.3 210.8,266.3 211.3,266.3 211.7,266.1 212.2,266.1 212.6,266.3 213.1,266.2 213.5,266.2 214,265.8 214.4,265.7 214.9,266.3 215.3,266.3 215.8,266.4 216.2,266.3 216.7,266.2 217.1,266.2 217.6,266 218,266.4 218.5,266.1 218.9,266.3 219.4,266.2 219.8,266.2 220.3,266.4 220.7,266.1 221.2,266.1 221.6,266.1 222.1,266.1 222.5,266.5 223,266.1 223.4,266.4 223.9,266.3 224.3,266.3 224.8,266.3 225.2,266 225.7,266.3 226.1,266.5 226.6,266.1 227,266.2 227.5,266.1 227.9,266.3 228.4,266 228.8,266.5 229.3,266.1 229.7,265.9 230.2,266.5 230.6,266.4 231.1,266.3 231.5,266.3 232,266.1 232.4,266.2 232.9,266.3 233.3,266.4 233.8,266.4 234.2,266.2 234.7,266.1 235.1,266.2 235.6,266.4 236,266.4 236.5,266.1 236.9,266.1 237.4,266.4 237.8,266.3 238.3,266.3 238.7,266 239.2,266.1 239.6,266.1 240.1,266.2 240.5,265.9 241,266.4 241.4,265.1 241.9,263.7 242.3,261.9 242.8,260.9 243.2,260.3 243.7,257.3 244.1,257.2 244.6,256.3 245,253.7 245.5,253.5 245.9,249.8 246.4,249.9 246.8,246.6 247.3,243.8 247.7,243.9 248.2,238.9 248.6,236.6 249.1,229.3 249.5,227.2 250,233.6 250.4,237.5 250.9,244.5 251.3,240.6 251.8,225.4 252.2,217.6 252.7,213.1 253.1,213.4 253.6,209.8 254,207.4 254.5,206.9 254.9,209.2 255.4,203.7 255.8,203.7 256.3,205.8 256.7,203.4 257.2,207.6 257.6,205.4 258.1,205.7 258.5,206.6 259,208.3 259.4,205.7 259.9,204.8 260.3,203.7 260.8,200.1 261.2,201.1 261.7,205 262.1,203.7 262.6,203 263,203.1 263.5,200.9 263.9,202.2 264.4,199.8 264.8,201.7 265.3,199.5 265.7,200.1 266.2,200.9 266.6,199.3 267.1,200.7 267.5,200.4 268,200.2 268.4,201.9 268.9,197.1 269.3,197.1 269.8,201.3 270.2,202.2 270.7,204.5 271.1,202.8 271.6,203.2 272,200.6 272.5,203.6 272.9,203.7 273.4,201 273.8,201.7 274.3,203.5 274.7,204.6 275.2,199.5 275.6,205 276.1,205 276.5,204.1 277,204.6 277.4,204.7 277.9,202.2 278.3,205.1 278.8,204.5 279.2,203.8 279.7,206.2 280.1,208.1 280.6,202.4 281,201.4 281.5,200.7 281.9,206.2 282.4,202.8 282.8,203.6 283.3,202.8 283.7,203 284.2,201.6 284.6,205.8 285.1,206.3 285.5,203 286,205 286.4,205.9 286.9,207.6 287.3,208.5 287.8,210.5 288.2,211.3 288.7,210.4 289.1,210.2 289.6,205.3 290,205.6 290.5,208 290.9,207 291.4,206.9 291.8,204 292.3,204.6 292.7,209.7 293.2,210.6 293.6,211.1 294.1,212.5 294.5,211.9 295,214.9 295.4,213.8 295.9,212.5 296.3,207.6 296.8,208.1 297.2,208.6 297.7,214.4 298.1,220.1 298.6,224.8 299,231.2 299.5,222.1 299.9,212.3 300.4,206 300.8,208.2 301.3,208.5 301.7,203.7 302.2,203.5 302.6,199.8 303.1,208 303.5,207.1 304,206.7 304.4,206.7 304.9,207 305.3,208.9 305.8,209.4 306.2,210.5 306.7,211 307.1,210.8 307.6,212.7 308,207.2 308.5,209.6 308.9,209.3 309.4,209.8 309.8,209 310.3,215.5 310.7,214.1 311.2,215.8 311.6,219.1 312.1,217.8 312.5,222.8 313,225.9 313.4,230.7 313.9,226.3 314.3,218.3 314.8,216.5 315.2,212.3 315.7,211.3 316.1,209.4 316.6,209.7 317,204.9 317.5,206.7 317.9,207.6 318.4,204.4 318.8,207.7 319.3,202.7 319.7,204.7 320.2,204 320.6,204.2 321.1,203.8 321.5,205 322,205.7 322.4,204.2 322.9,206.9 323.3,207.8 323.8,202.5 324.2,206.3" fill="none" stroke="#edb120" stroke-width="1.35" stroke-linejoin="round"/>
<polyline points="48.8,262.4 49.2,261.2 49.7,261.5 50.2,264.7 50.6,265.9 51.1,266.3 51.5,266.5 52,266.7 52.4,266.4 52.9,266.5 53.3,266.4 53.8,266.2 54.2,266.3 54.7,266.5 55.1,266.3 55.6,266.6 56,266.6 56.5,266.7 56.9,266.4 57.4,266.6 57.8,266.2 58.3,266.3 58.7,266.4 59.2,266.4 59.6,266.1 60.1,266.1 60.5,266.5 61,266.3 61.4,266.6 61.9,266.5 62.3,266.5 62.8,266.4 63.2,266.6 63.7,266.4 64.1,266.6 64.6,266.3 65,266.4 65.5,266.3 65.9,266.5 66.4,266.4 66.8,266.3 67.3,266.7 67.7,266.3 68.2,266.4 68.6,266.5 69.1,266.7 69.5,266.4 70,266.5 70.4,266.4 70.9,266.2 71.3,266.5 71.8,266.6 72.2,266.4 72.7,266.4 73.1,266.1 73.6,266.1 74,266.3 74.5,266.5 74.9,266.3 75.4,266.4 75.8,266.6 76.3,266.4 76.7,266.5 77.2,266.6 77.6,266.2 78.1,266.5 78.5,266.1 79,266.5 79.4,266.4 79.9,266.3 80.3,266.2 80.8,266.4 81.2,266.3 81.7,266.4 82.1,266.2 82.6,266.5 83,266.2 83.5,266.3 83.9,266.3 84.4,266.6 84.8,266.1 85.3,266.3 85.7,266.6 86.2,266.3 86.6,266.2 87.1,266.4 87.5,266.4 88,266.5 88.4,266.2 88.9,266.4 89.3,266.5 89.8,266.6 90.2,266.2 90.7,266.6 91.1,266.2 91.6,266.1 92,266.2 92.5,266.4 92.9,264.6 93.4,262.8 93.8,256.5 94.3,247.8 94.7,238 95.2,233.1 95.6,218.6 96.1,212.3 96.5,211.7 97,207.8 97.4,205.5 97.9,209.9 98.3,211.3 98.8,209.7 99.2,216.7 99.7,215.9 100.1,213.6 100.6,208.3 101,207.2 101.5,203.2 101.9,207.3 102.4,207.6 102.8,211.3 103.3,211.8 103.7,214.5 104.2,212.8 104.6,212.2 105.1,205.9 105.5,204.2 106,208.4 106.4,207.6 106.9,210.1 107.3,210.8 107.8,211.5 108.2,211.6 108.7,209.7 109.1,208.1 109.6,204.4 110,208.4 110.5,208 110.9,212.1 111.4,209.5 111.8,206.7 112.3,202 112.7,202.2 113.2,202.2 113.6,200.9 114.1,201.2 114.5,202.1 115,202.2 115.4,200.9 115.9,206.7 116.3,201.1 116.8,202.2 117.2,206.7 117.7,201.2 118.1,203.5 118.6,203.2 119,201.6 119.5,199.3 119.9,199 120.4,201.4 120.8,202 121.3,197.5 121.7,201.2 122.2,199.7 122.6,202.2 123.1,201.4 123.5,200.7 124,202.2 124.4,204 124.9,207.1 125.3,213.9 125.8,213.7 126.2,214.9 126.7,214 127.1,212.2 127.6,216.8 128,219.8 128.5,217 128.9,211.8 129.4,215.1 129.8,222.5 130.3,227.3 130.7,236.7 131.2,242.6 131.6,245.7 132.1,252.1 132.5,247.5 133,245.1 133.4,240.1 133.9,232.2 134.3,228.1 134.8,226.4 135.2,224.3 135.7,220.2 136.1,218.1 136.6,217.5 137,214.6 137.5,210.4 137.9,210.1 138.4,208 138.8,203.7 139.3,207.4 139.7,205.8 140.2,210.5 140.6,209.3 141.1,214.9 141.5,222.6 142,236.3 142.4,248.5 142.9,259.3 143.3,263.6 143.8,264.9 144.2,265.8 144.7,265.7 145.1,266.4 145.6,264.4 146,262 146.5,261.9 146.9,264.7 147.4,266.4 147.8,266.2 148.3,266.5 148.7,266.4 149.2,266.2 149.6,266.4 150.1,266.3 150.5,266 151,266.1 151.4,266.5 151.9,266.5 152.3,266.4 152.8,266.2 153.2,266.3 153.7,266.4 154.1,266.5 154.6,266.3 155,266.2 155.5,266.6 155.9,266.4 156.4,266.3 156.8,266.3 157.3,266.3 157.7,266.7 158.2,266.6 158.6,266.3 159.1,266.2 159.5,266.7 160,266.7 160.4,266.6 160.9,266.5 161.3,266.1 161.8,266.2 162.2,266.5 162.7,266.4 163.1,266.4 163.6,266.3 164,266.3 164.5,266.5 164.9,266.3 165.4,266.4 165.8,266.4 166.3,266.4 166.7,266.6 167.2,266.6 167.6,266.2 168.1,266.4 168.5,266.3 169,266.5 169.4,266.2 169.9,266.5 170.3,266.5 170.8,266.5 171.2,266.2 171.7,266.4 172.1,266.2 172.6,266.5 173,266.6 173.5,266.1 173.9,266.3 174.4,266.4 174.8,266.3 175.3,266.7 175.7,266.4 176.2,266.4 176.6,266.2 177.1,266.7 177.5,266.4 178,266.5 178.4,266.4 178.9,266 179.3,266.1 179.8,266.2 180.2,266.5 180.7,266.3 181.1,266.5 181.6,266.4 182,266.4 182.5,266.6 182.9,266.4 183.4,266.1 183.8,266.3 184.3,266.7 184.7,266.2 185.2,266.6 185.6,266.7 186.1,266.3 186.5,266.5 187,266.2 187.4,266.5 187.9,266.3 188.3,266.2 188.8,266.3 189.2,266.3 189.7,266.3 190.1,266.4 190.6,266.4 191,266.3 191.5,266.6 191.9,266.8 192.4,266.4 192.8,266.3 193.3,266.2 193.7,266.5 194.2,266.4 194.6,266.4 195.1,266.1 195.5,266.2 196,266.2 196.4,266.6 196.9,266.4 197.3,266 197.8,266.5 198.2,266.6 198.7,266.6 199.1,265.9 199.6,266.4 200,266.5 200.5,266.5 200.9,266.4 201.4,266.1 201.8,266.3 202.3,264.5 202.7,261.4 203.2,258.3 203.6,254.3 204.1,248.4 204.5,236.6 205,230.1 205.4,227.3 205.9,224.4 206.3,218.9 206.8,218 207.2,213.4 207.7,207.9 208.1,207.7 208.6,208.6 209,211 209.5,212.8 209.9,220 210.4,221.6 210.8,220.6 211.3,231.6 211.7,235.2 212.2,227.8 212.6,224.1 213.1,223.8 213.5,221.1 214,222 214.4,223.8 214.9,225 215.3,229.4 215.8,225.5 216.2,221.6 216.7,217.7 217.1,210.4 217.6,205.2 218,209.1 218.5,210.1 218.9,210.6 219.4,206.8 219.8,205.7 220.3,210.7 220.7,215.6 221.2,219.1 221.6,223.9 222.1,233.7 222.5,239.4 223,238.3 223.4,235.8 223.9,232.7 224.3,226.3 224.8,213.2 225.2,210.1 225.7,209.1 226.1,207.1 226.6,206.1 227,208.1 227.5,205 227.9,204.9 228.4,207.8 228.8,203 229.3,200.7 229.7,205.1 230.2,207.6 230.6,204.7 231.1,205 231.5,202.5 232,203.2 232.4,207.5 232.9,207.3 233.3,206.3 233.8,204.4 234.2,203.6 234.7,204 235.1,203.9 235.6,207.1 236,205.7 236.5,207.3 236.9,210.4 237.4,211.4 237.8,211.4 238.3,216 238.7,219 239.2,218.7 239.6,224.6 240.1,226.7 240.5,229.6 241,233.4 241.4,235 241.9,241.1 242.3,241.7 242.8,245.3 243.2,248.3 243.7,249.4 244.1,252.3 244.6,254.2 245,255.8 245.5,256.2 245.9,257.5 246.4,259.1 246.8,260.8 247.3,261.5 247.7,262.7 248.2,263.3 248.6,264.1 249.1,264.7 249.5,265.6 250,265.8 250.4,266.2 250.9,266.1 251.3,265.7 251.8,264.9 252.2,265.2 252.7,266 253.1,266.3 253.6,266.5 254,266.8 254.5,266.2 254.9,266.4 255.4,266.6 255.8,266.5 256.3,266.2 256.7,266.7 257.2,266.6 257.6,266.5 258.1,266.2 258.5,266.4 259,266.6 259.4,266.5 259.9,266.5 260.3,266.4 260.8,266.7 261.2,266.4 261.7,266.6 262.1,266.5 262.6,266.2 263,266.7 263.5,266.2 263.9,266.3 264.4,266.4 264.8,266.2 265.3,266.1 265.7,266.4 266.2,266.3 266.6,266.4 267.1,266.5 267.5,266.8 268,266.3 268.4,266.8 268.9,266.4 269.3,266.4 269.8,265.9 270.2,266.1 270.7,266.4 271.1,266.5 271.6,266.3 272,266.4 272.5,266.5 272.9,266.3 273.4,266.1 273.8,266.2 274.3,266.3 274.7,266.4 275.2,266.5 275.6,266.2 276.1,266.4 276.5,266.3 277,266.4 277.4,266.6 277.9,266.6 278.3,266.3 278.8,266.3 279.2,266.3 279.7,266.3 280.1,266.3 280.6,266.4 281,266.3 281.5,266.2 281.9,266.2 282.4,266.4 282.8,266.8 283.3,266.5 283.7,266.5 284.2,266.5 284.6,266.4 285.1,266.7 285.5,266.3 286,266.2 286.4,266.2 286.9,266.4 287.3,266.2 287.8,266.2 288.2,266.2 288.7,266.2 289.1,266.4 289.6,266.1 290,266.8 290.5,265.9 290.9,266.2 291.4,266.4 291.8,266.5 292.3,266.3 292.7,266.4 293.2,266.4 293.6,266.4 294.1,266.5 294.5,266.4 295,266.4 295.4,266.4 295.9,266.5 296.3,266.4 296.8,266.5 297.2,266.7 297.7,266.5 298.1,266.6 298.6,266.3 299,266.4 299.5,266.5 299.9,266.4 300.4,266.5 300.8,266.6 301.3,266.3 301.7,266.3 302.2,266.5 302.6,266.2 303.1,266.4 303.5,266.6 304,266.4 304.4,266.5 304.9,266.5 305.3,266.6 305.8,266.5 306.2,266.4 306.7,265.8 307.1,266.3 307.6,266.5 308,266.4 308.5,266.3 308.9,266.6 309.4,266.2 309.8,266.3 310.3,266.5 310.7,266.3 311.2,266.4 311.6,266.4 312.1,266.2 312.5,266.3 313,266.3 313.4,266.3 313.9,266.6 314.3,266.4 314.8,266.3 315.2,266.2 315.7,266.3 316.1,266.6 316.6,266.3 317,266.5 317.5,266.5 317.9,266.3 318.4,266.2 318.8,266.5 319.3,266.1 319.7,266.5 320.2,266.2 320.6,266.5 321.1,266.3 321.5,266.4 322,266.6 322.4,266.2 322.9,266.4 323.3,266.3 323.8,266.5 324.2,266.5" fill="none" stroke="#7e2f8e" stroke-width="1.35" stroke-linejoin="round"/>
<path d="M48.6 195.3V267.2" stroke="#b8b8b8" stroke-width="1" fill="none"/>
<path d="M48.6 195.5h2.6M48.6 231h2.6" stroke="#999" stroke-width="0.8" fill="none"/>
<text transform="translate(44.8 200.6) scale(0.860 1)" font-family="Liberation Serif, serif" font-size="14.6" text-anchor="end" fill="#161616">1</text><text transform="translate(45 235.4) scale(0.860 1)" font-family="Liberation Serif, serif" font-size="14.6" text-anchor="end" fill="#161616">0.5</text><text transform="translate(45 271.5) scale(0.860 1)" font-family="Liberation Serif, serif" font-size="14.6" text-anchor="end" fill="#161616">0</text>
<text font-family="Liberation Serif, serif" font-size="13.8" fill="#161616" transform="translate(24.2 230) rotate(-90)" text-anchor="middle">Rel # of particles</text>
<path d="M255.2 240.8H272.3" stroke="#edb120" stroke-width="1.3"/><path d="M255.2 253.8H272.3" stroke="#7e2f8e" stroke-width="1.3"/>
<text x="273.7" y="245" font-family="Liberation Serif, serif" font-size="11" fill="#161616">left (-1)</text>
<text x="274.2" y="256.9" font-family="Liberation Serif, serif" font-size="10.8" fill="#161616">right (+1)</text>
<text transform="translate(160 291.8) scale(1.060 1)" font-family="Liberation Serif, serif" font-size="14.8" fill="#161616">Gain</text>
<text x="194.3" y="291.8" font-family="Liberation Serif, serif" font-size="15" font-style="italic" fill="#161616">W</text>
<text x="208.6" y="294.2" font-family="Liberation Serif, serif" font-size="10.5" font-style="italic" fill="#161616">t</text>
<polyline points="49,347.1 49.5,328.2 50,327.7 50.5,324.5 51,324 51.5,326 52,326.2 52.5,326.8 53,327.3 53.5,327.5 54,328.5 54.5,326.2 55,328.1 55.5,326.6 56,328.3 56.5,328.9 57,329.6 57.5,328.1 58,329.7 58.5,328.2 59,329.9 59.5,329.5 60,330.8 60.5,327.6 61,329.2 61.5,329.2 62,328.3 62.5,329.7 63,328.7 63.5,330.7 64,329.8 64.5,331.4 65,332.3 65.5,331.4 66,332.1 66.5,330.5 67,330.9 67.5,330.5 68,330.9 68.5,331.3 69,331.1 69.5,330.4 70,331.4 70.5,331.7 71,331.6 71.5,330.5 72,330.3 72.5,327.6 73,329.4 73.5,328.8 74,327.7 74.5,326.7 75,327.5 75.5,328.2 76,328.5 76.5,328.7 77,328.2 77.5,329.9 78,329.2 78.5,329.3 79,328.1 79.5,327.5 80,328.6 80.5,325.5 81,327.6 81.5,328.7 82,329.8 82.5,330.1 83,330.6 83.5,330.8 84,331.7 84.5,331.5 85,333.2 85.5,332.5 86,332.5 86.5,331.2 87,330.6 87.5,331.6 88,330.1 88.5,329 89,328.4 89.5,329.6 90,327.9 90.5,327.6 91,327.9 91.5,325.3 92,326.6 92.5,324.6 93,322.6 93.5,321.7 94,321.7 94.5,320.8 95,321.8 95.5,323.4 96,324.5 96.5,326.3 97,328.1 97.5,326.1 98,329 98.5,326.8 99,328.8 99.5,328.7 100,329.2 100.5,328.4 101,329.4 101.5,327.4 102,328.3 102.5,328.6 103,329.4 103.5,329 104,329.4 104.5,327.7 105,328 105.5,329.5 106,326.9 106.5,329.9 107,327.1 107.5,330 108,328.9 108.5,328.5 109,329.3 109.5,330.3 110,328.8 110.5,331.5 111,331.7 111.5,329.7 112,331.4 112.5,330.5 113,329.9 113.5,330.4 114,330 114.5,330.1 115,330.1 115.5,329.4 116,329.7 116.5,330.3 117,329.9 117.5,331.2 118,331.4 118.5,331.7 119,330.3 119.5,329.6 120,330.8 120.5,332.4 121,331.2 121.5,330.5 122,330.6 122.5,330.6 123,329.6 123.5,329.3 124,330.7 124.5,328.9 125,329.5 125.5,328.4 126,327.3 126.5,326.4 127,326.6 127.5,326.9 128,326.3 128.5,325.3 129,326.1 129.5,325.1 130,324 130.5,322.9 131,322.7 131.5,321.3 132,319.9 132.5,320.6 133,322.5 133.5,321.5 134,321.8 134.5,322.9 135,323.4 135.5,325.4 136,324.2 136.5,326 137,327.8 137.5,327.9 138,328.5 138.5,329.5 139,330.9 139.5,330.7 140,326.3 140.5,327.8 141,325.8 141.5,323.7 142,323.1 142.5,321 143,322.4 143.5,321.6 144,323.7 144.5,321.6 145,321.4 145.5,321.1 146,320.6 146.5,320.7 147,320.8 147.5,321.8 148,324.7 148.5,324.7 149,327.9 149.5,328.3 150,329.3 150.5,328.5 151,328.3 151.5,326.4 152,325.8 152.5,325.4 153,324 153.5,325.4 154,326.8 154.5,327.9 155,330.7 155.5,330 156,331.9 156.5,331 157,331.5 157.5,331.2 158,330.8 158.5,331.3 159,332.1 159.5,330.7 160,330.7 160.5,331.2 161,331 161.5,333.3 162,332 162.5,332.2 163,333.6 163.5,331.8 164,331.7 164.5,332.6 165,331.7 165.5,330.6 166,329.8 166.5,329.4 167,330.4 167.5,330 168,329.1 168.5,328.3 169,328.2 169.5,327.6 170,326.7 170.5,326.6 171,327 171.5,327.8 172,326.9 172.5,325.8 173,325.5 173.5,325.4 174,327.1 174.5,326.5 175,326.5 175.5,326.9 176,324.6 176.5,324.7 177,322.3 177.5,323.7 178,325.6 178.5,326.3 179,327.3 179.5,327.4 180,329 180.5,329.1 181,330.3 181.5,329.8 182,329.7 182.5,330.1 183,330.7 183.5,329.7 184,330.7 184.5,329.2 185,330.5 185.5,330.8 186,328.9 186.5,330.9 187,330.7 187.5,331.9 188,331.8 188.5,331.7 189,332.1 189.5,330.3 190,331.6 190.5,331.6 191,329.2 191.5,329.1 192,331 192.5,329.3 193,327.9 193.5,329.4 194,329.2 194.5,329.5 195,331.3 195.5,330.3 196,328.9 196.5,328.1 197,329 197.5,328.6 198,327.6 198.5,327.4 199,326.5 199.5,326.9 200,325.5 200.5,324.2 201,323.3 201.5,324 202,321.2 202.5,321 203,320.3 203.5,321.6 204,320.5 204.5,322.5 205,324.2 205.5,323.3 206,324.6 206.5,325.6 207,326.3 207.5,327.2 208,326.8 208.5,327.2 209,326.3 209.5,325.1 210,325.6 210.5,324.7 211,323.3 211.5,325 212,324.4 212.5,323.9 213,325.2 213.5,323.1 214,322.4 214.5,324.3 215,323.9 215.5,322.8 216,323 216.5,326.1 217,325.3 217.5,327 218,329.1 218.5,328.5 219,328.7 219.5,327.9 220,327.3 220.5,326.8 221,326 221.5,325.3 222,324 222.5,322.9 223,322.6 223.5,324.2 224,324.9 224.5,325.8 225,325.4 225.5,327.4 226,329.2 226.5,330 227,330.3 227.5,329.7 228,330.7 228.5,329.9 229,328.8 229.5,329.9 230,329 230.5,330.7 231,329 231.5,328.9 232,329.8 232.5,328 233,329.1 233.5,329.7 234,329.4 234.5,328.4 235,330.1 235.5,328.7 236,329.2 236.5,327.9 237,328 237.5,327.1 238,325.8 238.5,325.6 239,324.3 239.5,323.2 240,322.5 240.5,321.8 241,321.2 241.5,320.2 242,319.5 242.5,318.8 243,318.7 243.5,320.7 244,319.5 244.5,319.3 245,318.6 245.5,318.7 246,320.8 246.5,319.6 247,321.4 247.5,321 248,322.1 248.5,322.7 249,321.5 249.5,323.4 250,323.2 250.5,322.4 251,321.1 251.5,323.4 252,321.6 252.5,324.4 253,325.8 253.5,326.3 254,327 254.5,326.1 255,328 255.5,329.4 256,329.2 256.5,329.7 257,328.3 257.5,328 258,328.9 258.5,327.8 259,330.2 259.5,329.5 260,330.1 260.5,330.1 261,331.1 261.5,329.2 262,330.8 262.5,330.2 263,329.2 263.5,328.9 264,329.4 264.5,332.2 265,331 265.5,331.4 266,332 266.5,332.4 267,332.4 267.5,331.6 268,332.3 268.5,332.9 269,332.8 269.5,331.3 270,332.4 270.5,330.2 271,330.8 271.5,330.5 272,329.7 272.5,330 273,329.2 273.5,330.8 274,331.2 274.5,328.1 275,329.3 275.5,331.2 276,327.7 276.5,330.1 277,327.5 277.5,327.6 278,328.3 278.5,328.7 279,329.2 279.5,327.6 280,328.7 280.5,327.7 281,328.9 281.5,330 282,329.3 282.5,328.6 283,329 283.5,328.6 284,329.6 284.5,327.7 285,329.5 285.5,328.7 286,330.3 286.5,328.1 287,327.3 287.5,327.8 288,328.2 288.5,328.6 289,327.3 289.5,327.3 290,328.8 290.5,327.7 291,327.2 291.5,328 292,326.8 292.5,327.4 293,326.1 293.5,328.3 294,326.9 294.5,327.1 295,328.6 295.5,327.8 296,327.8 296.5,326.7 297,327.8 297.5,327.2 298,326.2 298.5,323.9 299,325.9 299.5,324.8 300,327.3 300.5,329.7 301,329.8 301.5,330.3 302,329.4 302.5,330.2 303,329.7 303.5,327.6 304,329 304.5,328.9 305,327.6 305.5,330.1 306,328.2 306.5,328.8 307,328.2 307.5,328.5 308,327.6 308.5,326.4 309,326.1 309.5,326.7 310,326.1 310.5,327.7 311,328.9 311.5,325.6 312,324.4 312.5,325.2 313,325.9 313.5,325.6 314,325.2 314.5,327.6 315,327.1 315.5,326.8 316,328.1 316.5,325.6 317,326.8 317.5,326.5 318,329.1 318.5,328.5 319,327.6 319.5,328.3 320,327.5 320.5,329.8 321,328.3 321.5,329.9 322,328.9 322.5,328.5 323,328.9 323.5,329.9 324,328.7" fill="none" stroke="#e03a3a" stroke-width="1.4" stroke-linejoin="round"/>
<polyline points="49,347.1 49.5,335.1 50,322.6 50.5,316 51,319 51.5,329.3 52,333.3 52.5,332.9 53,329 53.5,325.5 54,329 54.5,332.1 55,334.3 55.5,334 56,333.6 56.5,335.1 57,336.1 57.5,334.4 58,334 58.5,334.4 59,338.1 59.5,336.9 60,337.6 60.5,337.3 61,334.2 61.5,334.1 62,333.7 62.5,333 63,336 63.5,338.7 64,337.6 64.5,340.9 65,341.8 65.5,341.1 66,340.6 66.5,339.1 67,340.5 67.5,342.4 68,341 68.5,340.1 69,340.8 69.5,341.1 70,342.9 70.5,342.4 71,340.2 71.5,338.1 72,337.8 72.5,336.2 73,335 73.5,331.2 74,332.2 74.5,330.6 75,330.3 75.5,332 76,332.5 76.5,332.8 77,336 77.5,335.3 78,337.6 78.5,334.5 79,330.2 79.5,328.9 80,330.3 80.5,329.6 81,331 81.5,332.5 82,338.2 82.5,338.8 83,340 83.5,342.7 84,343.8 84.5,341.4 85,345.4 85.5,343.6 86,343.3 86.5,342.4 87,341.7 87.5,338.1 88,337.8 88.5,334.5 89,337.3 89.5,334.4 90,335.1 90.5,332.2 91,330 91.5,331.9 92,328.3 92.5,325.7 93,320.4 93.5,312.8 94,312 94.5,315.5 95,320.3 95.5,323.3 96,326.5 96.5,331.1 97,331.2 97.5,334 98,334.2 98.5,335.4 99,331.4 99.5,333.4 100,336.3 100.5,336.5 101,337 101.5,333 102,333 102.5,331.9 103,336.9 103.5,337.4 104,337.1 104.5,337.2 105,335.4 105.5,333.4 106,333.4 106.5,332.1 107,332.4 107.5,335.8 108,334.3 108.5,333.8 109,335.9 109.5,335.2 110,336.5 110.5,337.8 111,340.3 111.5,339.2 112,341.3 112.5,340.1 113,337.5 113.5,338.2 114,339.3 114.5,339.1 115,338.2 115.5,339.8 116,340.3 116.5,339.2 117,340.8 117.5,337.2 118,340.9 118.5,339.4 119,342.4 119.5,340.7 120,338.3 120.5,339.1 121,339.5 121.5,341.3 122,339.9 122.5,339.9 123,340.8 123.5,336.6 124,337.9 124.5,336.3 125,333.9 125.5,333.2 126,330 126.5,332.8 127,330.4 127.5,329.4 128,326 128.5,322.6 129,326 129.5,328.7 130,325.1 130.5,321.2 131,315.7 131.5,315.8 132,313.7 132.5,312.3 133,314.1 133.5,316.7 134,317.8 134.5,321 135,315.5 135.5,325.2 136,328.5 136.5,329.5 137,330.9 137.5,332.7 138,335.4 138.5,336.3 139,335.6 139.5,335.7 140,334.1 140.5,331.7 141,326 141.5,323.2 142,318.2 142.5,315.4 143,314.6 143.5,316.4 144,320.2 144.5,322 145,317 145.5,313.9 146,313.5 146.5,313.2 147,314.6 147.5,318.1 148,323.1 148.5,327.2 149,329.6 149.5,335.9 150,338.9 150.5,339.4 151,335.5 151.5,326.8 152,325 152.5,319.3 153,321 153.5,323.6 154,330.7 154.5,336.6 155,337.9 155.5,338.5 156,343.5 156.5,341 157,340.5 157.5,342.5 158,341.3 158.5,339.7 159,343.3 159.5,341.2 160,343.5 160.5,342.1 161,342.2 161.5,342.6 162,344.4 162.5,343.4 163,344.3 163.5,342.6 164,342.9 164.5,342.7 165,339.5 165.5,341.2 166,339.3 166.5,336.3 167,336.2 167.5,334.6 168,336 168.5,333.6 169,333.5 169.5,333 170,328.6 170.5,331.6 171,331.2 171.5,332.8 172,328.6 172.5,326.2 173,326.8 173.5,329.3 174,333.9 174.5,331.3 175,327.4 175.5,324.5 176,320 176.5,318.9 177,319.3 177.5,322.5 178,326.4 178.5,328.6 179,331.6 179.5,333.8 180,337.7 180.5,340.5 181,340.3 181.5,340.5 182,341.7 182.5,340.5 183,340.5 183.5,340.4 184,340.3 184.5,338.3 185,337.7 185.5,336.5 186,338.8 186.5,339.4 187,342.7 187.5,340.6 188,339.6 188.5,342.6 189,341.3 189.5,342.4 190,340.1 190.5,338.8 191,340.2 191.5,338 192,336.3 192.5,334.9 193,332.5 193.5,333.7 194,334.7 194.5,336.1 195,338.7 195.5,336 196,336.2 196.5,335.2 197,335 197.5,336.1 198,332.6 198.5,332.6 199,331.4 199.5,325.1 200,325.3 200.5,324.9 201,321 201.5,318.1 202,316.6 202.5,314.8 203,310.9 203.5,311.2 204,311.2 204.5,315.9 205,317.4 205.5,319.4 206,326.2 206.5,327.4 207,329.9 207.5,331.5 208,332.9 208.5,332.1 209,333.4 209.5,328.4 210,329.1 210.5,325 211,323.8 211.5,322.7 212,322.3 212.5,321.5 213,322.9 213.5,321.5 214,321.2 214.5,320 215,319.8 215.5,319 216,321.7 216.5,324.9 217,327.6 217.5,330.4 218,332 218.5,336.8 219,333.8 219.5,332.4 220,329.1 220.5,328.9 221,326.2 221.5,325.3 222,323.3 222.5,321.5 223,318.6 223.5,318.5 224,322.2 224.5,326.2 225,333.1 225.5,331.2 226,333.3 226.5,337.1 227,338.6 227.5,336.6 228,336.4 228.5,337.7 229,338.3 229.5,335.7 230,336 230.5,335.3 231,333.7 231.5,335.6 232,334.9 232.5,332.7 233,334.5 233.5,332.8 234,339.5 234.5,338 235,334.7 235.5,334.2 236,335.6 236.5,334.5 237,333 237.5,329.7 238,330.7 238.5,327.1 239,325.9 239.5,326.2 240,319 240.5,314 241,314.9 241.5,312.9 242,313.1 242.5,313 243,314.6 243.5,312.5 244,314.3 244.5,312.1 245,310.6 245.5,310.8 246,312.3 246.5,311.9 247,313.7 247.5,312.2 248,315.9 248.5,314.5 249,320.5 249.5,322.7 250,317.8 250.5,318.6 251,314.9 251.5,317.2 252,316.4 252.5,322.1 253,327.9 253.5,330.2 254,331.8 254.5,334.4 255,332.7 255.5,335.9 256,339.4 256.5,336.4 257,335.2 257.5,333.8 258,333 258.5,335.9 259,334.5 259.5,336.6 260,336.5 260.5,338 261,336.5 261.5,336.8 262,336.1 262.5,339 263,338.8 263.5,338.4 264,339.5 264.5,339.9 265,338.8 265.5,337.9 266,341.4 266.5,341.1 267,345.4 267.5,340.9 268,340.4 268.5,342.7 269,342.9 269.5,340.8 270,342.9 270.5,339.8 271,341.3 271.5,336.1 272,337.2 272.5,337.7 273,339.9 273.5,335.9 274,338.1 274.5,338.2 275,335 275.5,337.1 276,333.3 276.5,333.6 277,336.1 277.5,334.8 278,333.7 278.5,335.7 279,334.6 279.5,331.7 280,332.5 280.5,335.2 281,338.8 281.5,337.3 282,333.3 282.5,335 283,335 283.5,333.6 284,337.1 284.5,332.9 285,338.8 285.5,336.1 286,334.9 286.5,334.1 287,335.6 287.5,333.9 288,331.4 288.5,331.8 289,331.2 289.5,332 290,332.2 290.5,333.8 291,333.4 291.5,331.6 292,331.9 292.5,328.4 293,329.8 293.5,329.7 294,333.6 294.5,332.8 295,329.6 295.5,329.5 296,329.1 296.5,329.7 297,333.7 297.5,335.5 298,332.2 298.5,323 299,320.1 299.5,327.1 300,330.4 300.5,337.1 301,336.1 301.5,335.4 302,335.4 302.5,332.5 303,334.2 303.5,337.3 304,337.7 304.5,336.8 305,334.4 305.5,335.7 306,334.8 306.5,334.5 307,333.3 307.5,331.4 308,332.7 308.5,331.1 309,328 309.5,331 310,329 310.5,329.3 311,329.9 311.5,328.4 312,325.1 312.5,326.1 313,324.4 313.5,324.3 314,329.1 314.5,330.6 315,332.3 315.5,331.4 316,331.6 316.5,328.3 317,331.3 317.5,332.8 318,335.2 318.5,335.5 319,334.6 319.5,334.8 320,332.2 320.5,333.2 321,333.1 321.5,333.4 322,334.2 322.5,334.4 323,336.1 323.5,337.8 324,336.1" fill="none" stroke="#3452d8" stroke-width="1.5" stroke-linejoin="round"/>
<path d="M48.8 300.3V347.1H324.3" stroke="#b8b8b8" stroke-width="1" fill="none"/>
<path d="M48.8 331.5h2.6M48.8 315.9h2.6M48.8 300.3h2.6M103.7 347.1v-2.6M158.8 347.1v-2.6M214 347.1v-2.6M269.1 347.1v-2.6M324.3 347.1v-2.6" stroke="#999" stroke-width="0.8" fill="none"/>
<text transform="translate(45 352.3) scale(0.860 1)" font-family="Liberation Serif, serif" font-size="14.6" text-anchor="end" fill="#161616">0</text>
<text transform="translate(45 336.9) scale(0.860 1)" font-family="Liberation Serif, serif" font-size="14.6" text-anchor="end" fill="#161616">1</text>
<text transform="translate(45 321.6) scale(0.860 1)" font-family="Liberation Serif, serif" font-size="14.6" text-anchor="end" fill="#161616">2</text>
<text transform="translate(45 306.2) scale(0.860 1)" font-family="Liberation Serif, serif" font-size="14.6" text-anchor="end" fill="#161616">3</text>
<text transform="translate(48.5 364) scale(0.860 1)" font-family="Liberation Serif, serif" font-size="14.6" text-anchor="middle" fill="#161616">0</text>
<text transform="translate(103.7 364) scale(0.860 1)" font-family="Liberation Serif, serif" font-size="14.6" text-anchor="middle" fill="#161616">5</text>
<text transform="translate(158.8 364) scale(0.860 1)" font-family="Liberation Serif, serif" font-size="14.6" text-anchor="middle" fill="#161616">10</text>
<text transform="translate(214 364) scale(0.860 1)" font-family="Liberation Serif, serif" font-size="14.6" text-anchor="middle" fill="#161616">15</text>
<text transform="translate(269.1 364) scale(0.860 1)" font-family="Liberation Serif, serif" font-size="14.6" text-anchor="middle" fill="#161616">20</text>
<text transform="translate(324.3 364) scale(0.860 1)" font-family="Liberation Serif, serif" font-size="14.6" text-anchor="middle" fill="#161616">25</text>
<text font-family="Liberation Serif, serif" font-size="14.8" fill="#161616" x="186.3" y="380.6" text-anchor="middle">Time</text>
<path d="M276.3 297.3H293.7" stroke="#e03a3a" stroke-width="1.3"/><path d="M276.3 312.7H293.7" stroke="#3452d8" stroke-width="1.3"/>
<text x="294.6" y="301.1" font-family="Liberation Serif, serif" font-size="13.2" font-style="italic" fill="#161616">W</text>
<text x="305.6" y="303.8" font-family="Liberation Serif, serif" font-size="8.6" font-style="italic" fill="#161616">t</text>
<text x="308" y="297.1" font-family="Liberation Serif, serif" font-size="9.2" fill="#161616">(<tspan font-style="italic">v</tspan>)</text>
<text x="294.6" y="316.6" font-family="Liberation Serif, serif" font-size="13.2" font-style="italic" fill="#161616">W</text>
<text x="305.6" y="319.3" font-family="Liberation Serif, serif" font-size="8.6" font-style="italic" fill="#161616">t</text>
<text x="308" y="312.6" font-family="Liberation Serif, serif" font-size="9.2" fill="#161616">(<tspan font-style="italic">a</tspan>)</text>
<path d="M561.2 36.2V150.3" stroke="#aaa" stroke-width="0.9" stroke-dasharray="4 2 1 2" fill="none"/>
<polyline points="406.7,38.9 408.9,39.4 411,39.9 413.2,40.5 415.4,41 417.5,41.5 419.7,42.1 421.8,42.6 424,43.1 426.2,43.7 428.3,44.2 430.5,44.8 432.7,45.3 434.8,45.9 437,46.4 439.2,46.9 441.3,47.5 443.5,48 445.6,48.6 447.8,49.1 450,49.7 452.1,50.3 454.3,50.8 456.5,51.4 458.6,51.9 460.8,52.5 463,53 465.1,53.6 467.3,54.2 469.5,54.7 471.6,55.3 473.8,55.9 475.9,56.4 478.1,57 480.3,57.6 482.4,58.2 484.6,58.7 486.8,59.3 488.9,59.9 491.1,60.5 493.3,61.1 495.4,61.6 497.6,62.2 499.7,62.8 501.9,63.4 504.1,64 506.2,64.6 508.4,65.1 510.6,65.7 512.7,66.3 514.9,66.9 517.1,67.5 519.2,68 521.4,68.6 523.5,69.1 525.7,69.7 527.9,70.3 530,70.8 532.2,71.4 534.4,71.9 536.5,72.5 538.7,73.1 540.9,73.7 543,74.3 545.2,74.9 547.4,75.5 549.5,76.1 551.7,76.7 553.8,77.4 556,78 558.2,78.7 560.3,79.4 562.5,80.1 564.7,80.9 566.8,81.6 569,82.4 571.2,83.2 573.3,84 575.5,84.9 577.6,85.7 579.8,86.6 582,87.5 584.1,88.4 586.3,89.3 588.5,90.2 590.6,91.1 592.8,92.1 595,93 597.1,93.9 599.3,94.9 601.4,95.8 603.6,96.7 605.8,97.6 607.9,98.5 610.1,99.4 612.3,100.3 614.4,101.2 616.6,102.1 618.8,103 620.9,103.9 623.1,104.8 625.3,105.6 627.4,106.5 629.6,107.4 631.7,108.3 633.9,109.2 636.1,110.1 638.2,111 640.4,111.9 642.6,112.8 644.7,113.6 646.9,114.5 649.1,115.4 651.2,116.3 653.4,117.2 655.5,118.1 657.7,119 659.9,119.9 662,120.8 664.2,121.7" fill="none" stroke="#d9531e" stroke-width="1.2"/>
<polyline points="406.7,53.1 408.9,53.6 411,54 413.2,54.5 415.4,55 417.5,55.4 419.7,55.9 421.8,56.4 424,56.8 426.2,57.3 428.3,57.8 430.5,58.3 432.7,58.8 434.8,59.2 437,59.7 439.2,60.2 441.3,60.7 443.5,61.2 445.6,61.7 447.8,62.2 450,62.7 452.1,63.2 454.3,63.7 456.5,64.2 458.6,64.7 460.8,65.2 463,65.7 465.1,66.2 467.3,66.8 469.5,67.3 471.6,67.8 473.8,68.3 475.9,68.8 478.1,69.3 480.3,69.9 482.4,70.4 484.6,70.9 486.8,71.5 488.9,72 491.1,72.5 493.3,73.1 495.4,73.6 497.6,74.2 499.7,74.7 501.9,75.3 504.1,75.8 506.2,76.4 508.4,77 510.6,77.5 512.7,78.1 514.9,78.7 517.1,79.2 519.2,79.8 521.4,80.4 523.5,80.9 525.7,81.5 527.9,82.1 530,82.7 532.2,83.3 534.4,83.9 536.5,84.5 538.7,85.1 540.9,85.7 543,86.3 545.2,86.9 547.4,87.6 549.5,88.2 551.7,88.9 553.8,89.6 556,90.3 558.2,91 560.3,91.7 562.5,92.4 564.7,93.2 566.8,94 569,94.8 571.2,95.7 573.3,96.6 575.5,97.4 577.6,98.4 579.8,99.3 582,100.2 584.1,101.2 586.3,102.1 588.5,103.1 590.6,104 592.8,105 595,106 597.1,107 599.3,107.9 601.4,108.9 603.6,109.8 605.8,110.8 607.9,111.7 610.1,112.6 612.3,113.5 614.4,114.4 616.6,115.3 618.8,116.2 620.9,117 623.1,117.9 625.3,118.8 627.4,119.7 629.6,120.5 631.7,121.4 633.9,122.3 636.1,123.1 638.2,124 640.4,124.9 642.6,125.7 644.7,126.6 646.9,127.4 649.1,128.3 651.2,129.1 653.4,130 655.5,130.8 657.7,131.7 659.9,132.5 662,133.4 664.2,134.2" fill="none" stroke="#edb120" stroke-width="1.2"/>
<polyline points="406.7,65 408.9,65.5 411,66 413.2,66.5 415.4,66.9 417.5,67.4 419.7,67.9 421.8,68.4 424,68.9 426.2,69.4 428.3,69.9 430.5,70.4 432.7,70.9 434.8,71.4 437,71.9 439.2,72.4 441.3,72.9 443.5,73.4 445.6,73.9 447.8,74.4 450,74.9 452.1,75.4 454.3,75.9 456.5,76.4 458.6,76.9 460.8,77.4 463,77.9 465.1,78.4 467.3,78.9 469.5,79.4 471.6,79.8 473.8,80.3 475.9,80.8 478.1,81.3 480.3,81.8 482.4,82.2 484.6,82.7 486.8,83.2 488.9,83.7 491.1,84.2 493.3,84.8 495.4,85.3 497.6,85.8 499.7,86.4 501.9,86.9 504.1,87.5 506.2,88.1 508.4,88.7 510.6,89.3 512.7,90 514.9,90.7 517.1,91.4 519.2,92.1 521.4,92.8 523.5,93.6 525.7,94.4 527.9,95.1 530,95.9 532.2,96.8 534.4,97.6 536.5,98.4 538.7,99.2 540.9,100.1 543,100.9 545.2,101.8 547.4,102.6 549.5,103.5 551.7,104.3 553.8,105.2 556,106 558.2,106.8 560.3,107.7 562.5,108.5 564.7,109.3 566.8,110.1 569,110.9 571.2,111.7 573.3,112.5 575.5,113.3 577.6,114.1 579.8,114.9 582,115.7 584.1,116.5 586.3,117.3 588.5,118.1 590.6,118.9 592.8,119.7 595,120.5 597.1,121.4 599.3,122.2 601.4,123.1 603.6,123.9 605.8,124.8 607.9,125.7 610.1,126.6 612.3,127.5 614.4,128.5 616.6,129.4 618.8,130.3 620.9,131.3 623.1,132.3 625.3,133.3 627.4,134.2 629.6,135.2 631.7,136.3 633.9,137.3 636.1,138.3 638.2,139.4 640.4,140.4 642.6,141.5 644.7,142.5 646.9,143.6 649.1,144.7 651.2,145.8 653.4,146.9 655.5,148 657.7,149.2 659.9,150.3" fill="none" stroke="#7e2f8e" stroke-width="1.2"/>
<polyline points="406.7,114.7 408.9,114.3 411,113.9 413.2,113.5 415.4,113 417.5,112.6 419.7,112.2 421.8,111.8 424,111.3 426.2,110.9 428.3,110.5 430.5,110.1 432.7,109.6 434.8,109.2 437,108.8 439.2,108.3 441.3,107.9 443.5,107.5 445.6,107 447.8,106.6 450,106.1 452.1,105.7 454.3,105.2 456.5,104.8 458.6,104.3 460.8,103.9 463,103.4 465.1,103 467.3,102.5 469.5,102.1 471.6,101.6 473.8,101.2 475.9,100.7 478.1,100.3 480.3,99.8 482.4,99.4 484.6,98.9 486.8,98.4 488.9,98 491.1,97.5 493.3,97 495.4,96.5 497.6,96 499.7,95.6 501.9,95.1 504.1,94.6 506.2,94.1 508.4,93.6 510.6,93 512.7,92.5 514.9,91.9 517.1,91.2 519.2,90.6 521.4,89.9 523.5,89.2 525.7,88.5 527.9,87.7 530,87 532.2,86.3 534.4,85.5 536.5,84.8 538.7,84.2 540.9,83.5 543,82.9 545.2,82.3 547.4,81.8 549.5,81.3 551.7,80.8 553.8,80.4 556,80.1 558.2,79.9 560.3,79.7 562.5,79.6 564.7,79.6 566.8,79.5 569,79.4 571.2,79.4 573.3,79.3 575.5,79.2 577.6,79.2 579.8,79.1 582,79.1 584.1,79 586.3,79 588.5,79 590.6,78.9 592.8,78.9 595,78.8 597.1,78.8 599.3,78.8 601.4,78.7 603.6,78.7 605.8,78.7 607.9,78.7 610.1,78.6 612.3,78.6 614.4,78.6 616.6,78.5 618.8,78.5 620.9,78.5 623.1,78.5 625.3,78.4 627.4,78.4 629.6,78.4 631.7,78.4 633.9,78.3 636.1,78.3 638.2,78.3 640.4,78.3 642.6,78.2 644.7,78.2 646.9,78.2 649.1,78.2 651.2,78.2 653.4,78.2 655.5,78.1 657.7,78.1 659.9,78.1 662,78.1 664.2,78.1" fill="none" stroke="#d9531e" stroke-width="1.3" stroke-dasharray="4.4 4.6"/>
<polyline points="406.7,127 408.9,126.6 411,126.1 413.2,125.6 415.4,125.2 417.5,124.7 419.7,124.3 421.8,123.8 424,123.3 426.2,122.8 428.3,122.4 430.5,121.9 432.7,121.4 434.8,120.9 437,120.4 439.2,120 441.3,119.5 443.5,119 445.6,118.5 447.8,118 450,117.5 452.1,117 454.3,116.5 456.5,116 458.6,115.5 460.8,115 463,114.5 465.1,114 467.3,113.5 469.5,112.9 471.6,112.4 473.8,111.9 475.9,111.3 478.1,110.8 480.3,110.2 482.4,109.7 484.6,109.2 486.8,108.6 488.9,108.1 491.1,107.5 493.3,107 495.4,106.5 497.6,105.9 499.7,105.4 501.9,104.9 504.1,104.4 506.2,103.9 508.4,103.4 510.6,102.9 512.7,102.4 514.9,101.8 517.1,101.3 519.2,100.7 521.4,100.2 523.5,99.6 525.7,99.1 527.9,98.5 530,98 532.2,97.4 534.4,96.9 536.5,96.4 538.7,95.8 540.9,95.3 543,94.9 545.2,94.4 547.4,94 549.5,93.6 551.7,93.2 553.8,92.9 556,92.6 558.2,92.3 560.3,92.1 562.5,91.9 564.7,91.7 566.8,91.5 569,91.3 571.2,91.2 573.3,91 575.5,90.8 577.6,90.7 579.8,90.5 582,90.4 584.1,90.2 586.3,90.1 588.5,90 590.6,89.8 592.8,89.7 595,89.6 597.1,89.5 599.3,89.5 601.4,89.4 603.6,89.3 605.8,89.3 607.9,89.2 610.1,89.2 612.3,89.2 614.4,89.2 616.6,89.2 618.8,89.2 620.9,89.2 623.1,89.2 625.3,89.1 627.4,89.1 629.6,89.1 631.7,89.1 633.9,89.1 636.1,89.1 638.2,89.1 640.4,89.1 642.6,89.1 644.7,89.1 646.9,89.1 649.1,89.1 651.2,89.1 653.4,89.1 655.5,89.1 657.7,89.1 659.9,89.1 662,89.1 664.2,89.1" fill="none" stroke="#edb120" stroke-width="1.3" stroke-dasharray="4.4 4.6"/>
<polyline points="406.7,138.4 408.9,137.8 411,137.2 413.2,136.6 415.4,135.9 417.5,135.3 419.7,134.7 421.8,134.1 424,133.5 426.2,132.9 428.3,132.3 430.5,131.7 432.7,131.1 434.8,130.5 437,130 439.2,129.4 441.3,128.8 443.5,128.2 445.6,127.7 447.8,127.1 450,126.6 452.1,126 454.3,125.5 456.5,124.9 458.6,124.4 460.8,123.9 463,123.3 465.1,122.8 467.3,122.2 469.5,121.7 471.6,121.1 473.8,120.5 475.9,120 478.1,119.4 480.3,118.9 482.4,118.3 484.6,117.8 486.8,117.3 488.9,116.8 491.1,116.3 493.3,115.8 495.4,115.4 497.6,114.9 499.7,114.5 501.9,114.1 504.1,113.7 506.2,113.4 508.4,113.1 510.6,112.8 512.7,112.5 514.9,112.2 517.1,111.9 519.2,111.6 521.4,111.3 523.5,111 525.7,110.7 527.9,110.5 530,110.2 532.2,110 534.4,109.7 536.5,109.5 538.7,109.3 540.9,109.1 543,108.9 545.2,108.7 547.4,108.5 549.5,108.4 551.7,108.3 553.8,108.2 556,108.1 558.2,108 560.3,108 562.5,108 564.7,108 566.8,108 569,108 571.2,108 573.3,108 575.5,108 577.6,108 579.8,107.9 582,107.9 584.1,107.9 586.3,107.9 588.5,107.9 590.6,107.9 592.8,107.9 595,107.9 597.1,107.9 599.3,107.9 601.4,107.9 603.6,107.9 605.8,107.9 607.9,107.9 610.1,107.9 612.3,107.9 614.4,107.9 616.6,107.9 618.8,107.9 620.9,107.9 623.1,107.9 625.3,107.9 627.4,107.9 629.6,107.8 631.7,107.8 633.9,107.8 636.1,107.8 638.2,107.8 640.4,107.8 642.6,107.8 644.7,107.8 646.9,107.8 649.1,107.8 651.2,107.8 653.4,107.7 655.5,107.7 657.7,107.7 659.9,107.7 662,107.7 664.2,107.7" fill="none" stroke="#7e2f8e" stroke-width="1.3" stroke-dasharray="4.4 4.6"/>
<path d="M406.7 36.2V150.3H664.3" stroke="#b8b8b8" stroke-width="1" fill="none"/>
<path d="M406.7 36.2h2.6M406.7 81.8h2.6M406.7 127.5h2.6M458.2 150.3v-2.6M561.2 150.3v-2.6M664.2 150.3v-2.6" stroke="#999" stroke-width="0.8" fill="none"/>
<text transform="translate(403.2 43.6) scale(0.860 1)" font-family="Liberation Serif, serif" font-size="14.6" fill="#161616" text-anchor="end">10<tspan font-size="10.6" dy="-6.3">2</tspan></text>
<text transform="translate(403.2 89.4) scale(0.860 1)" font-family="Liberation Serif, serif" font-size="14.6" fill="#161616" text-anchor="end">10<tspan font-size="10.6" dy="-6.3">0</tspan></text>
<text transform="translate(403.2 135) scale(0.860 1)" font-family="Liberation Serif, serif" font-size="14.6" fill="#161616" text-anchor="end">10<tspan font-size="10.6" dy="-6.3">-2</tspan></text>
<text transform="translate(458.4 170.9) scale(0.860 1)" font-family="Liberation Serif, serif" font-size="14.6" fill="#161616" text-anchor="middle">10<tspan font-size="10.6" dy="-6.3">-2</tspan></text>
<text transform="translate(561.4 170.9) scale(0.860 1)" font-family="Liberation Serif, serif" font-size="14.6" fill="#161616" text-anchor="middle">10<tspan font-size="10.6" dy="-6.3">0</tspan></text>
<text transform="translate(664.4 170.9) scale(0.860 1)" font-family="Liberation Serif, serif" font-size="14.6" fill="#161616" text-anchor="middle">10<tspan font-size="10.6" dy="-6.3">2</tspan></text>
<path d="M362.6 102.7L369.7 106.4L376.8 102.7M362.6 83.3L369.7 79.6L376.8 83.3" stroke="#161616" stroke-width="0.75" fill="none"/>
<text transform="translate(374.2 101.9) rotate(-90)" font-family="Liberation Serif, serif" font-size="15.4" font-style="italic" fill="#161616">W</text>
<text transform="translate(375.7 88.7) rotate(-90)" font-family="Liberation Serif, serif" font-size="10" font-style="italic" fill="#161616">t</text>
<text x="516.7" y="186.7" font-family="Liberation Serif, serif" font-size="15.2" font-style="italic" fill="#161616">σ</text><text x="525.8" y="181.5" font-family="Liberation Serif, serif" font-size="10.2" fill="#161616">2</text><text x="525.7" y="189" font-family="Liberation Serif, serif" font-size="10.2" font-style="italic" fill="#161616">v</text><path d="M537.2 176.3L532.2 190.3" stroke="#161616" stroke-width="0.9" fill="none"/><text x="538.3" y="186.7" font-family="Liberation Serif, serif" font-size="15.2" font-style="italic" fill="#161616">σ</text><text x="547.3" y="181.5" font-family="Liberation Serif, serif" font-size="10.2" fill="#161616">2</text><text x="547.2" y="189" font-family="Liberation Serif, serif" font-size="10.2" font-style="italic" fill="#161616">a</text>
<path d="M602.9 48.9H619.3" stroke="#d9531e" stroke-width="1.3"/>
<path d="M602.9 60.6H619.3" stroke="#edb120" stroke-width="1.3"/>
<path d="M602.9 72.4H619.3" stroke="#7e2f8e" stroke-width="1.3"/>
<text x="621" y="51.7" font-family="Liberation Serif, serif" font-size="11.4" font-style="italic" fill="#161616">σ</text>
<text x="627.2" y="47.2" font-family="Liberation Serif, serif" font-size="7" fill="#161616">2</text>
<text x="627" y="53.3" font-family="Liberation Serif, serif" font-size="7" fill="#161616">a</text>
<path d="M633.9 48.5H641M633.9 50.5H641" stroke="#161616" stroke-width="0.8" fill="none"/>
<text x="643.4" y="52" font-family="Liberation Serif, serif" font-size="9.8" fill="#161616">0.1</text>
<text x="621" y="63.5" font-family="Liberation Serif, serif" font-size="11.4" font-style="italic" fill="#161616">σ</text>
<text x="627.2" y="59" font-family="Liberation Serif, serif" font-size="7" fill="#161616">2</text>
<text x="627" y="65" font-family="Liberation Serif, serif" font-size="7" fill="#161616">a</text>
<path d="M633.9 60.5H641M633.9 62.5H641" stroke="#161616" stroke-width="0.8" fill="none"/>
<text x="643.4" y="63.8" font-family="Liberation Serif, serif" font-size="9.8" fill="#161616">1</text>
<text x="621" y="75.2" font-family="Liberation Serif, serif" font-size="11.4" font-style="italic" fill="#161616">σ</text>
<text x="627.2" y="70.7" font-family="Liberation Serif, serif" font-size="7" fill="#161616">2</text>
<text x="627" y="76.8" font-family="Liberation Serif, serif" font-size="7" fill="#161616">a</text>
<path d="M633.9 71.5H641M633.9 73.5H641" stroke="#161616" stroke-width="0.8" fill="none"/>
<text x="643.4" y="75.5" font-family="Liberation Serif, serif" font-size="9.8" fill="#161616">10</text>
<polyline points="405.8,343.1 431.7,341.8 457.6,340.1 483.4,337.1 509.3,332.8 535.2,327.9 561,323.3 586.9,320.3 612.8,317.6 638.7,316.8 664.5,316.4" fill="none" stroke="#d9531e" stroke-width="1.3" stroke-dasharray="0.8 0.9" opacity="0.9"/>
<polyline points="405.5,341.6 431.4,340.3 457.2,338.6 483.1,335.6 509,331.3 534.9,326.4 560.8,321.8 586.6,318.8 612.5,316.1 638.4,315.3 664.2,314.9" fill="none" stroke="#d9531e" stroke-width="1.3"/>
<polyline points="405.8,340.1 431.7,337.1 457.6,333.6 483.4,328.2 509.3,317.9 535.2,305.1 561,292.4 586.9,282.3 612.8,277.5 638.7,275.8 664.5,275.2" fill="none" stroke="#edb120" stroke-width="1.3" stroke-dasharray="0.8 0.9" opacity="0.9"/>
<polyline points="405.5,338.6 431.4,335.6 457.2,332.1 483.1,326.7 509,316.4 534.9,303.6 560.8,290.9 586.6,280.8 612.5,276 638.4,274.3 664.2,273.7" fill="none" stroke="#edb120" stroke-width="1.3"/>
<polyline points="405.8,333 431.7,327.2 457.6,318.6 483.4,303 509.3,278.9 535.2,257.3 561,243.1 586.9,237.7 612.8,235.6 638.7,235.1 664.5,234.9" fill="none" stroke="#7e2f8e" stroke-width="1.3" stroke-dasharray="0.8 0.9" opacity="0.9"/>
<polyline points="405.5,331.5 431.4,325.7 457.2,317.1 483.1,301.5 509,277.4 534.9,255.8 560.8,241.6 586.6,236.2 612.5,234.1 638.4,233.6 664.2,233.4" fill="none" stroke="#7e2f8e" stroke-width="1.3"/>
<path d="M405.5 228.5V342.7H663.8" stroke="#b8b8b8" stroke-width="1" fill="none"/>
<path d="M405.5 314.3h2.6M405.5 285.9h2.6M405.5 257.5h2.6M405.5 229.1h2.6M457.2 342.7v-2.6M560.8 342.7v-2.6M664.2 342.7v-2.6" stroke="#999" stroke-width="0.8" fill="none"/>
<text transform="translate(400.5 347.3) scale(0.860 1)" font-family="Liberation Serif, serif" font-size="14.6" text-anchor="end" fill="#161616">0</text>
<text transform="translate(400.5 318.9) scale(0.860 1)" font-family="Liberation Serif, serif" font-size="14.6" text-anchor="end" fill="#161616">0.2</text>
<text transform="translate(400.5 290.5) scale(0.860 1)" font-family="Liberation Serif, serif" font-size="14.6" text-anchor="end" fill="#161616">0.4</text>
<text transform="translate(400.5 262.1) scale(0.860 1)" font-family="Liberation Serif, serif" font-size="14.6" text-anchor="end" fill="#161616">0.6</text>
<text transform="translate(400.5 233.7) scale(0.860 1)" font-family="Liberation Serif, serif" font-size="14.6" text-anchor="end" fill="#161616">0.8</text>
<text transform="translate(457.4 363.2) scale(0.860 1)" font-family="Liberation Serif, serif" font-size="14.6" fill="#161616" text-anchor="middle">10<tspan font-size="10.6" dy="-6.3">-2</tspan></text>
<text transform="translate(561 363.2) scale(0.860 1)" font-family="Liberation Serif, serif" font-size="14.6" fill="#161616" text-anchor="middle">10<tspan font-size="10.6" dy="-6.3">0</tspan></text>
<text transform="translate(664.5 363.2) scale(0.860 1)" font-family="Liberation Serif, serif" font-size="14.6" fill="#161616" text-anchor="middle">10<tspan font-size="10.6" dy="-6.3">2</tspan></text>
<text font-family="Liberation Serif, serif" font-size="15.2" fill="#161616" transform="translate(377.6 286.3) rotate(-90)" text-anchor="middle">MSE</text>
<text x="515.7" y="379.4" font-family="Liberation Serif, serif" font-size="15.2" font-style="italic" fill="#161616">σ</text><text x="524.8" y="374.2" font-family="Liberation Serif, serif" font-size="10.2" fill="#161616">2</text><text x="524.7" y="381.7" font-family="Liberation Serif, serif" font-size="10.2" font-style="italic" fill="#161616">v</text><path d="M536.2 369L531.2 383" stroke="#161616" stroke-width="0.9" fill="none"/><text x="537.3" y="379.4" font-family="Liberation Serif, serif" font-size="15.2" font-style="italic" fill="#161616">σ</text><text x="546.3" y="374.2" font-family="Liberation Serif, serif" font-size="10.2" fill="#161616">2</text><text x="546.2" y="381.7" font-family="Liberation Serif, serif" font-size="10.2" font-style="italic" fill="#161616">a</text>
<path d="M412.9 243.9H428.6" stroke="#d9531e" stroke-width="1.3"/>
<path d="M412.9 259.9H428.6" stroke="#edb120" stroke-width="1.3"/>
<path d="M412.9 276H428.6" stroke="#7e2f8e" stroke-width="1.3"/>
<text x="430.4" y="247.4" font-family="Liberation Serif, serif" font-size="14.2" font-style="italic" fill="#161616">σ</text>
<text x="439" y="242.5" font-family="Liberation Serif, serif" font-size="9.6" fill="#161616">2</text>
<text x="438.8" y="250.3" font-family="Liberation Serif, serif" font-size="9.6" font-style="italic" fill="#161616">a</text>
<path d="M449 242.5H458.2M449 245.5H458.2" stroke="#161616" stroke-width="0.8" fill="none"/>
<text x="461.8" y="247.8" font-family="Liberation Serif, serif" font-size="13.6" fill="#161616">0.1</text>
<text x="430.4" y="263.4" font-family="Liberation Serif, serif" font-size="14.2" font-style="italic" fill="#161616">σ</text>
<text x="439" y="258.6" font-family="Liberation Serif, serif" font-size="9.6" fill="#161616">2</text>
<text x="438.8" y="266.3" font-family="Liberation Serif, serif" font-size="9.6" font-style="italic" fill="#161616">a</text>
<path d="M449 258.5H458.2M449 261.5H458.2" stroke="#161616" stroke-width="0.8" fill="none"/>
<text x="461.8" y="263.8" font-family="Liberation Serif, serif" font-size="13.6" fill="#161616">1</text>
<text x="430.4" y="279.5" font-family="Liberation Serif, serif" font-size="14.2" font-style="italic" fill="#161616">σ</text>
<text x="439" y="274.6" font-family="Liberation Serif, serif" font-size="9.6" fill="#161616">2</text>
<text x="438.8" y="282.4" font-family="Liberation Serif, serif" font-size="9.6" font-style="italic" fill="#161616">a</text>
<path d="M449 274.5H458.2M449 277.5H458.2" stroke="#161616" stroke-width="0.8" fill="none"/>
<text x="461.8" y="279.9" font-family="Liberation Serif, serif" font-size="13.6" fill="#161616">10</text>
</svg>
</body></html>
